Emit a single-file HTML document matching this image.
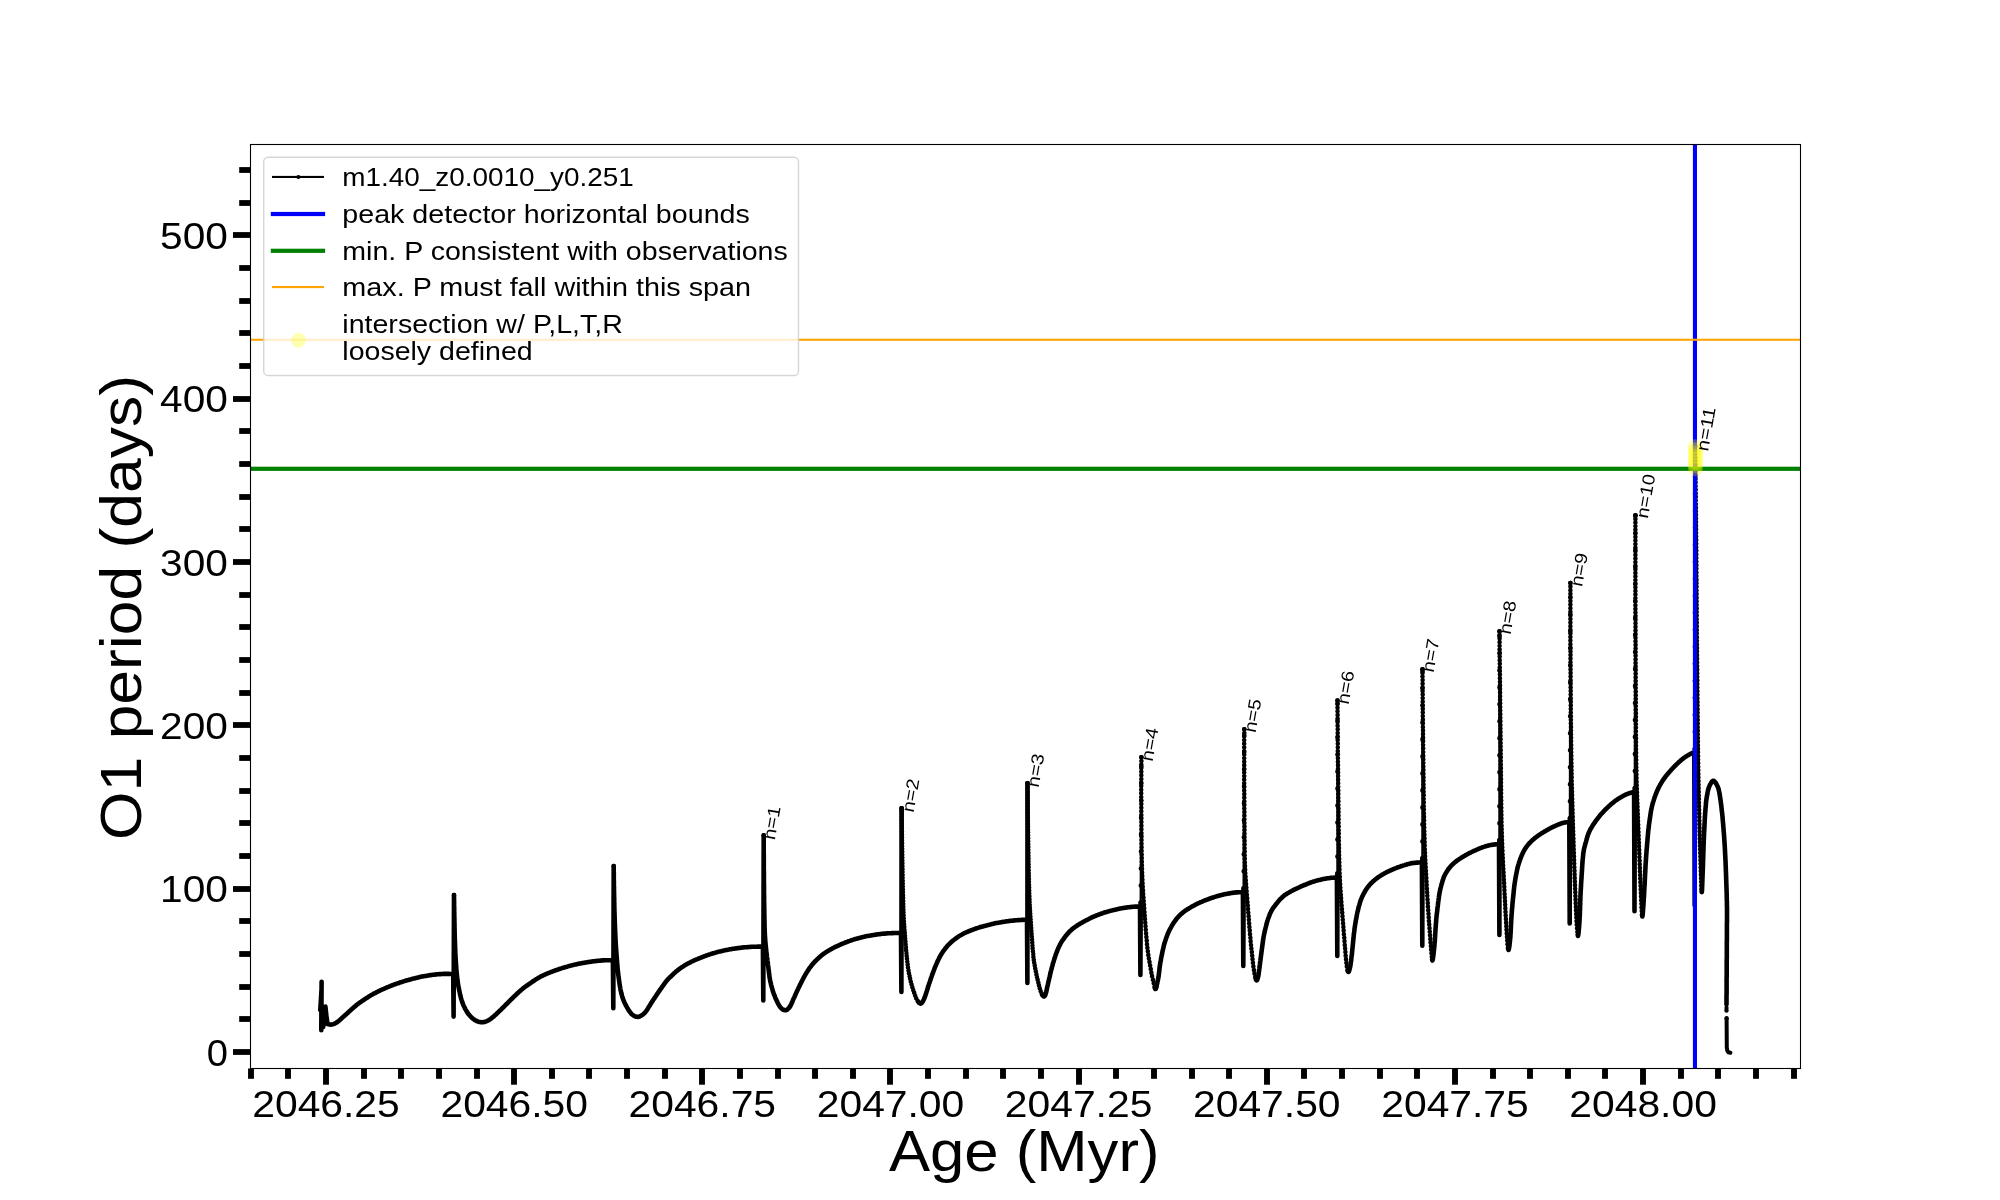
<!DOCTYPE html>
<html><head><meta charset="utf-8"><title>O1 period vs Age</title>
<style>html,body{margin:0;padding:0;background:#fff;}body{width:2000px;height:1200px;overflow:hidden;}svg{display:block;will-change:transform;}text{font-family:"Liberation Sans",sans-serif;fill:#000;}</style></head>
<body>
<svg width="2000" height="1200" viewBox="0 0 2000 1200">
<rect x="0" y="0" width="2000" height="1200" fill="#fff"/>
<defs><clipPath id="ax"><rect x="250.5" y="144.5" width="1550.0" height="924.0"/></clipPath></defs>
<g clip-path="url(#ax)">
<path d="M454.0,895.0 L454.0,895.0 L454.0,896.0 M613.7,866.0 L613.7,866.0 L613.7,867.0 M763.7,835.3 L763.7,835.3 L763.7,836.3 M901.6,808.3 L901.6,808.3 L901.6,808.3 L901.6,809.3 L901.6,810.3 L901.6,811.3 L901.6,812.3 L901.7,813.3 L901.7,814.3 L901.7,815.3 L901.7,816.3 L901.7,817.3 L901.7,818.3 L901.7,819.3 L901.7,820.3 L901.8,821.3 L901.8,822.3 L901.8,823.3 L901.8,824.3 L901.8,825.3 L901.8,826.3 L901.8,827.3 L901.8,828.3 L901.9,829.3 L901.9,830.3 L901.9,831.3 L901.9,832.3 L901.9,833.3 L901.9,834.3 L901.9,835.3 L902.0,836.3 L902.0,837.3 L902.0,838.3 L902.0,839.3 L902.0,840.3 L902.0,841.3 L902.1,842.3 L902.1,843.3 L902.1,844.3 L902.1,845.3 L902.1,846.3 L902.1,847.3 L902.1,848.3 L902.2,849.3 L902.2,850.3 L902.2,851.3 L902.2,852.3 L902.2,853.3 L902.2,854.3 L902.3,855.3 L902.3,856.3 L902.3,857.3 L902.3,858.3 L902.3,859.3 L902.3,860.3 L902.4,861.3 L902.4,862.3 L902.4,863.3 L902.4,864.3 L902.4,865.3 L902.4,866.3 L902.5,867.3 L902.5,868.3 L902.5,869.3 L902.5,870.3 L902.5,871.3 L902.5,872.3 L902.6,873.3 L902.6,874.2 L902.6,875.2 L902.6,876.2 L902.6,877.2 L902.6,878.2 L902.7,879.2 L902.7,880.2 L902.7,881.2 L902.7,882.2 L902.7,883.2 L902.8,884.2 L902.8,885.2 L902.8,886.2 L902.8,887.2 L902.8,888.2 L902.9,889.2 L902.9,890.2 L902.9,891.2 L902.9,892.2 L903.0,893.2 L903.0,894.2 L903.0,895.2 L903.0,896.2 L903.1,897.2 L903.1,898.2 L903.1,899.2 L903.1,900.2 L903.2,901.2 L903.2,902.2 L903.2,903.2 L903.2,904.2 L903.3,905.2 L903.3,906.2 L903.3,907.2 L903.4,908.2 L903.4,909.2 L903.4,910.2 L903.5,911.2 L903.5,912.2 L903.5,913.2 L903.6,914.2 L903.6,915.2 L903.6,916.2 L903.7,917.2 L903.7,918.2 L903.8,919.2 L903.9,920.2 L903.9,921.2 L904.0,922.2 L904.0,923.2 L904.1,924.2 L904.2,925.2 L904.2,926.2 L904.3,927.2 L904.4,928.2 L904.4,929.2 L904.5,930.2 L904.6,931.2 L904.7,932.2 L904.8,933.2 L904.8,934.2 L904.9,935.2 L905.0,936.1 L905.1,937.1 L905.1,938.1 L905.2,939.1 L905.3,940.1 L905.4,941.1 L905.5,942.1 L905.6,943.1 L905.6,944.1 L905.7,945.1 L905.8,946.1 L905.9,947.1 L906.0,948.1 L906.0,949.1 L906.1,950.1 L906.2,951.1 L906.3,952.1 L906.4,953.1 L906.5,954.1 L906.6,955.1 L906.7,956.1 L906.8,957.1 L906.9,958.1 L907.0,959.0 L907.1,960.0 L907.2,961.0 L907.3,962.0 L907.5,963.0 L907.6,964.0 L907.7,965.0 L907.8,966.0 L907.9,967.0 L908.1,968.0 L908.2,969.0 L908.4,970.0 L908.5,970.9 L908.7,971.9 L908.9,972.9 L909.1,973.9 L909.3,974.9 L909.5,975.8 L909.7,976.8 L909.9,977.8 L910.1,978.8 L910.3,979.8 L910.6,980.7 L910.8,981.7 L911.0,982.7 L911.3,983.6 L911.6,984.6 L911.8,985.6 L912.1,986.5 L912.4,987.5 L912.7,988.4 L913.0,989.4 L913.3,990.3 L913.7,991.3 L914.0,992.2 L914.3,993.2 L914.7,994.1 L915.0,995.0 L915.3,996.0 L915.7,996.9 L916.0,997.8 L916.4,998.7 L916.9,999.6 L917.4,1000.5 L917.9,1001.4 L918.6,1002.3 M1027.5,783.3 L1027.5,783.3 L1027.5,783.3 L1027.5,784.3 L1027.5,785.3 L1027.5,786.3 L1027.5,787.3 L1027.5,788.3 L1027.5,789.3 L1027.6,790.3 L1027.6,791.3 L1027.6,792.3 L1027.6,793.3 L1027.6,794.3 L1027.6,795.3 L1027.6,796.3 L1027.6,797.3 L1027.6,798.3 L1027.6,799.3 L1027.6,800.3 L1027.7,801.3 L1027.7,802.3 L1027.7,803.3 L1027.7,804.3 L1027.7,805.3 L1027.7,806.3 L1027.7,807.3 L1027.7,808.3 L1027.7,809.3 L1027.8,810.3 L1027.8,811.3 L1027.8,812.3 L1027.8,813.3 L1027.8,814.3 L1027.8,815.3 L1027.8,816.3 L1027.8,817.3 L1027.9,818.3 L1027.9,819.3 L1027.9,820.3 L1027.9,821.3 L1027.9,822.3 L1027.9,823.3 L1027.9,824.3 L1028.0,825.3 L1028.0,826.3 L1028.0,827.3 L1028.0,828.3 L1028.0,829.3 L1028.0,830.3 L1028.0,831.3 L1028.1,832.3 L1028.1,833.3 L1028.1,834.3 L1028.1,835.3 L1028.1,836.3 L1028.1,837.3 L1028.2,838.3 L1028.2,839.3 L1028.2,840.3 L1028.2,841.3 L1028.2,842.3 L1028.2,843.3 L1028.2,844.3 L1028.3,845.3 L1028.3,846.3 L1028.3,847.3 L1028.3,848.3 L1028.3,849.3 L1028.3,850.3 L1028.4,851.3 L1028.4,852.3 L1028.4,853.3 L1028.4,854.3 L1028.4,855.3 L1028.4,856.3 L1028.5,857.3 L1028.5,858.3 L1028.5,859.3 L1028.5,860.3 L1028.5,861.3 L1028.5,862.3 L1028.6,863.3 L1028.6,864.3 L1028.6,865.3 L1028.6,866.3 L1028.6,867.3 L1028.6,868.3 L1028.7,869.3 L1028.7,870.3 L1028.7,871.3 L1028.7,872.3 L1028.7,873.3 L1028.8,874.3 L1028.8,875.3 L1028.8,876.3 L1028.8,877.2 L1028.8,878.2 L1028.9,879.2 L1028.9,880.2 L1028.9,881.2 L1028.9,882.2 L1029.0,883.2 L1029.0,884.2 L1029.0,885.2 L1029.0,886.2 L1029.1,887.2 L1029.1,888.2 L1029.1,889.2 L1029.2,890.2 L1029.2,891.2 L1029.2,892.2 L1029.2,893.2 L1029.3,894.2 L1029.3,895.2 L1029.4,896.2 L1029.4,897.2 L1029.4,898.2 L1029.5,899.2 L1029.5,900.2 L1029.5,901.2 L1029.6,902.2 L1029.6,903.2 L1029.7,904.2 L1029.7,905.2 L1029.8,906.2 L1029.8,907.2 L1029.9,908.2 L1029.9,909.2 L1030.0,910.2 L1030.1,911.2 L1030.1,912.2 L1030.2,913.2 L1030.2,914.2 L1030.3,915.2 L1030.4,916.2 L1030.4,917.2 L1030.5,918.2 L1030.6,919.2 L1030.7,920.2 L1030.7,921.2 L1030.8,922.2 L1030.9,923.2 L1030.9,924.2 L1031.0,925.2 L1031.1,926.2 L1031.1,927.2 L1031.2,928.2 L1031.3,929.2 L1031.3,930.2 L1031.4,931.2 L1031.5,932.2 L1031.5,933.2 L1031.6,934.2 L1031.7,935.1 L1031.7,936.1 L1031.8,937.1 L1031.9,938.1 L1032.0,939.1 L1032.0,940.1 L1032.1,941.1 L1032.2,942.1 L1032.3,943.1 L1032.3,944.1 L1032.4,945.1 L1032.5,946.1 L1032.6,947.1 L1032.6,948.1 L1032.7,949.1 L1032.8,950.1 L1032.9,951.1 L1033.0,952.1 L1033.1,953.1 L1033.2,954.1 L1033.3,955.1 L1033.3,956.1 L1033.4,957.1 L1033.5,958.1 L1033.7,959.1 L1033.8,960.0 L1033.9,961.0 L1034.1,962.0 L1034.2,963.0 L1034.4,964.0 L1034.6,965.0 L1034.8,966.0 L1034.9,966.9 L1035.1,967.9 L1035.3,968.9 L1035.5,969.9 L1035.7,970.9 L1035.9,971.9 L1036.1,972.8 L1036.3,973.8 L1036.5,974.8 L1036.7,975.8 L1036.9,976.8 L1037.1,977.7 L1037.3,978.7 L1037.6,979.7 L1037.8,980.6 L1038.0,981.6 L1038.3,982.6 L1038.5,983.6 L1038.8,984.5 L1039.0,985.5 L1039.3,986.5 L1039.5,987.4 L1039.8,988.4 L1040.1,989.3 L1040.4,990.3 L1040.7,991.2 L1041.0,992.2 L1041.4,993.1 L1041.9,994.0 L1042.3,995.0 M1140.7,902.5 L1141.4,757.3 L1141.4,757.3 L1141.4,758.3 L1141.4,759.3 L1141.4,760.3 L1141.4,761.3 L1141.4,762.3 L1141.3,763.3 L1141.3,764.3 L1141.3,765.3 L1141.3,766.3 L1141.3,767.3 L1141.3,768.3 L1141.3,769.3 L1141.3,770.3 L1141.3,771.3 L1141.3,772.3 L1141.3,773.3 L1141.3,774.3 L1141.3,775.3 L1141.3,776.3 L1141.3,777.3 L1141.3,778.3 L1141.3,779.3 L1141.3,780.3 L1141.3,781.3 L1141.2,782.3 L1141.2,783.3 L1141.2,784.3 L1141.2,785.3 L1141.2,786.3 L1141.2,787.3 L1141.2,788.3 L1141.2,789.3 L1141.2,790.3 L1141.2,791.3 L1141.2,792.3 L1141.2,793.3 L1141.2,794.3 L1141.2,795.3 L1141.2,796.3 L1141.2,797.3 L1141.2,798.3 L1141.2,799.3 L1141.3,800.3 L1141.3,801.3 L1141.3,802.3 L1141.3,803.3 L1141.3,804.3 L1141.3,805.3 L1141.3,806.3 L1141.3,807.3 L1141.3,808.3 L1141.3,809.3 L1141.3,810.3 L1141.3,811.3 L1141.3,812.3 L1141.3,813.3 L1141.3,814.3 L1141.3,815.3 L1141.3,816.3 L1141.3,817.3 L1141.3,818.3 L1141.3,819.3 L1141.3,820.3 L1141.3,821.3 L1141.4,822.3 L1141.4,823.3 L1141.4,824.3 L1141.4,825.3 L1141.4,826.3 L1141.4,827.3 L1141.4,828.3 L1141.4,829.3 L1141.4,830.3 L1141.4,831.3 L1141.4,832.3 L1141.4,833.3 L1141.4,834.3 L1141.5,835.3 L1141.5,836.3 L1141.5,837.3 L1141.5,838.3 L1141.5,839.3 L1141.5,840.3 L1141.5,841.3 L1141.5,842.3 L1141.5,843.3 L1141.5,844.3 L1141.6,845.3 L1141.6,846.3 L1141.6,847.3 L1141.6,848.3 L1141.6,849.3 L1141.6,850.3 L1141.6,851.3 L1141.6,852.3 L1141.7,853.3 L1141.7,854.3 L1141.7,855.3 L1141.7,856.3 L1141.7,857.3 L1141.8,858.3 L1141.8,859.3 L1141.8,860.3 L1141.8,861.3 L1141.8,862.3 L1141.9,863.3 L1141.9,864.3 L1141.9,865.3 L1141.9,866.3 L1142.0,867.3 L1142.0,868.3 L1142.0,869.3 L1142.1,870.3 L1142.1,871.3 L1142.1,872.3 L1142.2,873.3 L1142.2,874.3 L1142.2,875.3 L1142.3,876.3 L1142.3,877.3 L1142.4,878.3 L1142.4,879.3 L1142.4,880.3 L1142.5,881.3 L1142.5,882.3 L1142.6,883.3 L1142.6,884.3 L1142.7,885.3 L1142.7,886.3 L1142.8,887.3 L1142.8,888.3 L1142.9,889.3 L1143.0,890.3 L1143.0,891.3 L1143.1,892.3 L1143.1,893.3 L1143.2,894.2 L1143.3,895.2 L1143.3,896.2 L1143.4,897.2 L1143.5,898.2 L1143.5,899.2 L1143.6,900.2 L1143.7,901.2 L1143.7,902.2 L1143.8,903.2 L1143.9,904.2 L1144.0,905.2 L1144.0,906.2 L1144.1,907.2 L1144.2,908.2 L1144.2,909.2 L1144.3,910.2 L1144.4,911.2 L1144.5,912.2 L1144.5,913.2 L1144.6,914.2 L1144.7,915.2 L1144.7,916.2 L1144.8,917.2 L1144.9,918.2 L1145.0,919.2 L1145.0,920.2 L1145.1,921.2 L1145.2,922.2 L1145.3,923.2 L1145.3,924.2 L1145.4,925.2 L1145.5,926.2 L1145.6,927.2 L1145.6,928.2 L1145.7,929.2 L1145.8,930.1 L1145.9,931.1 L1146.0,932.1 L1146.1,933.1 L1146.1,934.1 L1146.2,935.1 L1146.3,936.1 L1146.4,937.1 L1146.5,938.1 L1146.6,939.1 L1146.7,940.1 L1146.8,941.1 L1146.9,942.1 L1146.9,943.1 L1147.0,944.1 L1147.1,945.1 L1147.2,946.1 L1147.3,947.1 L1147.4,948.1 L1147.6,949.1 L1147.7,950.1 L1147.8,951.1 L1147.9,952.0 L1148.1,953.0 L1148.2,954.0 L1148.3,955.0 L1148.5,956.0 L1148.6,957.0 L1148.8,958.0 L1149.0,959.0 L1149.1,959.9 L1149.3,960.9 L1149.5,961.9 L1149.6,962.9 L1149.8,963.9 L1150.0,964.9 L1150.2,965.9 L1150.3,966.8 L1150.5,967.8 L1150.7,968.8 L1150.9,969.8 L1151.1,970.8 L1151.2,971.8 L1151.4,972.7 L1151.6,973.7 L1151.8,974.7 L1152.0,975.7 L1152.2,976.7 L1152.4,977.6 L1152.7,978.6 L1152.9,979.6 L1153.1,980.6 L1153.4,981.6 L1153.6,982.7 L1153.9,983.8 L1154.1,984.9 L1154.4,986.0 L1154.6,987.0 L1154.9,987.9 M1243.6,888.2 L1244.3,729.3 L1244.3,729.3 L1244.3,730.3 L1244.3,731.3 L1244.3,732.3 L1244.3,733.3 L1244.3,734.3 L1244.3,735.3 L1244.2,736.3 L1244.2,737.3 L1244.2,738.3 L1244.2,739.3 L1244.2,740.3 L1244.2,741.3 L1244.2,742.3 L1244.2,743.3 L1244.2,744.3 L1244.2,745.3 L1244.2,746.3 L1244.2,747.3 L1244.2,748.3 L1244.2,749.3 L1244.2,750.3 L1244.2,751.3 L1244.2,752.3 L1244.2,753.3 L1244.2,754.3 L1244.2,755.3 L1244.2,756.3 L1244.2,757.3 L1244.2,758.3 L1244.2,759.3 L1244.2,760.3 L1244.2,761.3 L1244.2,762.3 L1244.2,763.3 L1244.2,764.3 L1244.2,765.3 L1244.2,766.3 L1244.2,767.3 L1244.2,768.3 L1244.2,769.3 L1244.2,770.3 L1244.2,771.3 L1244.2,772.3 L1244.2,773.3 L1244.2,774.3 L1244.2,775.3 L1244.2,776.3 L1244.2,777.3 L1244.2,778.3 L1244.2,779.3 L1244.2,780.3 L1244.2,781.3 L1244.2,782.3 L1244.2,783.3 L1244.2,784.3 L1244.2,785.3 L1244.2,786.3 L1244.2,787.3 L1244.2,788.3 L1244.2,789.3 L1244.2,790.3 L1244.2,791.3 L1244.2,792.3 L1244.2,793.3 L1244.3,794.3 L1244.3,795.3 L1244.3,796.3 L1244.3,797.3 L1244.3,798.3 L1244.3,799.3 L1244.3,800.3 L1244.3,801.3 L1244.3,802.3 L1244.3,803.3 L1244.3,804.3 L1244.3,805.3 L1244.3,806.3 L1244.3,807.3 L1244.3,808.3 L1244.3,809.2 L1244.4,810.2 L1244.4,811.2 L1244.4,812.2 L1244.4,813.2 L1244.4,814.2 L1244.4,815.2 L1244.4,816.2 L1244.4,817.2 L1244.4,818.2 L1244.4,819.2 L1244.4,820.2 L1244.4,821.2 L1244.4,822.2 L1244.4,823.2 L1244.5,824.2 L1244.5,825.2 L1244.5,826.2 L1244.5,827.2 L1244.5,828.2 L1244.5,829.2 L1244.5,830.2 L1244.5,831.2 L1244.5,832.2 L1244.5,833.2 L1244.5,834.2 L1244.5,835.2 L1244.5,836.2 L1244.5,837.2 L1244.6,838.2 L1244.6,839.2 L1244.6,840.2 L1244.6,841.2 L1244.6,842.2 L1244.6,843.2 L1244.6,844.2 L1244.6,845.2 L1244.6,846.2 L1244.6,847.2 L1244.6,848.2 L1244.6,849.2 L1244.6,850.2 L1244.7,851.2 L1244.7,852.2 L1244.7,853.2 L1244.7,854.2 L1244.7,855.2 L1244.7,856.2 L1244.8,857.2 L1244.8,858.2 L1244.8,859.2 L1244.8,860.2 L1244.9,861.2 L1244.9,862.2 L1244.9,863.2 L1244.9,864.2 L1245.0,865.2 L1245.0,866.2 L1245.1,867.2 L1245.1,868.2 L1245.1,869.2 L1245.2,870.2 L1245.2,871.2 L1245.3,872.2 L1245.3,873.2 L1245.4,874.2 L1245.5,875.2 L1245.5,876.2 L1245.6,877.2 L1245.6,878.2 L1245.7,879.2 L1245.8,880.2 L1245.9,881.2 L1245.9,882.2 L1246.0,883.2 L1246.1,884.2 L1246.1,885.2 L1246.2,886.2 L1246.3,887.2 L1246.4,888.2 L1246.5,889.2 L1246.5,890.2 L1246.6,891.1 L1246.7,892.1 L1246.8,893.1 L1246.8,894.1 L1246.9,895.1 L1247.0,896.1 L1247.1,897.1 L1247.2,898.1 L1247.2,899.1 L1247.3,900.1 L1247.4,901.1 L1247.5,902.1 L1247.5,903.1 L1247.6,904.1 L1247.7,905.1 L1247.8,906.1 L1247.9,907.1 L1247.9,908.1 L1248.0,909.1 L1248.1,910.1 L1248.2,911.1 L1248.3,912.1 L1248.3,913.1 L1248.4,914.1 L1248.5,915.1 L1248.6,916.1 L1248.7,917.1 L1248.7,918.0 L1248.8,919.0 L1248.9,920.0 L1249.0,921.0 L1249.0,922.0 L1249.1,923.0 L1249.2,924.0 L1249.3,925.0 L1249.4,926.0 L1249.4,927.0 L1249.5,928.0 L1249.6,929.0 L1249.7,930.0 L1249.8,931.0 L1249.9,932.0 L1249.9,933.0 L1250.0,934.0 L1250.1,935.0 L1250.2,936.0 L1250.3,937.0 L1250.4,938.0 L1250.5,939.0 L1250.5,940.0 L1250.6,941.0 L1250.7,941.9 L1250.8,942.9 L1250.9,943.9 L1251.0,944.9 L1251.1,945.9 L1251.2,946.9 L1251.3,947.9 L1251.4,948.9 L1251.6,949.9 L1251.7,950.9 L1251.8,951.9 L1251.9,952.9 L1252.0,953.9 L1252.1,954.9 L1252.2,955.9 L1252.3,956.9 L1252.4,957.9 L1252.5,958.8 L1252.6,959.8 L1252.7,960.8 L1252.8,961.8 L1252.9,962.8 L1253.1,963.8 L1253.2,964.8 L1253.3,965.8 L1253.4,966.8 L1253.6,967.8 L1253.7,968.7 L1253.9,969.7 L1254.0,970.7 L1254.2,971.7 L1254.4,972.7 L1254.5,973.7 L1254.7,974.7 L1255.0,975.8 L1255.2,976.9 L1255.5,978.0 L1255.8,979.1 M1337.4,873.6 L1337.5,700.5 L1337.5,700.5 L1337.5,701.5 L1337.5,702.5 L1337.5,703.5 L1337.5,704.5 L1337.5,705.5 L1337.5,706.5 L1337.5,707.5 L1337.5,708.5 L1337.5,709.5 L1337.5,710.5 L1337.5,711.5 L1337.6,712.5 L1337.6,713.5 L1337.6,714.5 L1337.6,715.5 L1337.6,716.5 L1337.6,717.5 L1337.6,718.5 L1337.6,719.5 L1337.6,720.5 L1337.6,721.5 L1337.6,722.5 L1337.6,723.5 L1337.6,724.5 L1337.6,725.5 L1337.6,726.5 L1337.6,727.5 L1337.7,728.5 L1337.7,729.5 L1337.7,730.5 L1337.7,731.5 L1337.7,732.5 L1337.7,733.5 L1337.7,734.5 L1337.7,735.5 L1337.7,736.5 L1337.7,737.5 L1337.7,738.5 L1337.7,739.5 L1337.7,740.5 L1337.8,741.5 L1337.8,742.5 L1337.8,743.5 L1337.8,744.5 L1337.8,745.5 L1337.8,746.5 L1337.8,747.5 L1337.8,748.5 L1337.8,749.5 L1337.8,750.5 L1337.8,751.5 L1337.9,752.5 L1337.9,753.5 L1337.9,754.5 L1337.9,755.5 L1337.9,756.5 L1337.9,757.5 L1337.9,758.5 L1337.9,759.5 L1337.9,760.5 L1337.9,761.5 L1338.0,762.5 L1338.0,763.5 L1338.0,764.5 L1338.0,765.5 L1338.0,766.5 L1338.0,767.5 L1338.0,768.5 L1338.0,769.5 L1338.0,770.5 L1338.0,771.5 L1338.1,772.5 L1338.1,773.5 L1338.1,774.5 L1338.1,775.5 L1338.1,776.5 L1338.1,777.5 L1338.1,778.5 L1338.1,779.5 L1338.1,780.5 L1338.2,781.5 L1338.2,782.5 L1338.2,783.5 L1338.2,784.5 L1338.2,785.5 L1338.2,786.5 L1338.2,787.5 L1338.2,788.5 L1338.2,789.5 L1338.3,790.5 L1338.3,791.5 L1338.3,792.5 L1338.3,793.5 L1338.3,794.5 L1338.3,795.5 L1338.3,796.5 L1338.3,797.5 L1338.3,798.5 L1338.4,799.5 L1338.4,800.5 L1338.4,801.5 L1338.4,802.5 L1338.4,803.5 L1338.4,804.5 L1338.4,805.5 L1338.4,806.5 L1338.5,807.5 L1338.5,808.5 L1338.5,809.5 L1338.5,810.5 L1338.5,811.5 L1338.5,812.5 L1338.5,813.5 L1338.5,814.5 L1338.5,815.5 L1338.6,816.5 L1338.6,817.5 L1338.6,818.5 L1338.6,819.5 L1338.6,820.5 L1338.6,821.5 L1338.6,822.5 L1338.6,823.5 L1338.7,824.5 L1338.7,825.5 L1338.7,826.5 L1338.7,827.5 L1338.7,828.5 L1338.7,829.5 L1338.7,830.5 L1338.7,831.5 L1338.7,832.5 L1338.8,833.5 L1338.8,834.5 L1338.8,835.5 L1338.8,836.5 L1338.8,837.5 L1338.8,838.5 L1338.8,839.5 L1338.8,840.5 L1338.9,841.5 L1338.9,842.5 L1338.9,843.5 L1338.9,844.5 L1338.9,845.5 L1338.9,846.5 L1339.0,847.5 L1339.0,848.5 L1339.0,849.5 L1339.0,850.5 L1339.0,851.5 L1339.0,852.5 L1339.1,853.5 L1339.1,854.5 L1339.1,855.5 L1339.1,856.5 L1339.2,857.5 L1339.2,858.5 L1339.2,859.5 L1339.2,860.5 L1339.3,861.5 L1339.3,862.5 L1339.3,863.5 L1339.3,864.5 L1339.4,865.5 L1339.4,866.5 L1339.4,867.5 L1339.5,868.5 L1339.5,869.5 L1339.5,870.5 L1339.6,871.5 L1339.6,872.5 L1339.6,873.5 L1339.7,874.5 L1339.7,875.5 L1339.8,876.5 L1339.8,877.5 L1339.8,878.5 L1339.9,879.5 L1339.9,880.5 L1340.0,881.5 L1340.0,882.5 L1340.1,883.4 L1340.2,884.4 L1340.2,885.4 L1340.3,886.4 L1340.3,887.4 L1340.4,888.4 L1340.5,889.4 L1340.5,890.4 L1340.6,891.4 L1340.7,892.4 L1340.7,893.4 L1340.8,894.4 L1340.9,895.4 L1340.9,896.4 L1341.0,897.4 L1341.1,898.4 L1341.2,899.4 L1341.2,900.4 L1341.3,901.4 L1341.4,902.4 L1341.5,903.4 L1341.6,904.4 L1341.6,905.4 L1341.7,906.4 L1341.8,907.4 L1341.9,908.4 L1341.9,909.4 L1342.0,910.4 L1342.1,911.4 L1342.2,912.4 L1342.3,913.4 L1342.3,914.4 L1342.4,915.4 L1342.5,916.4 L1342.6,917.4 L1342.7,918.3 L1342.7,919.3 L1342.8,920.3 L1342.9,921.3 L1343.0,922.3 L1343.1,923.3 L1343.1,924.3 L1343.2,925.3 L1343.3,926.3 L1343.4,927.3 L1343.5,928.3 L1343.5,929.3 L1343.6,930.3 L1343.7,931.3 L1343.8,932.3 L1343.9,933.3 L1343.9,934.3 L1344.0,935.3 L1344.1,936.3 L1344.2,937.3 L1344.3,938.3 L1344.3,939.3 L1344.4,940.3 L1344.5,941.3 L1344.6,942.3 L1344.7,943.3 L1344.7,944.3 L1344.8,945.3 L1344.9,946.3 L1345.0,947.2 L1345.1,948.2 L1345.1,949.2 L1345.2,950.2 L1345.3,951.2 L1345.4,952.2 L1345.5,953.2 L1345.6,954.2 L1345.6,955.2 L1345.7,956.2 L1345.8,957.2 L1345.9,958.2 L1346.0,959.2 L1346.1,960.2 L1346.2,961.2 L1346.3,962.2 L1346.4,963.2 L1346.5,964.2 L1346.6,965.2 L1346.8,966.3 L1347.0,967.5 L1347.2,968.7 L1347.5,969.8 L1347.8,970.8 M1422.4,858.4 L1422.5,669.3 L1422.5,669.3 L1422.5,670.3 L1422.5,671.3 L1422.5,672.3 L1422.5,673.3 L1422.5,674.3 L1422.5,675.3 L1422.5,676.3 L1422.5,677.3 L1422.5,678.3 L1422.6,679.3 L1422.6,680.3 L1422.6,681.3 L1422.6,682.3 L1422.6,683.3 L1422.6,684.3 L1422.6,685.3 L1422.6,686.3 L1422.6,687.3 L1422.6,688.3 L1422.6,689.3 L1422.6,690.3 L1422.6,691.3 L1422.6,692.3 L1422.6,693.3 L1422.7,694.3 L1422.7,695.3 L1422.7,696.3 L1422.7,697.3 L1422.7,698.3 L1422.7,699.3 L1422.7,700.3 L1422.7,701.3 L1422.7,702.3 L1422.7,703.3 L1422.7,704.3 L1422.7,705.3 L1422.7,706.3 L1422.8,707.3 L1422.8,708.3 L1422.8,709.3 L1422.8,710.3 L1422.8,711.3 L1422.8,712.3 L1422.8,713.3 L1422.8,714.3 L1422.8,715.3 L1422.8,716.3 L1422.8,717.3 L1422.9,718.3 L1422.9,719.3 L1422.9,720.3 L1422.9,721.3 L1422.9,722.3 L1422.9,723.3 L1422.9,724.3 L1422.9,725.3 L1422.9,726.3 L1422.9,727.3 L1422.9,728.3 L1423.0,729.3 L1423.0,730.3 L1423.0,731.3 L1423.0,732.3 L1423.0,733.3 L1423.0,734.3 L1423.0,735.3 L1423.0,736.3 L1423.0,737.3 L1423.1,738.3 L1423.1,739.3 L1423.1,740.3 L1423.1,741.3 L1423.1,742.3 L1423.1,743.3 L1423.1,744.3 L1423.1,745.3 L1423.1,746.3 L1423.1,747.3 L1423.2,748.3 L1423.2,749.3 L1423.2,750.3 L1423.2,751.3 L1423.2,752.3 L1423.2,753.3 L1423.2,754.3 L1423.2,755.3 L1423.2,756.3 L1423.3,757.3 L1423.3,758.3 L1423.3,759.3 L1423.3,760.3 L1423.3,761.3 L1423.3,762.2 L1423.3,763.2 L1423.3,764.2 L1423.3,765.2 L1423.3,766.2 L1423.4,767.2 L1423.4,768.2 L1423.4,769.2 L1423.4,770.2 L1423.4,771.2 L1423.4,772.2 L1423.4,773.2 L1423.4,774.2 L1423.4,775.2 L1423.5,776.2 L1423.5,777.2 L1423.5,778.2 L1423.5,779.2 L1423.5,780.2 L1423.5,781.2 L1423.5,782.2 L1423.5,783.2 L1423.5,784.2 L1423.6,785.2 L1423.6,786.2 L1423.6,787.2 L1423.6,788.2 L1423.6,789.2 L1423.6,790.2 L1423.6,791.2 L1423.6,792.2 L1423.6,793.2 L1423.7,794.2 L1423.7,795.2 L1423.7,796.2 L1423.7,797.2 L1423.7,798.2 L1423.7,799.2 L1423.7,800.2 L1423.7,801.2 L1423.8,802.2 L1423.8,803.2 L1423.8,804.2 L1423.8,805.2 L1423.8,806.2 L1423.8,807.2 L1423.8,808.2 L1423.9,809.2 L1423.9,810.2 L1423.9,811.2 L1423.9,812.2 L1423.9,813.2 L1423.9,814.2 L1424.0,815.2 L1424.0,816.2 L1424.0,817.2 L1424.0,818.2 L1424.0,819.2 L1424.1,820.2 L1424.1,821.2 L1424.1,822.2 L1424.1,823.2 L1424.1,824.2 L1424.2,825.2 L1424.2,826.2 L1424.2,827.2 L1424.2,828.2 L1424.2,829.2 L1424.3,830.2 L1424.3,831.2 L1424.3,832.2 L1424.3,833.2 L1424.4,834.2 L1424.4,835.2 L1424.4,836.2 L1424.4,837.2 L1424.5,838.2 L1424.5,839.2 L1424.5,840.2 L1424.6,841.2 L1424.6,842.2 L1424.6,843.2 L1424.7,844.2 L1424.7,845.2 L1424.7,846.2 L1424.8,847.2 L1424.8,848.2 L1424.8,849.2 L1424.9,850.2 L1424.9,851.2 L1425.0,852.2 L1425.0,853.2 L1425.1,854.2 L1425.1,855.2 L1425.1,856.2 L1425.2,857.2 L1425.2,858.2 L1425.3,859.2 L1425.3,860.2 L1425.4,861.2 L1425.4,862.2 L1425.5,863.2 L1425.5,864.2 L1425.6,865.2 L1425.7,866.2 L1425.7,867.2 L1425.8,868.2 L1425.8,869.2 L1425.9,870.2 L1425.9,871.2 L1426.0,872.2 L1426.0,873.1 L1426.1,874.1 L1426.1,875.1 L1426.2,876.1 L1426.3,877.1 L1426.3,878.1 L1426.4,879.1 L1426.4,880.1 L1426.5,881.1 L1426.5,882.1 L1426.6,883.1 L1426.6,884.1 L1426.7,885.1 L1426.8,886.1 L1426.8,887.1 L1426.9,888.1 L1426.9,889.1 L1427.0,890.1 L1427.0,891.1 L1427.1,892.1 L1427.2,893.1 L1427.2,894.1 L1427.3,895.1 L1427.3,896.1 L1427.4,897.1 L1427.5,898.1 L1427.5,899.1 L1427.6,900.1 L1427.6,901.1 L1427.7,902.1 L1427.8,903.1 L1427.8,904.1 L1427.9,905.1 L1427.9,906.1 L1428.0,907.1 L1428.1,908.1 L1428.1,909.1 L1428.2,910.1 L1428.3,911.1 L1428.3,912.1 L1428.4,913.1 L1428.5,914.1 L1428.5,915.1 L1428.6,916.1 L1428.7,917.0 L1428.7,918.0 L1428.8,919.0 L1428.9,920.0 L1428.9,921.0 L1429.0,922.0 L1429.1,923.0 L1429.2,924.0 L1429.2,925.0 L1429.3,926.0 L1429.4,927.0 L1429.5,928.0 L1429.5,929.0 L1429.6,930.0 L1429.7,931.0 L1429.8,932.0 L1429.8,933.0 L1429.9,934.0 L1430.0,935.0 L1430.1,936.0 L1430.1,937.0 L1430.2,938.0 L1430.3,939.0 L1430.4,940.0 L1430.5,941.0 L1430.5,942.0 L1430.6,943.0 L1430.7,944.0 L1430.8,945.1 L1430.9,946.1 L1430.9,947.2 L1431.0,948.3 L1431.1,949.3 L1431.2,950.4 L1431.3,951.5 L1431.4,952.5 L1431.5,953.5 L1431.6,954.5 L1431.7,955.5 L1431.8,956.5 L1431.9,957.4 L1432.0,958.3 L1432.1,959.1 M1499.4,840.2 L1499.5,631.4 L1499.5,631.4 L1499.5,632.4 L1499.5,633.4 L1499.5,634.4 L1499.5,635.4 L1499.5,636.4 L1499.5,637.4 L1499.6,638.4 L1499.6,639.4 L1499.6,640.4 L1499.6,641.4 L1499.6,642.4 L1499.6,643.4 L1499.6,644.4 L1499.6,645.4 L1499.6,646.4 L1499.6,647.4 L1499.6,648.4 L1499.6,649.4 L1499.7,650.4 L1499.7,651.4 L1499.7,652.4 L1499.7,653.4 L1499.7,654.4 L1499.7,655.4 L1499.7,656.4 L1499.7,657.4 L1499.7,658.4 L1499.7,659.4 L1499.7,660.4 L1499.7,661.4 L1499.8,662.4 L1499.8,663.4 L1499.8,664.4 L1499.8,665.4 L1499.8,666.4 L1499.8,667.4 L1499.8,668.4 L1499.8,669.4 L1499.8,670.4 L1499.8,671.4 L1499.9,672.4 L1499.9,673.4 L1499.9,674.4 L1499.9,675.4 L1499.9,676.4 L1499.9,677.4 L1499.9,678.4 L1499.9,679.4 L1499.9,680.3 L1499.9,681.3 L1500.0,682.3 L1500.0,683.3 L1500.0,684.3 L1500.0,685.3 L1500.0,686.3 L1500.0,687.3 L1500.0,688.3 L1500.0,689.3 L1500.0,690.3 L1500.0,691.3 L1500.1,692.3 L1500.1,693.3 L1500.1,694.3 L1500.1,695.3 L1500.1,696.3 L1500.1,697.3 L1500.1,698.3 L1500.1,699.3 L1500.1,700.3 L1500.2,701.3 L1500.2,702.3 L1500.2,703.3 L1500.2,704.3 L1500.2,705.3 L1500.2,706.3 L1500.2,707.3 L1500.2,708.3 L1500.2,709.3 L1500.2,710.3 L1500.3,711.3 L1500.3,712.3 L1500.3,713.3 L1500.3,714.3 L1500.3,715.3 L1500.3,716.3 L1500.3,717.3 L1500.3,718.3 L1500.3,719.3 L1500.4,720.3 L1500.4,721.3 L1500.4,722.3 L1500.4,723.3 L1500.4,724.3 L1500.4,725.3 L1500.4,726.3 L1500.4,727.3 L1500.4,728.3 L1500.5,729.3 L1500.5,730.3 L1500.5,731.3 L1500.5,732.3 L1500.5,733.3 L1500.5,734.3 L1500.5,735.3 L1500.5,736.3 L1500.5,737.3 L1500.6,738.3 L1500.6,739.3 L1500.6,740.3 L1500.6,741.3 L1500.6,742.3 L1500.6,743.3 L1500.6,744.3 L1500.6,745.3 L1500.6,746.3 L1500.7,747.3 L1500.7,748.3 L1500.7,749.3 L1500.7,750.3 L1500.7,751.3 L1500.7,752.3 L1500.7,753.3 L1500.7,754.3 L1500.7,755.3 L1500.8,756.3 L1500.8,757.3 L1500.8,758.3 L1500.8,759.3 L1500.8,760.3 L1500.8,761.3 L1500.8,762.3 L1500.8,763.3 L1500.8,764.3 L1500.9,765.3 L1500.9,766.3 L1500.9,767.3 L1500.9,768.3 L1500.9,769.3 L1500.9,770.3 L1500.9,771.3 L1500.9,772.3 L1500.9,773.3 L1500.9,774.2 L1500.9,775.2 L1501.0,776.2 L1501.0,777.2 L1501.0,778.2 L1501.0,779.2 L1501.0,780.2 L1501.0,781.2 L1501.0,782.2 L1501.0,783.2 L1501.0,784.2 L1501.0,785.2 L1501.0,786.2 L1501.0,787.2 L1501.0,788.2 L1501.1,789.2 L1501.1,790.2 L1501.1,791.2 L1501.1,792.2 L1501.1,793.2 L1501.1,794.2 L1501.1,795.2 L1501.1,796.2 L1501.1,797.2 L1501.1,798.2 L1501.2,799.2 L1501.2,800.2 L1501.2,801.2 L1501.2,802.2 L1501.2,803.2 L1501.2,804.2 L1501.2,805.2 L1501.2,806.2 L1501.3,807.2 L1501.3,808.2 L1501.3,809.2 L1501.3,810.2 L1501.3,811.2 L1501.3,812.2 L1501.3,813.2 L1501.4,814.2 L1501.4,815.2 L1501.4,816.2 L1501.4,817.2 L1501.4,818.2 L1501.5,819.2 L1501.5,820.2 L1501.5,821.2 L1501.5,822.2 L1501.5,823.2 L1501.6,824.2 L1501.6,825.2 L1501.6,826.2 L1501.6,827.2 L1501.7,828.2 L1501.7,829.2 L1501.7,830.2 L1501.7,831.2 L1501.8,832.2 L1501.8,833.2 L1501.8,834.2 L1501.9,835.2 L1501.9,836.2 L1501.9,837.2 L1501.9,838.2 L1502.0,839.2 L1502.0,840.2 L1502.1,841.2 L1502.1,842.2 L1502.1,843.2 L1502.2,844.2 L1502.2,845.2 L1502.2,846.2 L1502.3,847.2 L1502.3,848.2 L1502.4,849.2 L1502.4,850.2 L1502.5,851.2 L1502.5,852.2 L1502.6,853.2 L1502.6,854.1 L1502.6,855.1 L1502.7,856.1 L1502.7,857.1 L1502.8,858.1 L1502.8,859.1 L1502.9,860.1 L1502.9,861.1 L1503.0,862.1 L1503.0,863.1 L1503.1,864.1 L1503.1,865.1 L1503.2,866.1 L1503.2,867.1 L1503.3,868.1 L1503.3,869.1 L1503.4,870.1 L1503.5,871.1 L1503.5,872.1 L1503.6,873.1 L1503.6,874.1 L1503.7,875.1 L1503.7,876.1 L1503.8,877.1 L1503.8,878.1 L1503.9,879.1 L1503.9,880.1 L1504.0,881.1 L1504.0,882.1 L1504.1,883.1 L1504.1,884.1 L1504.2,885.1 L1504.2,886.1 L1504.3,887.1 L1504.3,888.1 L1504.4,889.1 L1504.4,890.1 L1504.5,891.1 L1504.5,892.1 L1504.6,893.1 L1504.6,894.1 L1504.7,895.1 L1504.7,896.1 L1504.8,897.1 L1504.8,898.0 L1504.9,899.0 L1504.9,900.0 L1505.0,901.0 L1505.0,902.0 L1505.1,903.0 L1505.1,904.0 L1505.2,905.0 L1505.2,906.0 L1505.3,907.0 L1505.3,908.0 L1505.4,909.0 L1505.4,910.0 L1505.5,911.0 L1505.5,912.0 L1505.6,913.0 L1505.6,914.0 L1505.7,915.0 L1505.7,916.0 L1505.8,917.0 L1505.8,918.0 L1505.9,919.0 L1506.0,920.0 L1506.0,921.0 L1506.1,922.0 L1506.1,923.0 L1506.2,924.0 L1506.2,925.0 L1506.3,926.0 L1506.4,927.0 L1506.4,928.0 L1506.5,929.0 L1506.5,930.0 L1506.6,931.0 L1506.7,932.0 L1506.7,933.0 L1506.8,934.0 L1506.8,935.0 L1506.9,936.0 L1507.0,936.9 L1507.0,937.9 L1507.1,938.9 L1507.2,939.9 L1507.3,941.0 L1507.3,942.0 L1507.4,943.1 L1507.5,944.2 L1507.7,945.4 L1507.8,946.5 L1507.9,947.6 L1508.1,948.5 M1569.9,818.2 L1570.4,583.0 L1570.4,583.0 L1570.4,584.0 L1570.4,585.0 L1570.4,586.0 L1570.4,587.0 L1570.4,588.0 L1570.4,589.0 L1570.4,590.0 L1570.4,591.0 L1570.4,592.0 L1570.4,593.0 L1570.4,594.0 L1570.4,595.0 L1570.4,596.0 L1570.4,597.0 L1570.4,598.0 L1570.4,599.0 L1570.4,600.0 L1570.4,601.0 L1570.4,602.0 L1570.4,603.0 L1570.4,604.0 L1570.4,605.0 L1570.4,606.0 L1570.4,607.0 L1570.4,608.0 L1570.4,609.0 L1570.4,610.0 L1570.4,611.0 L1570.4,612.0 L1570.4,613.0 L1570.4,614.0 L1570.4,615.0 L1570.4,616.0 L1570.4,617.0 L1570.4,618.0 L1570.4,619.0 L1570.4,620.0 L1570.4,621.0 L1570.4,622.0 L1570.4,623.0 L1570.4,624.0 L1570.4,625.0 L1570.4,626.0 L1570.4,627.0 L1570.4,628.0 L1570.4,629.0 L1570.4,630.0 L1570.4,631.0 L1570.4,632.0 L1570.4,633.0 L1570.4,634.0 L1570.4,635.0 L1570.4,636.0 L1570.4,637.0 L1570.4,638.0 L1570.4,639.0 L1570.4,640.0 L1570.4,641.0 L1570.4,642.0 L1570.4,643.0 L1570.4,644.0 L1570.4,645.0 L1570.4,646.0 L1570.5,647.0 L1570.5,648.0 L1570.5,649.0 L1570.5,650.0 L1570.5,651.0 L1570.5,652.0 L1570.5,653.0 L1570.5,654.0 L1570.5,655.0 L1570.5,656.0 L1570.5,657.0 L1570.5,658.0 L1570.5,659.0 L1570.5,660.0 L1570.5,661.0 L1570.5,662.0 L1570.5,663.0 L1570.5,664.0 L1570.5,665.0 L1570.5,666.0 L1570.5,667.0 L1570.5,668.0 L1570.5,669.0 L1570.6,670.0 L1570.6,671.0 L1570.6,672.0 L1570.6,673.0 L1570.6,674.0 L1570.6,675.0 L1570.6,676.0 L1570.6,677.0 L1570.6,678.0 L1570.6,679.0 L1570.6,680.0 L1570.6,681.0 L1570.6,682.0 L1570.6,683.0 L1570.6,684.0 L1570.6,685.0 L1570.6,686.0 L1570.6,687.0 L1570.7,688.0 L1570.7,689.0 L1570.7,690.0 L1570.7,691.0 L1570.7,692.0 L1570.7,693.0 L1570.7,694.0 L1570.7,695.0 L1570.7,696.0 L1570.7,697.0 L1570.7,698.0 L1570.7,699.0 L1570.7,700.0 L1570.7,701.0 L1570.8,702.0 L1570.8,703.0 L1570.8,704.0 L1570.8,705.0 L1570.8,706.0 L1570.8,707.0 L1570.8,708.0 L1570.8,709.0 L1570.8,710.0 L1570.8,711.0 L1570.8,712.0 L1570.8,713.0 L1570.8,714.0 L1570.9,715.0 L1570.9,716.0 L1570.9,717.0 L1570.9,717.9 L1570.9,718.9 L1570.9,719.9 L1570.9,720.9 L1570.9,721.9 L1570.9,722.9 L1570.9,723.9 L1570.9,724.9 L1571.0,725.9 L1571.0,726.9 L1571.0,727.9 L1571.0,728.9 L1571.0,729.9 L1571.0,730.9 L1571.0,731.9 L1571.0,732.9 L1571.0,733.9 L1571.0,734.9 L1571.1,735.9 L1571.1,736.9 L1571.1,737.9 L1571.1,738.9 L1571.1,739.9 L1571.1,740.9 L1571.1,741.9 L1571.1,742.9 L1571.1,743.9 L1571.2,744.9 L1571.2,745.9 L1571.2,746.9 L1571.2,747.9 L1571.2,748.9 L1571.2,749.9 L1571.2,750.9 L1571.2,751.9 L1571.3,752.9 L1571.3,753.9 L1571.3,754.9 L1571.3,755.9 L1571.3,756.9 L1571.3,757.9 L1571.3,758.9 L1571.4,759.9 L1571.4,760.9 L1571.4,761.9 L1571.4,762.9 L1571.4,763.9 L1571.4,764.9 L1571.5,765.9 L1571.5,766.9 L1571.5,767.9 L1571.5,768.9 L1571.5,769.9 L1571.5,770.9 L1571.6,771.9 L1571.6,772.9 L1571.6,773.9 L1571.6,774.9 L1571.6,775.9 L1571.7,776.9 L1571.7,777.9 L1571.7,778.9 L1571.7,779.9 L1571.7,780.9 L1571.8,781.9 L1571.8,782.9 L1571.8,783.9 L1571.8,784.9 L1571.9,785.9 L1571.9,786.9 L1571.9,787.9 L1571.9,788.9 L1572.0,789.9 L1572.0,790.9 L1572.0,791.9 L1572.0,792.9 L1572.1,793.9 L1572.1,794.9 L1572.1,795.9 L1572.1,796.9 L1572.2,797.9 L1572.2,798.9 L1572.2,799.9 L1572.2,800.9 L1572.3,801.9 L1572.3,802.9 L1572.3,803.9 L1572.3,804.9 L1572.4,805.9 L1572.4,806.9 L1572.4,807.9 L1572.5,808.9 L1572.5,809.9 L1572.5,810.9 L1572.5,811.9 L1572.6,812.9 L1572.6,813.9 L1572.6,814.9 L1572.7,815.9 L1572.7,816.9 L1572.7,817.9 L1572.8,818.9 L1572.8,819.9 L1572.8,820.9 L1572.8,821.9 L1572.9,822.9 L1572.9,823.9 L1572.9,824.9 L1573.0,825.9 L1573.0,826.9 L1573.0,827.9 L1573.1,828.9 L1573.1,829.9 L1573.1,830.9 L1573.2,831.9 L1573.2,832.9 L1573.2,833.9 L1573.3,834.9 L1573.3,835.9 L1573.3,836.9 L1573.4,837.9 L1573.4,838.9 L1573.4,839.9 L1573.5,840.9 L1573.5,841.9 L1573.5,842.9 L1573.6,843.9 L1573.6,844.9 L1573.6,845.9 L1573.6,846.9 L1573.7,847.9 L1573.7,848.9 L1573.7,849.9 L1573.8,850.9 L1573.8,851.9 L1573.9,852.9 L1573.9,853.9 L1573.9,854.9 L1574.0,855.9 L1574.0,856.9 L1574.0,857.9 L1574.1,858.9 L1574.1,859.9 L1574.1,860.9 L1574.2,861.9 L1574.2,862.9 L1574.2,863.9 L1574.3,864.9 L1574.3,865.9 L1574.3,866.9 L1574.4,867.8 L1574.4,868.8 L1574.4,869.8 L1574.5,870.8 L1574.5,871.8 L1574.5,872.8 L1574.6,873.8 L1574.6,874.8 L1574.7,875.8 L1574.7,876.8 L1574.7,877.8 L1574.8,878.8 L1574.8,879.8 L1574.8,880.8 L1574.9,881.8 L1574.9,882.8 L1575.0,883.8 L1575.0,884.8 L1575.0,885.8 L1575.1,886.8 L1575.1,887.8 L1575.1,888.8 L1575.2,889.8 L1575.2,890.8 L1575.3,891.8 L1575.3,892.8 L1575.3,893.8 L1575.4,894.8 L1575.4,895.8 L1575.5,896.8 L1575.5,897.8 L1575.5,898.8 L1575.6,899.8 L1575.6,900.8 L1575.6,901.8 L1575.7,902.8 L1575.7,903.8 L1575.8,904.8 L1575.8,905.8 L1575.9,906.8 L1575.9,907.8 L1575.9,908.8 L1576.0,909.8 L1576.0,910.8 L1576.1,911.8 L1576.1,912.8 L1576.2,913.8 L1576.2,914.8 L1576.3,915.8 L1576.3,916.8 L1576.4,917.8 L1576.4,918.8 L1576.5,919.8 L1576.5,920.8 L1576.6,921.8 L1576.7,922.9 L1576.7,924.0 L1576.8,925.1 L1576.9,926.3 L1577.0,927.5 L1577.1,928.7 L1577.2,929.9 L1577.3,931.1 L1577.4,932.1 L1577.5,933.1 L1577.6,934.0 L1577.7,934.8 M1634.8,788.0 L1635.4,515.3 L1635.4,515.3 L1635.4,516.3 L1635.4,517.3 L1635.4,518.3 L1635.4,519.3 L1635.4,520.3 L1635.4,521.3 L1635.4,522.3 L1635.4,523.3 L1635.4,524.3 L1635.4,525.3 L1635.4,526.3 L1635.4,527.3 L1635.4,528.3 L1635.4,529.3 L1635.4,530.3 L1635.4,531.3 L1635.4,532.3 L1635.4,533.3 L1635.4,534.3 L1635.4,535.3 L1635.4,536.3 L1635.4,537.3 L1635.4,538.3 L1635.4,539.3 L1635.4,540.3 L1635.4,541.3 L1635.4,542.3 L1635.4,543.3 L1635.4,544.3 L1635.4,545.3 L1635.4,546.3 L1635.4,547.3 L1635.4,548.3 L1635.4,549.3 L1635.4,550.3 L1635.4,551.3 L1635.4,552.3 L1635.4,553.3 L1635.4,554.3 L1635.4,555.3 L1635.4,556.3 L1635.4,557.3 L1635.4,558.3 L1635.4,559.3 L1635.4,560.3 L1635.4,561.3 L1635.4,562.3 L1635.4,563.3 L1635.4,564.3 L1635.4,565.3 L1635.4,566.3 L1635.4,567.3 L1635.4,568.3 L1635.4,569.3 L1635.4,570.3 L1635.4,571.3 L1635.4,572.3 L1635.4,573.3 L1635.4,574.3 L1635.4,575.3 L1635.4,576.3 L1635.4,577.3 L1635.4,578.3 L1635.4,579.3 L1635.4,580.3 L1635.4,581.3 L1635.4,582.3 L1635.4,583.3 L1635.4,584.3 L1635.4,585.3 L1635.4,586.3 L1635.4,587.3 L1635.4,588.3 L1635.4,589.3 L1635.4,590.3 L1635.4,591.3 L1635.4,592.3 L1635.4,593.3 L1635.4,594.3 L1635.4,595.3 L1635.4,596.3 L1635.4,597.3 L1635.4,598.3 L1635.4,599.3 L1635.4,600.3 L1635.4,601.3 L1635.4,602.3 L1635.4,603.3 L1635.4,604.3 L1635.4,605.3 L1635.4,606.3 L1635.4,607.3 L1635.4,608.3 L1635.4,609.3 L1635.4,610.3 L1635.4,611.3 L1635.4,612.3 L1635.5,613.3 L1635.5,614.3 L1635.5,615.3 L1635.5,616.3 L1635.5,617.3 L1635.5,618.3 L1635.5,619.3 L1635.5,620.3 L1635.5,621.3 L1635.5,622.3 L1635.5,623.3 L1635.5,624.3 L1635.5,625.3 L1635.5,626.3 L1635.5,627.3 L1635.5,628.3 L1635.5,629.3 L1635.5,630.3 L1635.5,631.3 L1635.5,632.3 L1635.5,633.3 L1635.5,634.3 L1635.5,635.3 L1635.5,636.3 L1635.5,637.3 L1635.5,638.3 L1635.5,639.3 L1635.5,640.3 L1635.5,641.3 L1635.6,642.3 L1635.6,643.3 L1635.6,644.3 L1635.6,645.3 L1635.6,646.3 L1635.6,647.3 L1635.6,648.3 L1635.6,649.3 L1635.6,650.3 L1635.6,651.3 L1635.6,652.3 L1635.6,653.3 L1635.6,654.3 L1635.6,655.3 L1635.6,656.3 L1635.6,657.3 L1635.6,658.3 L1635.6,659.3 L1635.6,660.3 L1635.6,661.3 L1635.6,662.3 L1635.6,663.3 L1635.6,664.3 L1635.6,665.3 L1635.6,666.3 L1635.7,667.3 L1635.7,668.3 L1635.7,669.3 L1635.7,670.3 L1635.7,671.3 L1635.7,672.3 L1635.7,673.3 L1635.7,674.3 L1635.7,675.3 L1635.7,676.3 L1635.7,677.3 L1635.7,678.3 L1635.7,679.3 L1635.7,680.3 L1635.7,681.3 L1635.7,682.3 L1635.7,683.3 L1635.7,684.3 L1635.7,685.3 L1635.7,686.3 L1635.7,687.3 L1635.7,688.3 L1635.8,689.3 L1635.8,690.3 L1635.8,691.3 L1635.8,692.3 L1635.8,693.3 L1635.8,694.3 L1635.8,695.3 L1635.8,696.3 L1635.8,697.3 L1635.8,698.3 L1635.8,699.3 L1635.8,700.3 L1635.8,701.3 L1635.8,702.3 L1635.8,703.3 L1635.8,704.3 L1635.8,705.3 L1635.8,706.3 L1635.8,707.3 L1635.8,708.3 L1635.8,709.3 L1635.8,710.3 L1635.8,711.3 L1635.8,712.3 L1635.9,713.3 L1635.9,714.3 L1635.9,715.3 L1635.9,716.3 L1635.9,717.3 L1635.9,718.3 L1635.9,719.3 L1635.9,720.3 L1635.9,721.3 L1635.9,722.3 L1635.9,723.3 L1635.9,724.3 L1635.9,725.3 L1635.9,726.3 L1635.9,727.2 L1635.9,728.2 L1635.9,729.2 L1635.9,730.2 L1635.9,731.2 L1635.9,732.2 L1635.9,733.2 L1635.9,734.2 L1635.9,735.2 L1635.9,736.2 L1636.0,737.2 L1636.0,738.2 L1636.0,739.2 L1636.0,740.2 L1636.0,741.2 L1636.0,742.2 L1636.0,743.2 L1636.0,744.2 L1636.0,745.2 L1636.0,746.2 L1636.0,747.2 L1636.0,748.2 L1636.0,749.2 L1636.1,750.2 L1636.1,751.2 L1636.1,752.2 L1636.1,753.2 L1636.1,754.2 L1636.1,755.2 L1636.1,756.2 L1636.1,757.2 L1636.2,758.2 L1636.2,759.2 L1636.2,760.2 L1636.2,761.2 L1636.2,762.2 L1636.2,763.2 L1636.2,764.2 L1636.3,765.2 L1636.3,766.2 L1636.3,767.2 L1636.3,768.2 L1636.3,769.2 L1636.4,770.2 L1636.4,771.2 L1636.4,772.2 L1636.4,773.2 L1636.4,774.2 L1636.5,775.2 L1636.5,776.2 L1636.5,777.2 L1636.5,778.2 L1636.6,779.2 L1636.6,780.2 L1636.6,781.2 L1636.6,782.2 L1636.7,783.2 L1636.7,784.2 L1636.7,785.2 L1636.8,786.2 L1636.8,787.2 L1636.8,788.2 L1636.9,789.2 L1636.9,790.2 L1636.9,791.2 L1637.0,792.2 L1637.0,793.2 L1637.0,794.2 L1637.1,795.2 L1637.1,796.2 L1637.1,797.2 L1637.2,798.2 L1637.2,799.2 L1637.2,800.2 L1637.3,801.2 L1637.3,802.2 L1637.4,803.2 L1637.4,804.2 L1637.4,805.2 L1637.5,806.2 L1637.5,807.2 L1637.5,808.2 L1637.6,809.2 L1637.6,810.2 L1637.7,811.2 L1637.7,812.2 L1637.7,813.2 L1637.8,814.2 L1637.8,815.2 L1637.9,816.2 L1637.9,817.2 L1637.9,818.2 L1638.0,819.2 L1638.0,820.2 L1638.0,821.2 L1638.1,822.2 L1638.1,823.2 L1638.2,824.2 L1638.2,825.2 L1638.2,826.2 L1638.3,827.2 L1638.3,828.2 L1638.4,829.2 L1638.4,830.2 L1638.4,831.2 L1638.5,832.2 L1638.5,833.2 L1638.6,834.2 L1638.6,835.2 L1638.6,836.2 L1638.7,837.2 L1638.7,838.2 L1638.7,839.2 L1638.8,840.2 L1638.8,841.2 L1638.9,842.2 L1638.9,843.2 L1638.9,844.2 L1639.0,845.2 L1639.0,846.2 L1639.1,847.2 L1639.1,848.2 L1639.1,849.2 L1639.2,850.2 L1639.2,851.2 L1639.3,852.2 L1639.3,853.2 L1639.3,854.2 L1639.4,855.2 L1639.4,856.2 L1639.4,857.2 L1639.5,858.2 L1639.5,859.2 L1639.6,860.2 L1639.6,861.2 L1639.6,862.2 L1639.7,863.2 L1639.7,864.2 L1639.7,865.2 L1639.8,866.2 L1639.8,867.2 L1639.9,868.2 L1639.9,869.2 L1639.9,870.2 L1640.0,871.1 L1640.0,872.1 L1640.0,873.1 L1640.1,874.1 L1640.1,875.1 L1640.2,876.1 L1640.2,877.1 L1640.2,878.1 L1640.3,879.1 L1640.3,880.1 L1640.3,881.1 L1640.4,882.1 L1640.4,883.1 L1640.5,884.1 L1640.5,885.1 L1640.6,886.1 L1640.6,887.1 L1640.6,888.1 L1640.7,889.1 L1640.7,890.1 L1640.8,891.1 L1640.8,892.1 L1640.9,893.1 L1640.9,894.1 L1641.0,895.1 L1641.0,896.1 L1641.1,897.1 L1641.1,898.1 L1641.2,899.1 L1641.2,900.1 L1641.3,901.2 L1641.3,902.3 L1641.4,903.4 L1641.4,904.6 L1641.5,905.8 L1641.5,907.0 L1641.6,908.1 L1641.7,909.3 L1641.7,910.4 L1641.8,911.5 L1641.9,912.5 L1642.0,913.5 L1642.0,914.3 L1642.1,915.1 M1694.8,748.8 L1695.1,446.5 L1695.1,446.5 L1695.1,447.5 L1695.1,448.5 L1695.1,449.5 L1695.2,450.5 L1695.2,451.5 L1695.2,452.5 L1695.2,453.5 L1695.2,454.5 L1695.2,455.5 L1695.2,456.5 L1695.3,457.5 L1695.3,458.5 L1695.3,459.5 L1695.3,460.5 L1695.3,461.5 L1695.3,462.5 L1695.3,463.5 L1695.4,464.5 L1695.4,465.5 L1695.4,466.5 L1695.4,467.5 L1695.4,468.5 L1695.4,469.5 L1695.4,470.5 L1695.4,471.5 L1695.5,472.5 L1695.5,473.5 L1695.5,474.5 L1695.5,475.5 L1695.5,476.5 L1695.5,477.5 L1695.5,478.5 L1695.6,479.5 L1695.6,480.5 L1695.6,481.5 L1695.6,482.5 L1695.6,483.5 L1695.6,484.5 L1695.6,485.5 L1695.6,486.5 L1695.7,487.5 L1695.7,488.5 L1695.7,489.5 L1695.7,490.5 L1695.7,491.5 L1695.7,492.5 L1695.7,493.5 L1695.7,494.5 L1695.7,495.5 L1695.8,496.5 L1695.8,497.5 L1695.8,498.5 L1695.8,499.5 L1695.8,500.5 L1695.8,501.5 L1695.8,502.5 L1695.8,503.5 L1695.8,504.5 L1695.9,505.5 L1695.9,506.5 L1695.9,507.5 L1695.9,508.5 L1695.9,509.5 L1695.9,510.5 L1695.9,511.5 L1695.9,512.5 L1695.9,513.5 L1695.9,514.5 L1696.0,515.5 L1696.0,516.5 L1696.0,517.5 L1696.0,518.5 L1696.0,519.5 L1696.0,520.5 L1696.0,521.5 L1696.0,522.5 L1696.0,523.5 L1696.0,524.5 L1696.0,525.5 L1696.1,526.5 L1696.1,527.5 L1696.1,528.5 L1696.1,529.5 L1696.1,530.5 L1696.1,531.5 L1696.1,532.5 L1696.1,533.5 L1696.1,534.5 L1696.1,535.5 L1696.1,536.5 L1696.2,537.5 L1696.2,538.5 L1696.2,539.5 L1696.2,540.5 L1696.2,541.5 L1696.2,542.5 L1696.2,543.5 L1696.2,544.5 L1696.2,545.5 L1696.2,546.5 L1696.2,547.5 L1696.2,548.5 L1696.2,549.5 L1696.3,550.5 L1696.3,551.5 L1696.3,552.5 L1696.3,553.5 L1696.3,554.5 L1696.3,555.5 L1696.3,556.5 L1696.3,557.5 L1696.3,558.5 L1696.3,559.5 L1696.3,560.5 L1696.3,561.5 L1696.3,562.5 L1696.3,563.5 L1696.4,564.5 L1696.4,565.5 L1696.4,566.5 L1696.4,567.5 L1696.4,568.5 L1696.4,569.5 L1696.4,570.5 L1696.4,571.5 L1696.4,572.5 L1696.4,573.5 L1696.4,574.5 L1696.4,575.5 L1696.4,576.5 L1696.4,577.5 L1696.5,578.5 L1696.5,579.5 L1696.5,580.5 L1696.5,581.5 L1696.5,582.5 L1696.5,583.5 L1696.5,584.5 L1696.5,585.5 L1696.5,586.5 L1696.5,587.5 L1696.5,588.5 L1696.5,589.5 L1696.5,590.5 L1696.5,591.5 L1696.5,592.5 L1696.6,593.5 L1696.6,594.5 L1696.6,595.5 L1696.6,596.5 L1696.6,597.5 L1696.6,598.5 L1696.6,599.5 L1696.6,600.5 L1696.6,601.5 L1696.6,602.5 L1696.6,603.5 L1696.6,604.5 L1696.6,605.5 L1696.6,606.5 L1696.7,607.5 L1696.7,608.5 L1696.7,609.5 L1696.7,610.5 L1696.7,611.5 L1696.7,612.5 L1696.7,613.5 L1696.7,614.5 L1696.7,615.5 L1696.7,616.5 L1696.7,617.5 L1696.7,618.5 L1696.7,619.5 L1696.7,620.5 L1696.8,621.5 L1696.8,622.5 L1696.8,623.5 L1696.8,624.5 L1696.8,625.5 L1696.8,626.5 L1696.8,627.5 L1696.8,628.5 L1696.8,629.5 L1696.8,630.5 L1696.8,631.5 L1696.8,632.5 L1696.8,633.5 L1696.9,634.5 L1696.9,635.5 L1696.9,636.5 L1696.9,637.5 L1696.9,638.5 L1696.9,639.5 L1696.9,640.5 L1696.9,641.5 L1696.9,642.5 L1696.9,643.5 L1696.9,644.5 L1696.9,645.5 L1697.0,646.5 L1697.0,647.5 L1697.0,648.5 L1697.0,649.5 L1697.0,650.5 L1697.0,651.5 L1697.0,652.5 L1697.0,653.5 L1697.0,654.5 L1697.0,655.5 L1697.0,656.5 L1697.1,657.5 L1697.1,658.5 L1697.1,659.5 L1697.1,660.5 L1697.1,661.5 L1697.1,662.5 L1697.1,663.5 L1697.1,664.5 L1697.1,665.5 L1697.1,666.5 L1697.1,667.5 L1697.2,668.5 L1697.2,669.5 L1697.2,670.5 L1697.2,671.5 L1697.2,672.5 L1697.2,673.5 L1697.2,674.5 L1697.2,675.5 L1697.2,676.5 L1697.2,677.5 L1697.2,678.5 L1697.3,679.5 L1697.3,680.5 L1697.3,681.5 L1697.3,682.5 L1697.3,683.5 L1697.3,684.5 L1697.3,685.5 L1697.3,686.5 L1697.3,687.5 L1697.3,688.5 L1697.3,689.5 L1697.4,690.5 L1697.4,691.5 L1697.4,692.5 L1697.4,693.5 L1697.4,694.5 L1697.4,695.5 L1697.4,696.5 L1697.4,697.5 L1697.4,698.5 L1697.4,699.5 L1697.5,700.5 L1697.5,701.5 L1697.5,702.5 L1697.5,703.5 L1697.5,704.5 L1697.5,705.5 L1697.5,706.5 L1697.5,707.5 L1697.5,708.5 L1697.6,709.5 L1697.6,710.5 L1697.6,711.5 L1697.6,712.5 L1697.6,713.5 L1697.6,714.5 L1697.6,715.5 L1697.6,716.5 L1697.6,717.5 L1697.6,718.5 L1697.7,719.5 L1697.7,720.5 L1697.7,721.5 L1697.7,722.5 L1697.7,723.5 L1697.7,724.5 L1697.7,725.5 L1697.7,726.5 L1697.7,727.5 L1697.8,728.5 L1697.8,729.5 L1697.8,730.5 L1697.8,731.5 L1697.8,732.5 L1697.8,733.5 L1697.8,734.5 L1697.8,735.5 L1697.8,736.5 L1697.9,737.5 L1697.9,738.5 L1697.9,739.5 L1697.9,740.5 L1697.9,741.5 L1697.9,742.5 L1697.9,743.5 L1697.9,744.5 L1697.9,745.5 L1698.0,746.5 L1698.0,747.5 L1698.0,748.5 L1698.0,749.5 L1698.0,750.5 L1698.0,751.5 L1698.0,752.5 L1698.0,753.5 L1698.1,754.5 L1698.1,755.5 L1698.1,756.5 L1698.1,757.5 L1698.1,758.5 L1698.1,759.5 L1698.1,760.5 L1698.2,761.5 L1698.2,762.5 L1698.2,763.5 L1698.2,764.5 L1698.2,765.5 L1698.2,766.4 L1698.2,767.4 L1698.3,768.4 L1698.3,769.4 L1698.3,770.4 L1698.3,771.4 L1698.3,772.4 L1698.3,773.4 L1698.4,774.4 L1698.4,775.4 L1698.4,776.4 L1698.4,777.4 L1698.4,778.4 L1698.4,779.4 L1698.5,780.4 L1698.5,781.4 L1698.5,782.4 L1698.5,783.4 L1698.5,784.4 L1698.6,785.4 L1698.6,786.4 L1698.6,787.4 L1698.6,788.4 L1698.6,789.4 L1698.7,790.4 L1698.7,791.4 L1698.7,792.4 L1698.7,793.4 L1698.7,794.4 L1698.8,795.4 L1698.8,796.4 L1698.8,797.4 L1698.8,798.4 L1698.9,799.4 L1698.9,800.4 L1698.9,801.4 L1698.9,802.4 L1698.9,803.4 L1699.0,804.4 L1699.0,805.4 L1699.0,806.4 L1699.0,807.4 L1699.1,808.4 L1699.1,809.4 L1699.1,810.4 L1699.1,811.4 L1699.1,812.4 L1699.2,813.4 L1699.2,814.4 L1699.2,815.4 L1699.2,816.4 L1699.3,817.4 L1699.3,818.4 L1699.3,819.4 L1699.3,820.4 L1699.4,821.4 L1699.4,822.4 L1699.4,823.4 L1699.4,824.4 L1699.5,825.4 L1699.5,826.4 L1699.5,827.4 L1699.5,828.4 L1699.6,829.4 L1699.6,830.4 L1699.6,831.4 L1699.6,832.4 L1699.7,833.4 L1699.7,834.4 L1699.7,835.4 L1699.8,836.4 L1699.8,837.4 L1699.8,838.4 L1699.8,839.4 L1699.9,840.4 L1699.9,841.4 L1699.9,842.4 L1700.0,843.4 L1700.0,844.4 L1700.0,845.4 L1700.0,846.4 L1700.1,847.4 L1700.1,848.4 L1700.1,849.4 L1700.2,850.4 L1700.2,851.4 L1700.2,852.4 L1700.3,853.4 L1700.3,854.4 L1700.3,855.4 L1700.4,856.4 L1700.4,857.4 L1700.4,858.4 L1700.5,859.4 L1700.5,860.4 L1700.5,861.4 L1700.6,862.4 L1700.6,863.4 L1700.6,864.4 L1700.7,865.4 L1700.7,866.4 L1700.7,867.5 L1700.8,868.5 L1700.8,869.6 L1700.8,870.7 L1700.9,871.9 L1700.9,873.1 L1700.9,874.3 L1701.0,875.5 L1701.0,876.7 L1701.1,877.9 L1701.1,879.1 L1701.1,880.3 L1701.2,881.5 L1701.2,882.6 L1701.3,883.7 L1701.3,884.8 L1701.3,885.8 L1701.4,886.8 L1701.4,887.7 L1701.5,888.6 L1701.5,889.4 L1701.5,890.1 L1701.6,890.7" fill="none" stroke="#000" stroke-width="2.3" stroke-linejoin="round" stroke-linecap="round"/>
<path d="M321.6,981.8 L321.3,1030.2 L321.5,990.0 L320.3,1010.0 L322.4,1012.0 L323.2,1027.0 L325.4,1006.5 L326.6,1018.0 L327.6,1024.0 L327.6,1024.0 L328.6,1024.3 L329.5,1024.5 L330.5,1024.6 L331.5,1024.5 L332.5,1024.4 L333.5,1024.1 L334.4,1023.8 L335.3,1023.3 L336.2,1022.8 L337.0,1022.3 L337.8,1021.7 L338.6,1021.1 L339.3,1020.4 L340.1,1019.7 L340.8,1019.1 L341.6,1018.4 L342.3,1017.7 L343.0,1017.1 L343.8,1016.4 L344.5,1015.7 L345.3,1015.1 L346.0,1014.4 L346.8,1013.7 L347.5,1013.1 L348.2,1012.4 L349.0,1011.7 L349.7,1011.0 L350.5,1010.4 L351.2,1009.7 L351.9,1009.0 L352.7,1008.4 L353.4,1007.7 L354.2,1007.0 L354.9,1006.4 L355.7,1005.8 L356.5,1005.1 L357.2,1004.5 L358.0,1003.9 L358.8,1003.3 L359.6,1002.7 L360.5,1002.1 L361.3,1001.6 L362.1,1001.0 L362.9,1000.4 L363.8,999.9 L364.6,999.3 L365.4,998.8 L366.3,998.2 L367.1,997.7 L368.0,997.2 L368.8,996.6 L369.7,996.1 L370.5,995.6 L371.4,995.1 L372.3,994.6 L373.1,994.1 L374.0,993.6 L374.9,993.2 L375.8,992.7 L376.6,992.2 L377.5,991.8 L378.4,991.3 L379.3,990.9 L380.2,990.4 L381.1,990.0 L382.0,989.6 L382.9,989.2 L383.9,988.8 L384.8,988.4 L385.7,988.0 L386.6,987.6 L387.5,987.2 L388.5,986.8 L389.4,986.4 L390.3,986.1 L391.2,985.7 L392.2,985.3 L393.1,985.0 L394.0,984.6 L395.0,984.3 L395.9,983.9 L396.8,983.6 L397.8,983.3 L398.7,983.0 L399.7,982.6 L400.6,982.3 L401.6,982.0 L402.5,981.7 L403.5,981.4 L404.4,981.1 L405.4,980.8 L406.3,980.5 L407.3,980.2 L408.3,980.0 L409.2,979.7 L410.2,979.4 L411.1,979.2 L412.1,978.9 L413.1,978.6 L414.0,978.4 L415.0,978.2 L416.0,977.9 L417.0,977.7 L417.9,977.5 L418.9,977.3 L419.9,977.0 L420.9,976.8 L421.8,976.6 L422.8,976.4 L423.8,976.3 L424.8,976.1 L425.8,975.9 L426.7,975.7 L427.7,975.6 L428.7,975.4 L429.7,975.3 L430.7,975.1 L431.7,975.0 L432.7,974.8 L433.7,974.7 L434.7,974.6 L435.7,974.5 L436.6,974.4 L437.6,974.3 L438.6,974.2 L439.6,974.1 L440.6,974.1 L441.6,974.0 L442.6,974.0 L443.6,973.9 L444.6,973.9 L445.6,973.9 L446.6,973.9 L447.6,973.9 L448.6,973.9 L449.6,974.0 L450.6,974.0 L451.6,974.0 L452.6,974.1 L453.2,974.1 L453.6,1016.6 L454.0,895.0 M454.0,895.0 L454.0,896.0 L454.0,897.0 L454.0,898.0 L454.0,899.0 L454.1,900.0 L454.1,901.0 L454.1,902.0 L454.1,903.0 L454.1,904.0 L454.1,905.0 L454.1,906.0 L454.2,907.0 L454.2,908.0 L454.2,909.0 L454.2,910.0 L454.2,911.0 L454.2,912.0 L454.3,913.0 L454.3,914.0 L454.3,915.0 L454.3,916.0 L454.3,917.0 L454.4,918.0 L454.4,919.0 L454.4,920.0 L454.4,921.0 L454.4,922.0 L454.5,923.0 L454.5,924.0 L454.5,925.0 L454.5,926.0 L454.5,927.0 L454.6,928.0 L454.6,929.0 L454.6,930.0 L454.6,931.0 L454.6,932.0 L454.7,933.0 L454.7,934.0 L454.7,935.0 L454.7,936.0 L454.8,937.0 L454.8,938.0 L454.8,939.0 L454.9,940.0 L454.9,941.0 L454.9,942.0 L455.0,943.0 L455.0,944.0 L455.0,945.0 L455.1,946.0 L455.1,947.0 L455.1,948.0 L455.2,949.0 L455.2,950.0 L455.2,951.0 L455.3,952.0 L455.3,953.0 L455.4,953.9 L455.4,954.9 L455.5,955.9 L455.5,956.9 L455.6,957.9 L455.7,958.9 L455.7,959.9 L455.8,960.9 L455.9,961.9 L455.9,962.9 L456.0,963.9 L456.1,964.9 L456.1,965.9 L456.2,966.9 L456.3,967.9 L456.3,968.9 L456.4,969.9 L456.5,970.9 L456.6,971.9 L456.7,972.9 L456.8,973.9 L456.9,974.9 L457.0,975.9 L457.1,976.9 L457.2,977.9 L457.3,978.9 L457.4,979.8 L457.6,980.8 L457.7,981.8 L457.8,982.8 L458.0,983.8 L458.1,984.8 L458.3,985.8 L458.5,986.8 L458.7,987.7 L458.9,988.7 L459.1,989.7 L459.3,990.7 L459.5,991.7 L459.7,992.6 L459.9,993.6 L460.1,994.6 L460.4,995.6 L460.6,996.5 L460.8,997.5 L461.1,998.5 L461.4,999.4 L461.7,1000.4 L462.0,1001.3 L462.3,1002.3 L462.7,1003.2 L463.0,1004.1 L463.4,1005.1 L463.8,1006.0 L464.3,1006.9 L464.7,1007.8 L465.1,1008.7 L465.6,1009.6 L466.1,1010.4 L466.6,1011.3 L467.1,1012.1 L467.7,1013.0 L468.3,1013.8 L468.9,1014.6 L469.5,1015.3 L470.2,1016.1 L470.9,1016.8 L471.6,1017.5 L472.4,1018.2 L473.1,1018.8 L473.9,1019.4 L474.7,1020.0 L475.6,1020.5 L476.5,1021.0 L477.4,1021.3 L478.4,1021.7 L479.3,1021.9 L480.3,1022.1 L481.3,1022.2 L482.3,1022.2 L483.3,1022.1 L484.3,1022.0 L485.2,1021.7 L486.2,1021.4 L487.1,1021.0 L488.0,1020.5 L488.9,1020.1 L489.7,1019.5 L490.6,1019.0 L491.4,1018.4 L492.1,1017.7 L492.9,1017.1 L493.7,1016.5 L494.4,1015.8 L495.2,1015.1 L495.9,1014.5 L496.6,1013.8 L497.4,1013.1 L498.1,1012.4 L498.8,1011.7 L499.5,1011.0 L500.3,1010.3 L501.0,1009.6 L501.7,1008.9 L502.4,1008.2 L503.1,1007.5 L503.8,1006.8 L504.5,1006.1 L505.2,1005.4 L505.9,1004.7 L506.6,1004.0 L507.3,1003.3 L508.0,1002.6 L508.7,1001.9 L509.4,1001.2 L510.2,1000.4 L510.9,999.7 L511.6,999.0 L512.3,998.3 L513.0,997.6 L513.7,996.9 L514.4,996.3 L515.2,995.6 L515.9,994.9 L516.6,994.2 L517.3,993.5 L518.1,992.8 L518.8,992.1 L519.5,991.4 L520.3,990.8 L521.0,990.1 L521.8,989.5 L522.6,988.8 L523.3,988.2 L524.1,987.6 L524.9,987.0 L525.7,986.4 L526.5,985.8 L527.4,985.3 L528.2,984.7 L529.0,984.1 L529.8,983.5 L530.6,983.0 L531.5,982.4 L532.3,981.8 L533.1,981.3 L533.9,980.7 L534.8,980.2 L535.6,979.6 L536.5,979.1 L537.3,978.6 L538.2,978.0 L539.0,977.5 L539.9,977.1 L540.8,976.6 L541.7,976.1 L542.6,975.7 L543.5,975.2 L544.4,974.8 L545.3,974.4 L546.2,974.0 L547.1,973.6 L548.0,973.2 L549.0,972.8 L549.9,972.4 L550.8,972.1 L551.8,971.7 L552.7,971.4 L553.6,971.0 L554.6,970.7 L555.5,970.3 L556.5,970.0 L557.4,969.7 L558.3,969.4 L559.3,969.0 L560.2,968.7 L561.2,968.4 L562.1,968.1 L563.1,967.8 L564.1,967.5 L565.0,967.2 L566.0,966.9 L566.9,966.7 L567.9,966.4 L568.8,966.1 L569.8,965.9 L570.8,965.6 L571.7,965.4 L572.7,965.1 L573.7,964.9 L574.7,964.6 L575.6,964.4 L576.6,964.2 L577.6,964.0 L578.6,963.8 L579.5,963.6 L580.5,963.4 L581.5,963.2 L582.5,963.0 L583.5,962.9 L584.5,962.7 L585.4,962.5 L586.4,962.4 L587.4,962.2 L588.4,962.0 L589.4,961.9 L590.4,961.7 L591.4,961.6 L592.4,961.5 L593.4,961.3 L594.3,961.2 L595.3,961.1 L596.3,961.0 L597.3,960.9 L598.3,960.8 L599.3,960.7 L600.3,960.6 L601.3,960.5 L602.3,960.4 L603.3,960.4 L604.3,960.3 L605.3,960.3 L606.3,960.3 L607.3,960.3 L608.3,960.3 L609.3,960.3 L610.3,960.3 L611.3,960.3 L612.3,960.3 L612.9,960.4 L613.3,1008.3 L613.7,866.0 M613.7,866.0 L613.7,867.0 L613.7,868.0 L613.7,869.0 L613.7,870.0 L613.7,871.0 L613.8,872.0 L613.8,873.0 L613.8,874.0 L613.8,875.0 L613.8,876.0 L613.8,877.0 L613.8,878.0 L613.8,879.0 L613.8,880.0 L613.9,881.0 L613.9,882.0 L613.9,883.0 L613.9,884.0 L613.9,885.0 L613.9,886.0 L614.0,887.0 L614.0,888.0 L614.0,889.0 L614.0,890.0 L614.0,891.0 L614.0,892.0 L614.1,893.0 L614.1,894.0 L614.1,895.0 L614.1,896.0 L614.1,897.0 L614.2,898.0 L614.2,899.0 L614.2,900.0 L614.2,901.0 L614.2,902.0 L614.3,903.0 L614.3,904.0 L614.3,905.0 L614.3,906.0 L614.3,907.0 L614.4,908.0 L614.4,909.0 L614.4,910.0 L614.4,911.0 L614.5,912.0 L614.5,913.0 L614.5,914.0 L614.6,915.0 L614.6,916.0 L614.6,917.0 L614.7,918.0 L614.7,919.0 L614.7,920.0 L614.8,920.9 L614.8,921.9 L614.8,922.9 L614.9,923.9 L614.9,924.9 L614.9,925.9 L615.0,926.9 L615.0,927.9 L615.1,928.9 L615.1,929.9 L615.1,930.9 L615.2,931.9 L615.2,932.9 L615.3,933.9 L615.3,934.9 L615.4,935.9 L615.4,936.9 L615.4,937.9 L615.5,938.9 L615.6,939.9 L615.6,940.9 L615.7,941.9 L615.7,942.9 L615.8,943.9 L615.8,944.9 L615.9,945.9 L616.0,946.9 L616.0,947.9 L616.1,948.9 L616.2,949.9 L616.2,950.9 L616.3,951.9 L616.4,952.9 L616.5,953.9 L616.5,954.9 L616.6,955.9 L616.7,956.9 L616.8,957.9 L616.8,958.9 L616.9,959.9 L617.0,960.9 L617.1,961.9 L617.1,962.9 L617.2,963.8 L617.3,964.8 L617.4,965.8 L617.5,966.8 L617.5,967.8 L617.6,968.8 L617.7,969.8 L617.8,970.8 L618.0,971.8 L618.1,972.8 L618.2,973.8 L618.3,974.8 L618.4,975.8 L618.6,976.8 L618.7,977.8 L618.8,978.7 L619.0,979.7 L619.1,980.7 L619.3,981.7 L619.4,982.7 L619.5,983.7 L619.7,984.7 L619.8,985.7 L620.0,986.7 L620.2,987.6 L620.3,988.6 L620.5,989.6 L620.7,990.6 L620.9,991.6 L621.2,992.5 L621.4,993.5 L621.7,994.5 L621.9,995.4 L622.2,996.4 L622.5,997.3 L622.8,998.3 L623.2,999.3 L623.5,1000.2 L623.9,1001.1 L624.3,1002.1 L624.7,1003.0 L625.1,1003.9 L625.6,1004.7 L626.0,1005.6 L626.5,1006.5 L627.0,1007.4 L627.5,1008.2 L628.0,1009.1 L628.5,1010.0 L629.1,1010.8 L629.6,1011.6 L630.2,1012.4 L630.8,1013.1 L631.5,1013.9 L632.3,1014.6 L633.2,1015.3 L634.1,1015.9 L635.0,1016.3 L635.9,1016.7 L636.8,1016.8 L637.8,1016.9 L638.7,1016.7 L639.6,1016.5 L640.5,1016.0 L641.4,1015.5 L642.3,1014.9 L643.2,1014.3 L644.0,1013.6 L644.7,1012.9 L645.3,1012.2 L645.9,1011.4 L646.5,1010.6 L647.1,1009.8 L647.6,1008.9 L648.1,1008.1 L648.6,1007.2 L649.2,1006.4 L649.7,1005.5 L650.2,1004.7 L650.7,1003.8 L651.3,1003.0 L651.8,1002.1 L652.3,1001.3 L652.9,1000.5 L653.4,999.6 L654.0,998.8 L654.6,998.0 L655.1,997.1 L655.7,996.3 L656.2,995.5 L656.8,994.6 L657.3,993.8 L657.9,993.0 L658.5,992.2 L659.0,991.3 L659.6,990.5 L660.2,989.7 L660.7,988.9 L661.3,988.1 L661.9,987.2 L662.5,986.4 L663.0,985.6 L663.6,984.8 L664.2,984.0 L664.8,983.2 L665.4,982.4 L666.0,981.6 L666.7,980.8 L667.3,980.1 L668.0,979.3 L668.6,978.6 L669.3,977.9 L670.0,977.2 L670.8,976.5 L671.5,975.8 L672.2,975.1 L672.9,974.4 L673.7,973.7 L674.4,973.0 L675.2,972.4 L675.9,971.7 L676.7,971.1 L677.5,970.4 L678.3,969.8 L679.1,969.2 L679.9,968.6 L680.7,968.0 L681.5,967.5 L682.3,966.9 L683.2,966.4 L684.0,965.8 L684.9,965.3 L685.7,964.8 L686.6,964.3 L687.5,963.8 L688.4,963.3 L689.2,962.9 L690.1,962.4 L691.0,961.9 L691.9,961.5 L692.8,961.1 L693.7,960.7 L694.6,960.2 L695.5,959.8 L696.5,959.4 L697.4,959.1 L698.3,958.7 L699.2,958.3 L700.2,957.9 L701.1,957.5 L702.0,957.2 L703.0,956.8 L703.9,956.5 L704.8,956.1 L705.8,955.8 L706.7,955.4 L707.6,955.1 L708.6,954.8 L709.5,954.4 L710.5,954.1 L711.4,953.8 L712.4,953.5 L713.3,953.2 L714.3,953.0 L715.3,952.7 L716.2,952.4 L717.2,952.1 L718.2,951.9 L719.1,951.6 L720.1,951.4 L721.1,951.2 L722.0,950.9 L723.0,950.7 L724.0,950.5 L725.0,950.3 L725.9,950.1 L726.9,949.9 L727.9,949.7 L728.9,949.5 L729.9,949.3 L730.9,949.2 L731.8,949.0 L732.8,948.8 L733.8,948.7 L734.8,948.5 L735.8,948.4 L736.8,948.2 L737.8,948.1 L738.8,948.0 L739.8,947.9 L740.8,947.7 L741.7,947.6 L742.7,947.5 L743.7,947.4 L744.7,947.3 L745.7,947.3 L746.7,947.2 L747.7,947.1 L748.7,947.0 L749.7,947.0 L750.7,946.9 L751.7,946.8 L752.7,946.8 L753.7,946.8 L754.7,946.7 L755.7,946.7 L756.7,946.7 L757.7,946.6 L758.7,946.6 L759.7,946.6 L760.7,946.6 L761.7,946.6 L762.2,946.6 L762.9,946.6 L763.3,1000.5 L763.7,835.3 M763.7,835.3 L763.7,836.3 L763.7,837.3 L763.7,838.3 L763.7,839.3 L763.7,840.3 L763.7,841.3 L763.7,842.3 L763.7,843.3 L763.7,844.3 L763.7,845.3 L763.7,846.3 L763.7,847.3 L763.7,848.3 L763.7,849.3 L763.7,850.3 L763.7,851.3 L763.7,852.3 L763.7,853.3 L763.8,854.3 L763.8,855.3 L763.8,856.3 L763.8,857.3 L763.8,858.3 L763.8,859.3 L763.8,860.3 L763.8,861.3 L763.8,862.3 L763.8,863.3 L763.8,864.3 L763.8,865.3 L763.8,866.3 L763.8,867.3 L763.8,868.3 L763.8,869.3 L763.8,870.3 L763.9,871.3 L763.9,872.3 L763.9,873.3 L763.9,874.3 L763.9,875.3 L763.9,876.3 L763.9,877.3 L763.9,878.3 L763.9,879.3 L763.9,880.3 L763.9,881.3 L763.9,882.3 L763.9,883.3 L764.0,884.3 L764.0,885.3 L764.0,886.3 L764.0,887.3 L764.0,888.3 L764.0,889.3 L764.0,890.3 L764.0,891.3 L764.0,892.3 L764.0,893.3 L764.0,894.3 L764.1,895.3 L764.1,896.3 L764.1,897.3 L764.1,898.3 L764.1,899.3 L764.1,900.3 L764.1,901.3 L764.1,902.3 L764.2,903.3 L764.2,904.3 L764.2,905.3 L764.2,906.3 L764.2,907.3 L764.2,908.3 L764.3,909.3 L764.3,910.3 L764.3,911.3 L764.3,912.3 L764.3,913.3 L764.3,914.3 L764.4,915.3 L764.4,916.3 L764.4,917.3 L764.4,918.3 L764.4,919.3 L764.5,920.3 L764.5,921.3 L764.5,922.3 L764.5,923.3 L764.5,924.3 L764.6,925.3 L764.6,926.3 L764.6,927.3 L764.6,928.3 L764.7,929.3 L764.7,930.3 L764.7,931.3 L764.8,932.3 L764.8,933.3 L764.9,934.3 L764.9,935.3 L765.0,936.3 L765.0,937.3 L765.1,938.2 L765.2,939.2 L765.2,940.2 L765.3,941.2 L765.4,942.2 L765.5,943.2 L765.6,944.2 L765.7,945.2 L765.8,946.2 L765.9,947.2 L766.0,948.2 L766.1,949.2 L766.2,950.2 L766.3,951.2 L766.4,952.2 L766.6,953.2 L766.7,954.2 L766.8,955.2 L766.9,956.1 L767.0,957.1 L767.2,958.1 L767.3,959.1 L767.4,960.1 L767.5,961.1 L767.7,962.1 L767.8,963.1 L767.9,964.1 L768.0,965.1 L768.2,966.1 L768.3,967.1 L768.4,968.1 L768.5,969.0 L768.7,970.0 L768.8,971.0 L768.9,972.0 L769.0,973.0 L769.2,974.0 L769.3,975.0 L769.4,976.0 L769.5,977.0 L769.7,978.0 L769.9,978.9 L770.0,979.9 L770.2,980.9 L770.4,981.9 L770.7,982.9 L770.9,983.8 L771.1,984.8 L771.4,985.8 L771.6,986.7 L771.9,987.7 L772.2,988.7 L772.5,989.6 L772.7,990.6 L773.0,991.6 L773.4,992.5 L773.7,993.5 L774.0,994.4 L774.4,995.3 L774.8,996.2 L775.1,997.2 L775.5,998.1 L775.9,999.0 L776.3,999.9 L776.8,1000.8 L777.2,1001.7 L777.6,1002.6 L778.0,1003.5 L778.5,1004.4 L779.0,1005.2 L779.5,1006.0 L780.1,1006.9 L780.8,1007.7 L781.5,1008.5 L782.4,1009.2 L783.2,1009.7 L784.1,1010.1 L785.0,1010.3 L785.9,1010.2 L786.8,1009.9 L787.6,1009.3 L788.4,1008.6 L789.1,1007.8 L789.7,1007.0 L790.3,1006.1 L790.7,1005.2 L791.2,1004.3 L791.6,1003.4 L792.0,1002.5 L792.4,1001.6 L792.7,1000.7 L793.1,999.8 L793.5,998.9 L793.9,998.0 L794.4,997.1 L794.8,996.1 L795.2,995.2 L795.6,994.3 L796.0,993.4 L796.4,992.5 L796.8,991.6 L797.2,990.7 L797.7,989.8 L798.1,988.9 L798.5,988.0 L799.0,987.1 L799.4,986.2 L799.8,985.3 L800.3,984.4 L800.7,983.5 L801.2,982.6 L801.6,981.7 L802.1,980.8 L802.5,979.9 L803.0,979.0 L803.4,978.1 L803.9,977.3 L804.4,976.4 L804.9,975.5 L805.4,974.6 L805.9,973.8 L806.4,972.9 L806.9,972.1 L807.5,971.2 L808.0,970.4 L808.6,969.6 L809.1,968.7 L809.7,967.9 L810.3,967.1 L810.9,966.3 L811.5,965.5 L812.1,964.7 L812.8,964.0 L813.4,963.2 L814.1,962.5 L814.8,961.7 L815.5,961.0 L816.2,960.3 L816.9,959.6 L817.6,958.9 L818.4,958.2 L819.1,957.5 L819.8,956.9 L820.6,956.2 L821.4,955.6 L822.1,955.0 L822.9,954.3 L823.7,953.7 L824.6,953.2 L825.4,952.6 L826.2,952.0 L827.1,951.5 L827.9,951.0 L828.8,950.5 L829.6,950.0 L830.5,949.5 L831.4,949.0 L832.3,948.5 L833.1,948.0 L834.0,947.6 L834.9,947.1 L835.8,946.7 L836.7,946.3 L837.7,945.9 L838.6,945.4 L839.5,945.0 L840.4,944.6 L841.3,944.2 L842.2,943.8 L843.1,943.4 L844.1,943.1 L845.0,942.7 L845.9,942.3 L846.8,942.0 L847.8,941.6 L848.7,941.2 L849.7,940.9 L850.6,940.6 L851.5,940.3 L852.5,939.9 L853.5,939.6 L854.4,939.3 L855.4,939.0 L856.3,938.8 L857.3,938.5 L858.3,938.2 L859.2,937.9 L860.2,937.7 L861.2,937.4 L862.1,937.2 L863.1,937.0 L864.1,936.8 L865.0,936.5 L866.0,936.3 L867.0,936.1 L868.0,935.9 L869.0,935.7 L870.0,935.6 L870.9,935.4 L871.9,935.2 L872.9,935.1 L873.9,934.9 L874.9,934.7 L875.9,934.6 L876.9,934.5 L877.9,934.3 L878.9,934.2 L879.8,934.1 L880.8,934.0 L881.8,933.8 L882.8,933.7 L883.8,933.6 L884.8,933.6 L885.8,933.5 L886.8,933.4 L887.8,933.3 L888.8,933.3 L889.8,933.2 L890.8,933.2 L891.8,933.1 L892.8,933.1 L893.8,933.0 L894.8,933.0 L895.8,933.0 L896.8,933.0 L897.8,933.0 L898.8,933.0 L899.8,933.0 L900.3,933.0 L901.0,933.0 L901.4,992.0 L901.6,808.3 M918.6,1002.3 L919.3,1003.0 L920.0,1003.5 L920.8,1003.6 L921.5,1003.2 L922.1,1002.5 L922.7,1001.6 L923.2,1000.7 L923.7,999.8 L924.1,998.9 L924.5,997.9 L924.8,997.0 L925.2,996.1 L925.5,995.1 L925.8,994.2 L926.1,993.3 L926.4,992.3 L926.7,991.4 L927.0,990.4 L927.3,989.5 L927.6,988.5 L927.9,987.5 L928.2,986.6 L928.5,985.6 L928.8,984.7 L929.1,983.7 L929.4,982.8 L929.8,981.8 L930.1,980.9 L930.4,979.9 L930.7,979.0 L931.0,978.1 L931.4,977.1 L931.7,976.2 L932.0,975.2 L932.4,974.3 L932.7,973.3 L933.1,972.4 L933.4,971.5 L933.8,970.5 L934.1,969.6 L934.5,968.7 L934.8,967.7 L935.2,966.8 L935.6,965.9 L936.0,965.0 L936.4,964.0 L936.8,963.1 L937.2,962.2 L937.6,961.3 L938.0,960.4 L938.5,959.5 L938.9,958.6 L939.4,957.7 L939.8,956.8 L940.3,956.0 L940.8,955.1 L941.3,954.2 L941.8,953.4 L942.4,952.5 L942.9,951.7 L943.5,950.9 L944.1,950.1 L944.7,949.3 L945.3,948.5 L945.9,947.7 L946.6,946.9 L947.2,946.1 L947.9,945.4 L948.6,944.7 L949.3,943.9 L950.0,943.3 L950.7,942.6 L951.4,941.9 L952.2,941.2 L953.0,940.6 L953.8,940.0 L954.5,939.4 L955.4,938.7 L956.2,938.2 L957.0,937.6 L957.8,937.0 L958.7,936.4 L959.5,935.9 L960.3,935.4 L961.2,934.9 L962.1,934.4 L962.9,933.9 L963.8,933.4 L964.7,933.0 L965.6,932.6 L966.6,932.2 L967.5,931.8 L968.4,931.4 L969.3,931.0 L970.3,930.6 L971.2,930.3 L972.1,929.9 L973.1,929.6 L974.0,929.2 L974.9,928.9 L975.9,928.5 L976.8,928.2 L977.8,927.9 L978.7,927.6 L979.7,927.3 L980.6,927.0 L981.6,926.7 L982.6,926.5 L983.5,926.2 L984.5,925.9 L985.5,925.7 L986.4,925.4 L987.4,925.2 L988.4,924.9 L989.3,924.7 L990.3,924.4 L991.3,924.2 L992.2,924.0 L993.2,923.8 L994.2,923.5 L995.2,923.3 L996.1,923.1 L997.1,922.9 L998.1,922.7 L999.1,922.6 L1000.1,922.4 L1001.1,922.2 L1002.0,922.0 L1003.0,921.9 L1004.0,921.7 L1005.0,921.6 L1006.0,921.4 L1007.0,921.3 L1008.0,921.2 L1009.0,921.0 L1010.0,920.9 L1010.9,920.8 L1011.9,920.7 L1012.9,920.6 L1013.9,920.5 L1014.9,920.4 L1015.9,920.3 L1016.9,920.2 L1017.9,920.1 L1018.9,920.1 L1019.9,920.0 L1020.9,920.0 L1021.9,919.9 L1022.9,919.9 L1023.9,919.8 L1024.9,919.8 L1025.9,919.8 L1026.4,919.8 L1027.0,919.8 L1027.4,983.0 L1027.5,783.3 M1042.3,995.0 L1042.9,995.8 L1043.4,996.4 L1044.1,996.5 L1044.7,996.0 L1045.2,995.2 L1045.6,994.2 L1045.9,993.2 L1046.2,992.2 L1046.4,991.2 L1046.6,990.3 L1046.8,989.3 L1047.0,988.3 L1047.2,987.3 L1047.4,986.4 L1047.7,985.4 L1047.9,984.4 L1048.1,983.4 L1048.3,982.5 L1048.5,981.5 L1048.8,980.5 L1049.0,979.5 L1049.2,978.6 L1049.4,977.6 L1049.7,976.6 L1049.9,975.7 L1050.1,974.7 L1050.3,973.7 L1050.6,972.7 L1050.8,971.8 L1051.0,970.8 L1051.3,969.8 L1051.5,968.8 L1051.8,967.9 L1052.0,966.9 L1052.3,966.0 L1052.6,965.0 L1052.8,964.0 L1053.1,963.1 L1053.4,962.1 L1053.7,961.2 L1054.0,960.2 L1054.3,959.2 L1054.6,958.3 L1054.9,957.3 L1055.2,956.4 L1055.5,955.4 L1055.8,954.5 L1056.2,953.6 L1056.5,952.6 L1056.9,951.7 L1057.2,950.8 L1057.6,949.8 L1058.0,948.9 L1058.4,948.0 L1058.8,947.1 L1059.2,946.2 L1059.7,945.3 L1060.1,944.4 L1060.6,943.5 L1061.1,942.6 L1061.6,941.8 L1062.2,940.9 L1062.7,940.1 L1063.3,939.3 L1063.9,938.5 L1064.5,937.7 L1065.1,936.8 L1065.7,936.0 L1066.3,935.3 L1067.0,934.5 L1067.6,933.7 L1068.3,933.0 L1068.9,932.2 L1069.6,931.5 L1070.4,930.8 L1071.1,930.2 L1071.8,929.5 L1072.6,928.8 L1073.4,928.2 L1074.2,927.6 L1075.0,927.0 L1075.8,926.4 L1076.7,925.9 L1077.5,925.3 L1078.3,924.8 L1079.2,924.3 L1080.0,923.8 L1080.9,923.3 L1081.8,922.8 L1082.6,922.3 L1083.5,921.8 L1084.4,921.3 L1085.3,920.8 L1086.2,920.3 L1087.0,919.9 L1087.9,919.4 L1088.8,919.0 L1089.7,918.5 L1090.6,918.1 L1091.5,917.6 L1092.4,917.2 L1093.3,916.8 L1094.2,916.4 L1095.1,916.0 L1096.1,915.6 L1097.0,915.2 L1097.9,914.9 L1098.9,914.5 L1099.8,914.2 L1100.8,913.8 L1101.7,913.5 L1102.6,913.2 L1103.6,912.8 L1104.5,912.5 L1105.5,912.2 L1106.4,912.0 L1107.4,911.7 L1108.4,911.4 L1109.3,911.1 L1110.3,910.9 L1111.3,910.6 L1112.2,910.4 L1113.2,910.1 L1114.2,909.9 L1115.2,909.7 L1116.1,909.4 L1117.1,909.2 L1118.1,909.0 L1119.1,908.8 L1120.1,908.6 L1121.0,908.4 L1122.0,908.3 L1123.0,908.1 L1124.0,907.9 L1125.0,907.8 L1126.0,907.6 L1126.9,907.5 L1127.9,907.3 L1128.9,907.2 L1129.9,907.1 L1130.9,907.0 L1131.9,906.9 L1132.9,906.8 L1133.9,906.7 L1134.9,906.6 L1135.9,906.6 L1136.9,906.6 L1137.9,906.5 L1138.9,906.5 L1139.4,906.5 L1140.0,906.5 L1140.4,974.9 L1140.7,902.5 M1154.9,987.9 L1155.1,988.6 L1155.4,989.0 L1155.7,989.0 L1155.9,988.6 L1156.2,987.8 L1156.5,986.8 L1156.7,985.5 L1157.0,984.2 L1157.3,982.9 L1157.5,981.7 L1157.7,980.7 L1158.0,979.6 L1158.2,978.7 L1158.3,977.7 L1158.5,976.7 L1158.7,975.7 L1158.8,974.7 L1158.9,973.7 L1159.0,972.7 L1159.2,971.7 L1159.3,970.7 L1159.4,969.7 L1159.5,968.7 L1159.6,967.8 L1159.7,966.8 L1159.9,965.8 L1160.0,964.8 L1160.2,963.8 L1160.3,962.8 L1160.5,961.8 L1160.7,960.9 L1160.9,959.9 L1161.0,958.9 L1161.2,957.9 L1161.4,956.9 L1161.6,956.0 L1161.8,955.0 L1162.0,954.0 L1162.2,953.0 L1162.4,952.0 L1162.6,951.1 L1162.8,950.1 L1163.1,949.1 L1163.3,948.1 L1163.5,947.1 L1163.7,946.2 L1164.0,945.2 L1164.2,944.2 L1164.5,943.3 L1164.8,942.3 L1165.1,941.4 L1165.4,940.4 L1165.7,939.5 L1166.0,938.5 L1166.4,937.6 L1166.7,936.6 L1167.1,935.7 L1167.4,934.8 L1167.8,933.8 L1168.2,932.9 L1168.6,932.0 L1169.0,931.1 L1169.5,930.2 L1169.9,929.3 L1170.4,928.4 L1170.9,927.5 L1171.3,926.7 L1171.8,925.8 L1172.4,924.9 L1172.9,924.1 L1173.4,923.2 L1174.0,922.4 L1174.5,921.6 L1175.1,920.8 L1175.7,920.0 L1176.3,919.2 L1176.9,918.4 L1177.6,917.6 L1178.3,916.9 L1179.0,916.1 L1179.7,915.4 L1180.4,914.7 L1181.1,914.0 L1181.9,913.4 L1182.7,912.7 L1183.4,912.1 L1184.2,911.5 L1185.0,910.9 L1185.8,910.3 L1186.7,909.8 L1187.5,909.2 L1188.4,908.7 L1189.2,908.2 L1190.1,907.7 L1191.0,907.1 L1191.8,906.6 L1192.7,906.2 L1193.6,905.7 L1194.4,905.2 L1195.3,904.7 L1196.2,904.3 L1197.1,903.8 L1198.0,903.4 L1198.9,903.0 L1199.8,902.6 L1200.7,902.2 L1201.7,901.8 L1202.6,901.4 L1203.5,901.0 L1204.4,900.6 L1205.4,900.2 L1206.3,899.9 L1207.2,899.5 L1208.2,899.2 L1209.1,898.8 L1210.0,898.5 L1211.0,898.1 L1211.9,897.8 L1212.9,897.5 L1213.8,897.2 L1214.8,896.9 L1215.7,896.6 L1216.7,896.3 L1217.7,896.0 L1218.6,895.8 L1219.6,895.5 L1220.6,895.2 L1221.5,895.0 L1222.5,894.8 L1223.5,894.5 L1224.5,894.3 L1225.4,894.1 L1226.4,893.9 L1227.4,893.7 L1228.4,893.5 L1229.4,893.4 L1230.4,893.2 L1231.3,893.0 L1232.3,892.9 L1233.3,892.8 L1234.3,892.6 L1235.3,892.5 L1236.3,892.4 L1237.3,892.4 L1238.3,892.3 L1239.3,892.2 L1240.3,892.2 L1241.3,892.2 L1242.3,892.2 L1242.9,892.2 L1243.3,966.0 L1243.6,888.2 M1255.8,979.1 L1256.1,979.9 L1256.4,980.4 L1256.7,980.4 L1257.1,980.0 L1257.4,979.1 L1257.8,978.0 L1258.1,976.8 L1258.4,975.7 L1258.5,974.6 L1258.7,973.5 L1258.8,972.5 L1259.0,971.5 L1259.1,970.6 L1259.2,969.6 L1259.4,968.6 L1259.5,967.6 L1259.6,966.6 L1259.7,965.6 L1259.9,964.6 L1260.0,963.6 L1260.1,962.6 L1260.2,961.6 L1260.4,960.6 L1260.5,959.7 L1260.6,958.7 L1260.7,957.7 L1260.9,956.7 L1261.0,955.7 L1261.1,954.7 L1261.3,953.7 L1261.4,952.7 L1261.5,951.7 L1261.7,950.7 L1261.8,949.7 L1261.9,948.8 L1262.1,947.8 L1262.2,946.8 L1262.3,945.8 L1262.5,944.8 L1262.6,943.8 L1262.7,942.8 L1262.9,941.8 L1263.0,940.8 L1263.1,939.8 L1263.3,938.9 L1263.4,937.9 L1263.6,936.9 L1263.8,935.9 L1264.0,934.9 L1264.2,933.9 L1264.4,933.0 L1264.6,932.0 L1264.8,931.0 L1265.1,930.0 L1265.3,929.1 L1265.5,928.1 L1265.8,927.1 L1266.0,926.2 L1266.3,925.2 L1266.5,924.2 L1266.8,923.2 L1267.0,922.3 L1267.3,921.3 L1267.6,920.4 L1267.9,919.4 L1268.2,918.5 L1268.6,917.5 L1268.9,916.6 L1269.3,915.7 L1269.6,914.7 L1270.0,913.8 L1270.4,912.9 L1270.9,912.0 L1271.3,911.1 L1271.8,910.2 L1272.3,909.3 L1272.8,908.5 L1273.4,907.7 L1274.0,906.9 L1274.6,906.1 L1275.2,905.3 L1275.8,904.5 L1276.4,903.7 L1277.1,902.9 L1277.7,902.1 L1278.3,901.3 L1279.0,900.6 L1279.7,899.8 L1280.3,899.1 L1281.0,898.4 L1281.8,897.7 L1282.5,897.0 L1283.3,896.4 L1284.0,895.7 L1284.8,895.1 L1285.7,894.6 L1286.5,894.0 L1287.4,893.4 L1288.2,892.9 L1289.1,892.4 L1289.9,891.9 L1290.8,891.4 L1291.7,891.0 L1292.6,890.5 L1293.5,890.0 L1294.3,889.6 L1295.2,889.2 L1296.1,888.7 L1297.1,888.3 L1298.0,887.9 L1298.9,887.5 L1299.8,887.1 L1300.7,886.6 L1301.6,886.2 L1302.5,885.8 L1303.4,885.4 L1304.4,885.0 L1305.3,884.7 L1306.2,884.3 L1307.1,883.9 L1308.0,883.5 L1309.0,883.2 L1309.9,882.8 L1310.9,882.5 L1311.8,882.1 L1312.8,881.8 L1313.7,881.5 L1314.7,881.2 L1315.6,880.9 L1316.6,880.6 L1317.6,880.4 L1318.5,880.1 L1319.5,879.9 L1320.5,879.7 L1321.4,879.4 L1322.4,879.2 L1323.4,879.0 L1324.4,878.8 L1325.4,878.7 L1326.4,878.5 L1327.3,878.3 L1328.3,878.2 L1329.3,878.1 L1330.3,877.9 L1331.3,877.8 L1332.3,877.8 L1333.3,877.7 L1334.3,877.6 L1335.3,877.6 L1336.3,877.6 L1336.9,877.6 L1337.3,955.9 L1337.4,873.6 M1347.8,970.8 L1348.0,971.5 L1348.3,971.9 L1348.6,971.9 L1348.9,971.5 L1349.2,970.6 L1349.5,969.6 L1349.8,968.3 L1350.1,967.1 L1350.3,966.0 L1350.5,965.0 L1350.6,963.9 L1350.8,963.0 L1350.9,962.0 L1351.1,961.0 L1351.2,960.0 L1351.3,959.0 L1351.4,958.0 L1351.5,957.0 L1351.6,956.0 L1351.8,955.0 L1351.9,954.0 L1352.0,953.0 L1352.1,952.0 L1352.2,951.0 L1352.3,950.1 L1352.4,949.1 L1352.5,948.1 L1352.6,947.1 L1352.7,946.1 L1352.8,945.1 L1352.9,944.1 L1353.0,943.1 L1353.1,942.1 L1353.2,941.1 L1353.3,940.1 L1353.4,939.1 L1353.5,938.1 L1353.6,937.1 L1353.7,936.1 L1353.8,935.1 L1353.9,934.1 L1354.0,933.1 L1354.2,932.2 L1354.3,931.2 L1354.4,930.2 L1354.5,929.2 L1354.6,928.2 L1354.8,927.2 L1354.9,926.2 L1355.1,925.2 L1355.2,924.2 L1355.4,923.2 L1355.6,922.3 L1355.7,921.3 L1355.9,920.3 L1356.1,919.3 L1356.3,918.3 L1356.5,917.3 L1356.6,916.4 L1356.8,915.4 L1357.0,914.4 L1357.2,913.4 L1357.4,912.4 L1357.6,911.5 L1357.9,910.5 L1358.1,909.5 L1358.3,908.5 L1358.6,907.6 L1358.8,906.6 L1359.1,905.6 L1359.4,904.7 L1359.7,903.7 L1359.9,902.7 L1360.2,901.8 L1360.5,900.8 L1360.9,899.9 L1361.2,899.0 L1361.6,898.1 L1362.0,897.1 L1362.4,896.2 L1362.9,895.3 L1363.3,894.4 L1363.8,893.5 L1364.3,892.7 L1364.7,891.8 L1365.3,890.9 L1365.8,890.0 L1366.3,889.2 L1366.9,888.3 L1367.5,887.5 L1368.1,886.7 L1368.7,886.0 L1369.3,885.2 L1370.0,884.4 L1370.7,883.7 L1371.4,883.0 L1372.1,882.3 L1372.8,881.6 L1373.6,880.9 L1374.4,880.3 L1375.2,879.6 L1375.9,879.0 L1376.7,878.4 L1377.5,877.8 L1378.3,877.2 L1379.2,876.6 L1380.0,876.1 L1380.8,875.5 L1381.7,875.0 L1382.5,874.5 L1383.4,874.0 L1384.3,873.5 L1385.1,873.0 L1386.0,872.6 L1386.9,872.1 L1387.8,871.7 L1388.7,871.2 L1389.6,870.8 L1390.5,870.4 L1391.5,870.0 L1392.4,869.6 L1393.3,869.2 L1394.2,868.8 L1395.1,868.4 L1396.1,868.1 L1397.0,867.7 L1397.9,867.3 L1398.9,867.0 L1399.8,866.7 L1400.8,866.3 L1401.7,866.0 L1402.7,865.7 L1403.6,865.4 L1404.6,865.1 L1405.5,864.8 L1406.5,864.5 L1407.4,864.2 L1408.4,864.0 L1409.4,863.8 L1410.4,863.5 L1411.3,863.3 L1412.3,863.1 L1413.3,863.0 L1414.3,862.9 L1415.3,862.7 L1416.3,862.6 L1417.3,862.6 L1418.3,862.5 L1419.3,862.5 L1420.3,862.4 L1421.3,862.4 L1421.9,862.4 L1422.3,945.8 L1422.4,858.4 M1432.1,959.1 L1432.2,959.8 L1432.3,960.3 L1432.4,960.5 L1432.6,960.2 L1432.7,959.6 L1432.9,958.6 L1433.1,957.4 L1433.3,956.0 L1433.5,954.5 L1433.6,953.0 L1433.8,951.5 L1433.9,950.2 L1434.1,949.0 L1434.2,947.9 L1434.3,946.9 L1434.4,945.9 L1434.5,944.9 L1434.5,943.9 L1434.6,942.9 L1434.7,941.9 L1434.8,940.9 L1434.9,939.9 L1434.9,938.9 L1435.0,937.9 L1435.1,936.9 L1435.1,935.9 L1435.2,934.9 L1435.2,933.9 L1435.3,932.9 L1435.4,931.9 L1435.4,930.9 L1435.5,929.9 L1435.5,928.9 L1435.6,927.9 L1435.7,926.9 L1435.8,925.9 L1435.8,925.0 L1435.9,924.0 L1436.0,923.0 L1436.1,922.0 L1436.2,921.0 L1436.2,920.0 L1436.3,919.0 L1436.4,918.0 L1436.5,917.0 L1436.6,916.0 L1436.7,915.0 L1436.8,914.0 L1436.9,913.0 L1437.1,912.0 L1437.2,911.0 L1437.3,910.0 L1437.4,909.0 L1437.5,908.1 L1437.6,907.1 L1437.8,906.1 L1437.9,905.1 L1438.0,904.1 L1438.1,903.1 L1438.2,902.1 L1438.4,901.1 L1438.5,900.1 L1438.6,899.1 L1438.8,898.1 L1438.9,897.1 L1439.0,896.1 L1439.2,895.2 L1439.3,894.2 L1439.5,893.2 L1439.7,892.2 L1439.9,891.2 L1440.1,890.3 L1440.3,889.3 L1440.5,888.3 L1440.8,887.3 L1441.0,886.4 L1441.3,885.4 L1441.5,884.4 L1441.8,883.5 L1442.1,882.5 L1442.4,881.5 L1442.7,880.6 L1443.0,879.6 L1443.3,878.7 L1443.6,877.7 L1444.0,876.8 L1444.4,875.9 L1444.8,875.0 L1445.3,874.1 L1445.8,873.2 L1446.3,872.4 L1446.8,871.5 L1447.4,870.7 L1447.9,869.8 L1448.5,869.0 L1449.1,868.2 L1449.8,867.4 L1450.4,866.6 L1451.1,865.9 L1451.8,865.1 L1452.5,864.4 L1453.2,863.8 L1453.9,863.1 L1454.7,862.5 L1455.5,861.8 L1456.3,861.2 L1457.1,860.6 L1457.9,860.0 L1458.8,859.5 L1459.6,858.9 L1460.4,858.4 L1461.3,857.8 L1462.1,857.3 L1463.0,856.8 L1463.8,856.2 L1464.7,855.7 L1465.5,855.2 L1466.4,854.8 L1467.3,854.3 L1468.2,853.8 L1469.1,853.3 L1469.9,852.9 L1470.8,852.4 L1471.7,852.0 L1472.6,851.5 L1473.5,851.1 L1474.4,850.7 L1475.4,850.3 L1476.3,849.9 L1477.2,849.5 L1478.1,849.1 L1479.0,848.7 L1479.9,848.3 L1480.9,847.9 L1481.8,847.6 L1482.7,847.2 L1483.7,846.9 L1484.7,846.6 L1485.6,846.3 L1486.6,846.0 L1487.5,845.8 L1488.5,845.5 L1489.5,845.3 L1490.5,845.1 L1491.4,844.9 L1492.4,844.8 L1493.4,844.6 L1494.4,844.5 L1495.4,844.4 L1496.4,844.3 L1497.4,844.2 L1498.4,844.2 L1499.0,844.2 L1499.4,934.9 L1499.4,840.2 M1508.1,948.5 L1508.2,949.3 L1508.4,949.7 L1508.5,949.9 L1508.7,949.6 L1508.9,948.9 L1509.1,947.9 L1509.3,946.6 L1509.5,945.3 L1509.6,944.0 L1509.8,942.7 L1509.9,941.6 L1510.0,940.5 L1510.1,939.5 L1510.2,938.5 L1510.3,937.5 L1510.4,936.5 L1510.4,935.5 L1510.5,934.5 L1510.6,933.5 L1510.6,932.5 L1510.7,931.5 L1510.7,930.5 L1510.8,929.5 L1510.8,928.5 L1510.9,927.5 L1510.9,926.5 L1511.0,925.5 L1511.0,924.5 L1511.1,923.5 L1511.1,922.5 L1511.2,921.5 L1511.2,920.5 L1511.3,919.5 L1511.3,918.6 L1511.4,917.6 L1511.5,916.6 L1511.5,915.6 L1511.6,914.6 L1511.7,913.6 L1511.8,912.6 L1511.8,911.6 L1511.9,910.6 L1512.0,909.6 L1512.1,908.6 L1512.2,907.6 L1512.3,906.6 L1512.4,905.6 L1512.4,904.6 L1512.5,903.6 L1512.6,902.6 L1512.7,901.6 L1512.8,900.6 L1512.9,899.6 L1513.0,898.6 L1513.1,897.7 L1513.2,896.7 L1513.3,895.7 L1513.4,894.7 L1513.5,893.7 L1513.6,892.7 L1513.7,891.7 L1513.8,890.7 L1513.9,889.7 L1514.0,888.7 L1514.1,887.7 L1514.2,886.7 L1514.3,885.7 L1514.5,884.7 L1514.6,883.7 L1514.8,882.8 L1514.9,881.8 L1515.1,880.8 L1515.2,879.8 L1515.4,878.8 L1515.6,877.8 L1515.7,876.8 L1515.9,875.9 L1516.1,874.9 L1516.3,873.9 L1516.5,872.9 L1516.7,871.9 L1516.9,871.0 L1517.1,870.0 L1517.3,869.0 L1517.5,868.0 L1517.8,867.1 L1518.0,866.1 L1518.3,865.1 L1518.6,864.2 L1518.9,863.2 L1519.2,862.3 L1519.5,861.3 L1519.8,860.4 L1520.2,859.4 L1520.5,858.5 L1520.9,857.6 L1521.2,856.6 L1521.6,855.7 L1522.0,854.8 L1522.4,853.9 L1522.8,852.9 L1523.3,852.1 L1523.7,851.2 L1524.2,850.3 L1524.7,849.5 L1525.3,848.6 L1525.8,847.8 L1526.4,846.9 L1527.0,846.1 L1527.6,845.3 L1528.3,844.5 L1528.9,843.7 L1529.6,843.0 L1530.3,842.3 L1531.0,841.5 L1531.7,840.9 L1532.4,840.2 L1533.2,839.5 L1533.9,838.9 L1534.7,838.2 L1535.5,837.6 L1536.3,837.0 L1537.1,836.4 L1537.9,835.8 L1538.7,835.3 L1539.6,834.7 L1540.4,834.1 L1541.2,833.6 L1542.1,833.1 L1542.9,832.5 L1543.8,832.0 L1544.6,831.5 L1545.5,831.0 L1546.3,830.5 L1547.2,830.0 L1548.1,829.5 L1548.9,829.0 L1549.8,828.5 L1550.7,828.1 L1551.6,827.6 L1552.5,827.2 L1553.4,826.7 L1554.3,826.3 L1555.2,825.9 L1556.1,825.5 L1557.0,825.1 L1558.0,824.7 L1558.9,824.3 L1559.8,824.0 L1560.8,823.6 L1561.7,823.3 L1562.7,823.0 L1563.6,822.8 L1564.6,822.6 L1565.6,822.4 L1566.6,822.3 L1567.5,822.2 L1568.6,822.2 L1569.3,822.2 L1569.7,923.4 L1569.9,818.2 M1577.7,934.8 L1577.8,935.3 L1577.9,935.7 L1578.0,935.9 L1578.1,935.7 L1578.2,935.2 L1578.3,934.4 L1578.5,933.4 L1578.6,932.3 L1578.7,931.0 L1578.8,929.6 L1579.0,928.2 L1579.1,926.9 L1579.2,925.6 L1579.3,924.5 L1579.3,923.4 L1579.4,922.4 L1579.5,921.4 L1579.5,920.4 L1579.6,919.4 L1579.6,918.4 L1579.7,917.4 L1579.7,916.4 L1579.8,915.4 L1579.8,914.4 L1579.9,913.4 L1579.9,912.4 L1579.9,911.4 L1580.0,910.4 L1580.0,909.4 L1580.0,908.4 L1580.1,907.4 L1580.1,906.4 L1580.1,905.4 L1580.2,904.4 L1580.2,903.4 L1580.2,902.4 L1580.2,901.4 L1580.3,900.4 L1580.3,899.4 L1580.4,898.4 L1580.4,897.4 L1580.4,896.4 L1580.5,895.4 L1580.5,894.4 L1580.6,893.4 L1580.6,892.4 L1580.7,891.4 L1580.7,890.4 L1580.8,889.4 L1580.9,888.4 L1580.9,887.4 L1581.0,886.4 L1581.0,885.4 L1581.1,884.4 L1581.1,883.4 L1581.2,882.4 L1581.3,881.4 L1581.3,880.4 L1581.4,879.4 L1581.5,878.4 L1581.5,877.4 L1581.6,876.4 L1581.6,875.4 L1581.7,874.4 L1581.8,873.4 L1581.8,872.5 L1581.9,871.5 L1582.0,870.5 L1582.0,869.5 L1582.1,868.5 L1582.1,867.5 L1582.2,866.5 L1582.3,865.5 L1582.3,864.5 L1582.4,863.5 L1582.5,862.5 L1582.5,861.5 L1582.6,860.5 L1582.7,859.5 L1582.8,858.5 L1582.9,857.5 L1583.0,856.5 L1583.1,855.5 L1583.2,854.5 L1583.3,853.5 L1583.4,852.5 L1583.6,851.5 L1583.8,850.5 L1583.9,849.6 L1584.1,848.6 L1584.4,847.6 L1584.6,846.6 L1584.9,845.7 L1585.1,844.7 L1585.4,843.7 L1585.7,842.8 L1586.0,841.8 L1586.2,840.9 L1586.5,839.9 L1586.8,838.9 L1587.0,838.0 L1587.3,837.0 L1587.6,836.1 L1587.9,835.1 L1588.2,834.2 L1588.6,833.2 L1589.0,832.3 L1589.4,831.4 L1589.8,830.5 L1590.3,829.6 L1590.7,828.7 L1591.3,827.9 L1591.8,827.0 L1592.3,826.1 L1592.8,825.3 L1593.4,824.4 L1593.9,823.6 L1594.5,822.8 L1595.1,822.0 L1595.6,821.2 L1596.2,820.4 L1596.8,819.6 L1597.4,818.8 L1598.0,818.0 L1598.7,817.2 L1599.3,816.4 L1599.9,815.6 L1600.6,814.8 L1601.2,814.1 L1601.9,813.3 L1602.6,812.6 L1603.2,811.9 L1603.9,811.1 L1604.6,810.4 L1605.3,809.7 L1606.0,809.0 L1606.7,808.3 L1607.4,807.6 L1608.2,806.9 L1608.9,806.2 L1609.6,805.6 L1610.4,804.9 L1611.1,804.2 L1611.9,803.6 L1612.7,802.9 L1613.5,802.3 L1614.2,801.7 L1615.0,801.0 L1615.8,800.4 L1616.7,799.9 L1617.5,799.3 L1618.3,798.8 L1619.2,798.2 L1620.0,797.7 L1620.9,797.2 L1621.7,796.7 L1622.6,796.2 L1623.5,795.7 L1624.4,795.3 L1625.3,794.8 L1626.2,794.4 L1627.1,794.0 L1628.0,793.7 L1629.0,793.3 L1629.9,793.0 L1630.9,792.7 L1631.8,792.4 L1632.8,792.1 L1633.3,792.0 L1634.1,792.0 L1634.5,911.3 L1634.8,788.0 M1642.1,915.1 L1642.2,915.7 L1642.3,916.2 L1642.3,916.5 L1642.4,916.4 L1642.5,916.0 L1642.6,915.3 L1642.7,914.4 L1642.8,913.2 L1642.9,911.9 L1643.0,910.5 L1643.1,909.1 L1643.2,907.7 L1643.3,906.4 L1643.4,905.3 L1643.5,904.2 L1643.5,903.2 L1643.6,902.2 L1643.6,901.2 L1643.7,900.2 L1643.8,899.2 L1643.8,898.2 L1643.9,897.2 L1644.0,896.2 L1644.0,895.2 L1644.1,894.2 L1644.1,893.2 L1644.2,892.2 L1644.2,891.2 L1644.3,890.2 L1644.3,889.2 L1644.4,888.2 L1644.4,887.2 L1644.5,886.2 L1644.6,885.2 L1644.6,884.2 L1644.7,883.2 L1644.7,882.2 L1644.8,881.2 L1644.8,880.2 L1644.9,879.2 L1644.9,878.2 L1645.0,877.2 L1645.0,876.2 L1645.1,875.2 L1645.1,874.2 L1645.2,873.2 L1645.2,872.2 L1645.3,871.2 L1645.3,870.2 L1645.4,869.2 L1645.4,868.2 L1645.5,867.2 L1645.5,866.2 L1645.6,865.2 L1645.6,864.3 L1645.7,863.3 L1645.8,862.3 L1645.8,861.3 L1645.9,860.3 L1646.0,859.3 L1646.0,858.3 L1646.1,857.3 L1646.2,856.3 L1646.2,855.3 L1646.3,854.3 L1646.4,853.3 L1646.5,852.3 L1646.5,851.3 L1646.6,850.3 L1646.7,849.3 L1646.8,848.3 L1646.9,847.3 L1647.0,846.3 L1647.0,845.3 L1647.1,844.3 L1647.2,843.3 L1647.3,842.3 L1647.4,841.3 L1647.5,840.3 L1647.5,839.3 L1647.6,838.3 L1647.7,837.3 L1647.8,836.3 L1647.9,835.3 L1648.0,834.3 L1648.0,833.4 L1648.1,832.4 L1648.2,831.4 L1648.3,830.4 L1648.4,829.4 L1648.6,828.4 L1648.7,827.4 L1648.8,826.4 L1648.9,825.4 L1649.0,824.4 L1649.2,823.4 L1649.3,822.4 L1649.4,821.4 L1649.6,820.5 L1649.7,819.5 L1649.9,818.5 L1650.0,817.5 L1650.2,816.5 L1650.3,815.5 L1650.5,814.5 L1650.6,813.5 L1650.8,812.5 L1650.9,811.5 L1651.1,810.6 L1651.3,809.6 L1651.5,808.6 L1651.7,807.6 L1651.9,806.6 L1652.1,805.7 L1652.4,804.7 L1652.6,803.7 L1652.9,802.8 L1653.2,801.8 L1653.5,800.9 L1653.8,799.9 L1654.1,799.0 L1654.4,798.0 L1654.7,797.1 L1655.1,796.1 L1655.4,795.2 L1655.8,794.2 L1656.2,793.3 L1656.5,792.4 L1656.9,791.4 L1657.3,790.5 L1657.7,789.6 L1658.2,788.7 L1658.6,787.8 L1659.0,786.9 L1659.5,786.0 L1660.0,785.1 L1660.5,784.2 L1661.0,783.4 L1661.5,782.5 L1662.0,781.7 L1662.5,780.8 L1663.1,780.0 L1663.7,779.2 L1664.3,778.3 L1664.9,777.5 L1665.5,776.7 L1666.1,775.9 L1666.7,775.1 L1667.3,774.4 L1668.0,773.6 L1668.6,772.8 L1669.3,772.1 L1669.9,771.3 L1670.6,770.6 L1671.2,769.8 L1671.9,769.1 L1672.6,768.4 L1673.3,767.7 L1674.0,766.9 L1674.7,766.2 L1675.4,765.5 L1676.1,764.8 L1676.8,764.1 L1677.5,763.4 L1678.3,762.7 L1679.0,762.0 L1679.7,761.4 L1680.5,760.7 L1681.2,760.1 L1682.0,759.4 L1682.8,758.8 L1683.6,758.2 L1684.4,757.6 L1685.2,757.0 L1686.0,756.4 L1686.9,755.9 L1687.7,755.4 L1688.6,754.9 L1689.4,754.4 L1690.3,753.9 L1691.2,753.5 L1692.1,753.0 L1692.6,752.8 L1694.3,752.8 L1694.7,905.5 L1694.8,748.8 M1701.6,890.7 L1701.6,891.3 L1701.7,891.7 L1701.7,892.0 L1701.8,892.1 L1701.8,891.9 L1701.9,891.6 L1701.9,891.1 L1702.0,890.4 L1702.0,889.5 L1702.1,888.5 L1702.1,887.3 L1702.2,886.1 L1702.2,884.8 L1702.3,883.4 L1702.3,882.0 L1702.4,880.6 L1702.4,879.2 L1702.5,877.8 L1702.5,876.4 L1702.6,875.1 L1702.6,873.9 L1702.7,872.7 L1702.7,871.7 L1702.8,870.6 L1702.8,869.6 L1702.8,868.6 L1702.9,867.6 L1702.9,866.6 L1702.9,865.6 L1703.0,864.6 L1703.0,863.6 L1703.0,862.6 L1703.1,861.6 L1703.1,860.6 L1703.1,859.6 L1703.2,858.6 L1703.2,857.7 L1703.2,856.7 L1703.2,855.7 L1703.3,854.7 L1703.3,853.7 L1703.3,852.7 L1703.4,851.7 L1703.4,850.7 L1703.4,849.7 L1703.5,848.7 L1703.5,847.7 L1703.5,846.7 L1703.6,845.7 L1703.6,844.7 L1703.7,843.7 L1703.7,842.7 L1703.7,841.7 L1703.8,840.7 L1703.8,839.7 L1703.9,838.7 L1703.9,837.7 L1703.9,836.7 L1704.0,835.7 L1704.0,834.7 L1704.1,833.7 L1704.1,832.7 L1704.2,831.7 L1704.2,830.7 L1704.3,829.7 L1704.3,828.7 L1704.4,827.7 L1704.4,826.7 L1704.5,825.7 L1704.5,824.7 L1704.6,823.7 L1704.6,822.7 L1704.7,821.7 L1704.7,820.7 L1704.8,819.7 L1704.8,818.7 L1704.9,817.7 L1704.9,816.7 L1705.0,815.7 L1705.1,814.7 L1705.1,813.7 L1705.2,812.7 L1705.3,811.7 L1705.4,810.7 L1705.4,809.7 L1705.5,808.7 L1705.6,807.7 L1705.7,806.7 L1705.8,805.7 L1705.9,804.7 L1705.9,803.7 L1706.0,802.7 L1706.1,801.7 L1706.2,800.8 L1706.4,799.8 L1706.5,798.8 L1706.7,797.8 L1706.8,796.8 L1707.0,795.8 L1707.2,794.8 L1707.4,793.8 L1707.5,792.9 L1707.7,791.9 L1707.9,790.9 L1708.1,790.0 L1708.4,789.0 L1708.7,788.0 L1709.0,787.1 L1709.4,786.2 L1709.8,785.2 L1710.3,784.2 L1710.9,783.2 L1711.4,782.3 L1712.0,781.5 L1712.7,780.9 L1713.3,780.7 L1713.9,780.9 L1714.6,781.5 L1715.3,782.3 L1715.9,783.3 L1716.5,784.3 L1717.0,785.3 L1717.5,786.2 L1717.9,787.1 L1718.2,788.1 L1718.5,789.0 L1718.8,790.0 L1719.0,790.9 L1719.2,791.9 L1719.4,792.9 L1719.5,793.8 L1719.7,794.8 L1719.9,795.8 L1720.0,796.8 L1720.2,797.8 L1720.3,798.8 L1720.5,799.8 L1720.6,800.8 L1720.8,801.7 L1720.9,802.7 L1721.0,803.7 L1721.2,804.7 L1721.3,805.7 L1721.4,806.7 L1721.5,807.7 L1721.6,808.7 L1721.7,809.7 L1721.8,810.7 L1721.9,811.7 L1722.1,812.7 L1722.2,813.7 L1722.3,814.7 L1722.4,815.7 L1722.5,816.6 L1722.6,817.6 L1722.6,818.6 L1722.7,819.6 L1722.8,820.6 L1722.9,821.6 L1723.0,822.6 L1723.1,823.6 L1723.2,824.6 L1723.2,825.6 L1723.3,826.6 L1723.4,827.6 L1723.5,828.6 L1723.6,829.6 L1723.6,830.6 L1723.7,831.6 L1723.8,832.6 L1723.9,833.6 L1724.0,834.6 L1724.0,835.6 L1724.1,836.6 L1724.2,837.6 L1724.2,838.6 L1724.3,839.6 L1724.4,840.6 L1724.4,841.6 L1724.5,842.6 L1724.6,843.6 L1724.6,844.6 L1724.7,845.6 L1724.8,846.6 L1724.8,847.6 L1724.9,848.6 L1724.9,849.6 L1725.0,850.6 L1725.0,851.6 L1725.1,852.5 L1725.1,853.5 L1725.2,854.5 L1725.2,855.5 L1725.3,856.5 L1725.3,857.5 L1725.4,858.5 L1725.4,859.5 L1725.5,860.5 L1725.5,861.5 L1725.6,862.5 L1725.6,863.5 L1725.6,864.5 L1725.7,865.5 L1725.7,866.5 L1725.8,867.5 L1725.8,868.5 L1725.8,869.5 L1725.9,870.5 L1725.9,871.5 L1726.0,872.5 L1726.0,873.5 L1726.0,874.5 L1726.1,875.5 L1726.1,876.5 L1726.1,877.5 L1726.2,878.5 L1726.2,879.5 L1726.2,880.5 L1726.3,881.5 L1726.3,882.5 L1726.3,883.5 L1726.4,884.5 L1726.4,885.5 L1726.4,886.5 L1726.5,887.5 L1726.5,888.5 L1726.5,889.5 L1726.6,890.5 L1726.6,891.5 L1726.6,892.5 L1726.7,893.5 L1726.7,894.5 L1726.7,895.5 L1726.7,896.5 L1726.8,897.5 L1726.8,898.5 L1726.8,899.5 L1726.8,900.5 L1726.9,901.5 L1726.9,902.5 L1726.9,903.5 L1726.9,904.5 L1726.9,905.5 L1727.0,906.5 L1727.0,907.5 L1727.0,908.5 L1727.0,909.5 L1727.0,910.5 L1727.0,911.5 L1727.0,912.5 L1727.0,913.5 L1727.0,914.5 L1727.0,915.5 L1727.0,916.5 L1727.0,917.5 L1727.0,918.5 L1727.0,919.5 L1727.0,920.5 L1727.0,921.5 L1727.0,922.5 L1726.9,923.5 L1726.9,924.5 L1726.9,925.5 L1726.9,926.5 L1726.9,927.5 L1726.9,928.5 L1726.9,929.5 L1726.9,930.5 L1726.9,931.5 L1726.9,932.5 L1726.9,933.5 L1726.9,934.5 L1726.9,935.5 L1726.9,936.5 L1726.9,937.5 L1726.9,938.5 L1726.9,939.5 L1726.9,940.5 L1726.8,941.5 L1726.8,942.5 L1726.8,943.5 L1726.8,944.5 L1726.8,945.5 L1726.8,946.5 L1726.8,947.5 L1726.8,948.5 L1726.8,949.5 L1726.8,950.5 L1726.8,951.5 L1726.8,952.5 L1726.8,953.5 L1726.8,954.5 L1726.8,955.5 L1726.8,956.5 L1726.8,957.5 L1726.8,958.5 L1726.7,959.5 L1726.7,960.5 L1726.7,961.5 L1726.7,962.5 L1726.7,963.5 L1726.7,964.5 L1726.7,965.5 L1726.7,966.5 L1726.7,967.5 L1726.7,968.5 L1726.7,969.5 L1726.7,970.5 L1726.7,971.5 L1726.7,972.5 L1726.7,973.5 L1726.7,974.5 L1726.7,975.5 L1726.7,976.5 L1726.6,977.5 L1726.6,978.5 L1726.6,979.5 L1726.6,980.5 L1726.6,981.5 L1726.6,982.5 L1726.6,983.5 L1726.6,984.5 L1726.6,985.5 L1726.6,986.5 L1726.6,987.5 L1726.6,988.5 L1726.6,989.5 L1726.6,990.5 L1726.6,991.5 L1726.6,992.5 L1726.6,993.5 L1726.6,994.5 L1726.5,995.5 L1726.5,996.5 L1726.5,997.5 L1726.5,998.5 L1726.5,999.5 L1726.5,1000.5 L1726.5,1001.5 L1726.5,1002.5 L1726.5,1003.5 L1726.5,1004.5" fill="none" stroke="#000" stroke-width="4.6" stroke-linejoin="round" stroke-linecap="round"/>
<path d="M901.6,808.3 L901.6,809.3 L901.6,810.3 L901.6,811.3 L901.6,812.3 L901.7,813.3 L901.7,814.3 L901.7,815.3 L901.7,816.3 L901.7,817.3 L901.7,818.3 L901.7,819.3 L901.7,820.3 L901.8,821.3 L901.8,822.3 L901.8,823.3 L901.8,824.3 L901.8,825.3 L901.8,826.3 L901.8,827.3 L901.8,828.3 L901.9,829.3 L901.9,830.3 L901.9,831.3 L901.9,832.3 L901.9,833.3 L901.9,834.3 L901.9,835.3 L902.0,836.3 L902.0,837.3 L902.0,838.3 L902.0,839.3 L902.0,840.3 L902.0,841.3 L902.1,842.3 L902.1,843.3 L902.1,844.3 L902.1,845.3 L902.1,846.3 L902.1,847.3 L902.1,848.3 L902.2,849.3 L902.2,850.3 L902.2,851.3 L902.2,852.3 L902.2,853.3 L902.2,854.3 L902.3,855.3 L902.3,856.3 L902.3,857.3 L902.3,858.3 L902.3,859.3 L902.3,860.3 L902.4,861.3 L902.4,862.3 L902.4,863.3 L902.4,864.3 L902.4,865.3 L902.4,866.3 L902.5,867.3 L902.5,868.3 L902.5,869.3 L902.5,870.3 L902.5,871.3 L902.5,872.3 L902.6,873.3 L902.6,874.2 L902.6,875.2 L902.6,876.2 L902.6,877.2 L902.6,878.2 L902.7,879.2 L902.7,880.2 L902.7,881.2 L902.7,882.2 L902.7,883.2 L902.8,884.2 L902.8,885.2 L902.8,886.2 L902.8,887.2 L902.8,888.2 L902.9,889.2 L902.9,890.2 L902.9,891.2 L902.9,892.2 L903.0,893.2 L903.0,894.2 L903.0,895.2 L903.0,896.2 L903.1,897.2 L903.1,898.2 L903.1,899.2 L903.1,900.2 L903.2,901.2 L903.2,902.2 L903.2,903.2 L903.2,904.2 L903.3,905.2 L903.3,906.2 L903.3,907.2 L903.4,908.2 L903.4,909.2 L903.4,910.2 L903.5,911.2 L903.5,912.2 L903.5,913.2 L903.6,914.2 L903.6,915.2 L903.6,916.2 L903.7,917.2 L903.7,918.2 L903.8,919.2 L903.9,920.2 L903.9,921.2 L904.0,922.2 L904.0,923.2 L904.1,924.2 L904.2,925.2 L904.2,926.2 L904.3,927.2 L904.4,928.2 L904.4,929.2 L904.5,930.2 L904.6,931.2 L904.7,932.2 L904.8,933.2 L904.8,934.2 L904.9,935.2 L905.0,936.1 L905.1,937.1 L905.1,938.1 L905.2,939.1 L905.3,940.1 L905.4,941.1 L905.5,942.1 L905.6,943.1 L905.6,944.1 L905.7,945.1 L905.8,946.1 L905.9,947.1 L906.0,948.1 L906.0,949.1 L906.1,950.1 L906.2,951.1 L906.3,952.1 L906.4,953.1 L906.5,954.1 L906.6,955.1 L906.7,956.1 L906.8,957.1 L906.9,958.1 L907.0,959.0 L907.1,960.0 L907.2,961.0 L907.3,962.0 L907.5,963.0 L907.6,964.0 L907.7,965.0 L907.8,966.0 L907.9,967.0 L908.1,968.0 L908.2,969.0 L908.4,970.0 L908.5,970.9 L908.7,971.9 L908.9,972.9 L909.1,973.9 L909.3,974.9 L909.5,975.8 L909.7,976.8 L909.9,977.8 L910.1,978.8 L910.3,979.8 L910.6,980.7 L910.8,981.7 L911.0,982.7 L911.3,983.6 L911.6,984.6 L911.8,985.6 L912.1,986.5 L912.4,987.5 L912.7,988.4 L913.0,989.4 L913.3,990.3 L913.7,991.3 L914.0,992.2 L914.3,993.2 L914.7,994.1 L915.0,995.0 L915.3,996.0 L915.7,996.9 L916.0,997.8 L916.4,998.7 L916.9,999.6 L917.4,1000.5 L917.9,1001.4 L918.6,1002.3 M1027.5,783.3 L1027.5,784.3 L1027.5,785.3 L1027.5,786.3 L1027.5,787.3 L1027.5,788.3 L1027.5,789.3 L1027.6,790.3 L1027.6,791.3 L1027.6,792.3 L1027.6,793.3 L1027.6,794.3 L1027.6,795.3 L1027.6,796.3 L1027.6,797.3 L1027.6,798.3 L1027.6,799.3 L1027.6,800.3 L1027.7,801.3 L1027.7,802.3 L1027.7,803.3 L1027.7,804.3 L1027.7,805.3 L1027.7,806.3 L1027.7,807.3 L1027.7,808.3 L1027.7,809.3 L1027.8,810.3 L1027.8,811.3 L1027.8,812.3 L1027.8,813.3 L1027.8,814.3 L1027.8,815.3 L1027.8,816.3 L1027.8,817.3 L1027.9,818.3 L1027.9,819.3 L1027.9,820.3 L1027.9,821.3 L1027.9,822.3 L1027.9,823.3 L1027.9,824.3 L1028.0,825.3 L1028.0,826.3 L1028.0,827.3 L1028.0,828.3 L1028.0,829.3 L1028.0,830.3 L1028.0,831.3 L1028.1,832.3 L1028.1,833.3 L1028.1,834.3 L1028.1,835.3 L1028.1,836.3 L1028.1,837.3 L1028.2,838.3 L1028.2,839.3 L1028.2,840.3 L1028.2,841.3 L1028.2,842.3 L1028.2,843.3 L1028.2,844.3 L1028.3,845.3 L1028.3,846.3 L1028.3,847.3 L1028.3,848.3 L1028.3,849.3 L1028.3,850.3 L1028.4,851.3 L1028.4,852.3 L1028.4,853.3 L1028.4,854.3 L1028.4,855.3 L1028.4,856.3 L1028.5,857.3 L1028.5,858.3 L1028.5,859.3 L1028.5,860.3 L1028.5,861.3 L1028.5,862.3 L1028.6,863.3 L1028.6,864.3 L1028.6,865.3 L1028.6,866.3 L1028.6,867.3 L1028.6,868.3 L1028.7,869.3 L1028.7,870.3 L1028.7,871.3 L1028.7,872.3 L1028.7,873.3 L1028.8,874.3 L1028.8,875.3 L1028.8,876.3 L1028.8,877.2 L1028.8,878.2 L1028.9,879.2 L1028.9,880.2 L1028.9,881.2 L1028.9,882.2 L1029.0,883.2 L1029.0,884.2 L1029.0,885.2 L1029.0,886.2 L1029.1,887.2 L1029.1,888.2 L1029.1,889.2 L1029.2,890.2 L1029.2,891.2 L1029.2,892.2 L1029.2,893.2 L1029.3,894.2 L1029.3,895.2 L1029.4,896.2 L1029.4,897.2 L1029.4,898.2 L1029.5,899.2 L1029.5,900.2 L1029.5,901.2 L1029.6,902.2 L1029.6,903.2 L1029.7,904.2 L1029.7,905.2 L1029.8,906.2 L1029.8,907.2 L1029.9,908.2 L1029.9,909.2 L1030.0,910.2 L1030.1,911.2 L1030.1,912.2 L1030.2,913.2 L1030.2,914.2 L1030.3,915.2 L1030.4,916.2 L1030.4,917.2 L1030.5,918.2 L1030.6,919.2 L1030.7,920.2 L1030.7,921.2 L1030.8,922.2 L1030.9,923.2 L1030.9,924.2 L1031.0,925.2 L1031.1,926.2 L1031.1,927.2 L1031.2,928.2 L1031.3,929.2 L1031.3,930.2 L1031.4,931.2 L1031.5,932.2 L1031.5,933.2 L1031.6,934.2 L1031.7,935.1 L1031.7,936.1 L1031.8,937.1 L1031.9,938.1 L1032.0,939.1 L1032.0,940.1 L1032.1,941.1 L1032.2,942.1 L1032.3,943.1 L1032.3,944.1 L1032.4,945.1 L1032.5,946.1 L1032.6,947.1 L1032.6,948.1 L1032.7,949.1 L1032.8,950.1 L1032.9,951.1 L1033.0,952.1 L1033.1,953.1 L1033.2,954.1 L1033.3,955.1 L1033.3,956.1 L1033.4,957.1 L1033.5,958.1 L1033.7,959.1 L1033.8,960.0 L1033.9,961.0 L1034.1,962.0 L1034.2,963.0 L1034.4,964.0 L1034.6,965.0 L1034.8,966.0 L1034.9,966.9 L1035.1,967.9 L1035.3,968.9 L1035.5,969.9 L1035.7,970.9 L1035.9,971.9 L1036.1,972.8 L1036.3,973.8 L1036.5,974.8 L1036.7,975.8 L1036.9,976.8 L1037.1,977.7 L1037.3,978.7 L1037.6,979.7 L1037.8,980.6 L1038.0,981.6 L1038.3,982.6 L1038.5,983.6 L1038.8,984.5 L1039.0,985.5 L1039.3,986.5 L1039.5,987.4 L1039.8,988.4 L1040.1,989.3 L1040.4,990.3 L1040.7,991.2 L1041.0,992.2 L1041.4,993.1 L1041.9,994.0 L1042.3,995.0" fill="none" stroke="#000" stroke-width="4.6" stroke-linecap="round" stroke-dasharray="0 2.9"/>
<path d="M1140.7,902.5 L1141.4,757.3 M1243.6,888.2 L1244.3,729.3 M1337.4,873.6 L1337.5,700.5 M1422.4,858.4 L1422.5,669.3 M1499.4,840.2 L1499.5,631.4 M1569.9,818.2 L1570.4,583.0 M1634.8,788.0 L1635.4,515.3 M1694.8,748.8 L1695.1,446.5" fill="none" stroke="#000" stroke-width="4.6" stroke-linecap="round" stroke-dasharray="0 17.0"/>
<path d="M1141.4,757.3 L1141.4,758.3 L1141.4,759.3 L1141.4,760.3 L1141.4,761.3 L1141.4,762.3 L1141.3,763.3 L1141.3,764.3 L1141.3,765.3 L1141.3,766.3 L1141.3,767.3 L1141.3,768.3 L1141.3,769.3 L1141.3,770.3 L1141.3,771.3 L1141.3,772.3 L1141.3,773.3 L1141.3,774.3 L1141.3,775.3 L1141.3,776.3 L1141.3,777.3 L1141.3,778.3 L1141.3,779.3 L1141.3,780.3 L1141.3,781.3 L1141.2,782.3 L1141.2,783.3 L1141.2,784.3 L1141.2,785.3 L1141.2,786.3 L1141.2,787.3 L1141.2,788.3 L1141.2,789.3 L1141.2,790.3 L1141.2,791.3 L1141.2,792.3 L1141.2,793.3 L1141.2,794.3 L1141.2,795.3 L1141.2,796.3 L1141.2,797.3 L1141.2,798.3 L1141.2,799.3 L1141.3,800.3 L1141.3,801.3 L1141.3,802.3 L1141.3,803.3 L1141.3,804.3 L1141.3,805.3 L1141.3,806.3 L1141.3,807.3 L1141.3,808.3 L1141.3,809.3 L1141.3,810.3 L1141.3,811.3 L1141.3,812.3 L1141.3,813.3 L1141.3,814.3 L1141.3,815.3 L1141.3,816.3 L1141.3,817.3 L1141.3,818.3 L1141.3,819.3 L1141.3,820.3 L1141.3,821.3 L1141.4,822.3 L1141.4,823.3 L1141.4,824.3 L1141.4,825.3 L1141.4,826.3 L1141.4,827.3 L1141.4,828.3 L1141.4,829.3 L1141.4,830.3 L1141.4,831.3 L1141.4,832.3 L1141.4,833.3 L1141.4,834.3 L1141.5,835.3 L1141.5,836.3 L1141.5,837.3 L1141.5,838.3 L1141.5,839.3 L1141.5,840.3 L1141.5,841.3 L1141.5,842.3 L1141.5,843.3 L1141.5,844.3 L1141.6,845.3 L1141.6,846.3 L1141.6,847.3 L1141.6,848.3 L1141.6,849.3 L1141.6,850.3 L1141.6,851.3 L1141.6,852.3 L1141.7,853.3 L1141.7,854.3 L1141.7,855.3 L1141.7,856.3 L1141.7,857.3 L1141.8,858.3 L1141.8,859.3 L1141.8,860.3 L1141.8,861.3 L1141.8,862.3 L1141.9,863.3 L1141.9,864.3 L1141.9,865.3 L1141.9,866.3 L1142.0,867.3 L1142.0,868.3 L1142.0,869.3 L1142.1,870.3 L1142.1,871.3 L1142.1,872.3 L1142.2,873.3 L1142.2,874.3 L1142.2,875.3 L1142.3,876.3 L1142.3,877.3 L1142.4,878.3 L1142.4,879.3 L1142.4,880.3 L1142.5,881.3 L1142.5,882.3 L1142.6,883.3 L1142.6,884.3 L1142.7,885.3 L1142.7,886.3 L1142.8,887.3 L1142.8,888.3 L1142.9,889.3 L1143.0,890.3 L1143.0,891.3 L1143.1,892.3 L1143.1,893.3 L1143.2,894.2 L1143.3,895.2 L1143.3,896.2 L1143.4,897.2 L1143.5,898.2 L1143.5,899.2 L1143.6,900.2 L1143.7,901.2 L1143.7,902.2 L1143.8,903.2 L1143.9,904.2 L1144.0,905.2 L1144.0,906.2 L1144.1,907.2 L1144.2,908.2 L1144.2,909.2 L1144.3,910.2 L1144.4,911.2 L1144.5,912.2 L1144.5,913.2 L1144.6,914.2 L1144.7,915.2 L1144.7,916.2 L1144.8,917.2 L1144.9,918.2 L1145.0,919.2 L1145.0,920.2 L1145.1,921.2 L1145.2,922.2 L1145.3,923.2 L1145.3,924.2 L1145.4,925.2 L1145.5,926.2 L1145.6,927.2 L1145.6,928.2 L1145.7,929.2 L1145.8,930.1 L1145.9,931.1 L1146.0,932.1 L1146.1,933.1 L1146.1,934.1 L1146.2,935.1 L1146.3,936.1 L1146.4,937.1 L1146.5,938.1 L1146.6,939.1 L1146.7,940.1 L1146.8,941.1 L1146.9,942.1 L1146.9,943.1 L1147.0,944.1 L1147.1,945.1 L1147.2,946.1 L1147.3,947.1 L1147.4,948.1 L1147.6,949.1 L1147.7,950.1 L1147.8,951.1 L1147.9,952.0 L1148.1,953.0 L1148.2,954.0 L1148.3,955.0 L1148.5,956.0 L1148.6,957.0 L1148.8,958.0 L1149.0,959.0 L1149.1,959.9 L1149.3,960.9 L1149.5,961.9 L1149.6,962.9 L1149.8,963.9 L1150.0,964.9 L1150.2,965.9 L1150.3,966.8 L1150.5,967.8 L1150.7,968.8 L1150.9,969.8 L1151.1,970.8 L1151.2,971.8 L1151.4,972.7 L1151.6,973.7 L1151.8,974.7 L1152.0,975.7 L1152.2,976.7 L1152.4,977.6 L1152.7,978.6 L1152.9,979.6 L1153.1,980.6 L1153.4,981.6 L1153.6,982.7 L1153.9,983.8 L1154.1,984.9 L1154.4,986.0 L1154.6,987.0 L1154.9,987.9 M1244.3,729.3 L1244.3,730.3 L1244.3,731.3 L1244.3,732.3 L1244.3,733.3 L1244.3,734.3 L1244.3,735.3 L1244.2,736.3 L1244.2,737.3 L1244.2,738.3 L1244.2,739.3 L1244.2,740.3 L1244.2,741.3 L1244.2,742.3 L1244.2,743.3 L1244.2,744.3 L1244.2,745.3 L1244.2,746.3 L1244.2,747.3 L1244.2,748.3 L1244.2,749.3 L1244.2,750.3 L1244.2,751.3 L1244.2,752.3 L1244.2,753.3 L1244.2,754.3 L1244.2,755.3 L1244.2,756.3 L1244.2,757.3 L1244.2,758.3 L1244.2,759.3 L1244.2,760.3 L1244.2,761.3 L1244.2,762.3 L1244.2,763.3 L1244.2,764.3 L1244.2,765.3 L1244.2,766.3 L1244.2,767.3 L1244.2,768.3 L1244.2,769.3 L1244.2,770.3 L1244.2,771.3 L1244.2,772.3 L1244.2,773.3 L1244.2,774.3 L1244.2,775.3 L1244.2,776.3 L1244.2,777.3 L1244.2,778.3 L1244.2,779.3 L1244.2,780.3 L1244.2,781.3 L1244.2,782.3 L1244.2,783.3 L1244.2,784.3 L1244.2,785.3 L1244.2,786.3 L1244.2,787.3 L1244.2,788.3 L1244.2,789.3 L1244.2,790.3 L1244.2,791.3 L1244.2,792.3 L1244.2,793.3 L1244.3,794.3 L1244.3,795.3 L1244.3,796.3 L1244.3,797.3 L1244.3,798.3 L1244.3,799.3 L1244.3,800.3 L1244.3,801.3 L1244.3,802.3 L1244.3,803.3 L1244.3,804.3 L1244.3,805.3 L1244.3,806.3 L1244.3,807.3 L1244.3,808.3 L1244.3,809.2 L1244.4,810.2 L1244.4,811.2 L1244.4,812.2 L1244.4,813.2 L1244.4,814.2 L1244.4,815.2 L1244.4,816.2 L1244.4,817.2 L1244.4,818.2 L1244.4,819.2 L1244.4,820.2 L1244.4,821.2 L1244.4,822.2 L1244.4,823.2 L1244.5,824.2 L1244.5,825.2 L1244.5,826.2 L1244.5,827.2 L1244.5,828.2 L1244.5,829.2 L1244.5,830.2 L1244.5,831.2 L1244.5,832.2 L1244.5,833.2 L1244.5,834.2 L1244.5,835.2 L1244.5,836.2 L1244.5,837.2 L1244.6,838.2 L1244.6,839.2 L1244.6,840.2 L1244.6,841.2 L1244.6,842.2 L1244.6,843.2 L1244.6,844.2 L1244.6,845.2 L1244.6,846.2 L1244.6,847.2 L1244.6,848.2 L1244.6,849.2 L1244.6,850.2 L1244.7,851.2 L1244.7,852.2 L1244.7,853.2 L1244.7,854.2 L1244.7,855.2 L1244.7,856.2 L1244.8,857.2 L1244.8,858.2 L1244.8,859.2 L1244.8,860.2 L1244.9,861.2 L1244.9,862.2 L1244.9,863.2 L1244.9,864.2 L1245.0,865.2 L1245.0,866.2 L1245.1,867.2 L1245.1,868.2 L1245.1,869.2 L1245.2,870.2 L1245.2,871.2 L1245.3,872.2 L1245.3,873.2 L1245.4,874.2 L1245.5,875.2 L1245.5,876.2 L1245.6,877.2 L1245.6,878.2 L1245.7,879.2 L1245.8,880.2 L1245.9,881.2 L1245.9,882.2 L1246.0,883.2 L1246.1,884.2 L1246.1,885.2 L1246.2,886.2 L1246.3,887.2 L1246.4,888.2 L1246.5,889.2 L1246.5,890.2 L1246.6,891.1 L1246.7,892.1 L1246.8,893.1 L1246.8,894.1 L1246.9,895.1 L1247.0,896.1 L1247.1,897.1 L1247.2,898.1 L1247.2,899.1 L1247.3,900.1 L1247.4,901.1 L1247.5,902.1 L1247.5,903.1 L1247.6,904.1 L1247.7,905.1 L1247.8,906.1 L1247.9,907.1 L1247.9,908.1 L1248.0,909.1 L1248.1,910.1 L1248.2,911.1 L1248.3,912.1 L1248.3,913.1 L1248.4,914.1 L1248.5,915.1 L1248.6,916.1 L1248.7,917.1 L1248.7,918.0 L1248.8,919.0 L1248.9,920.0 L1249.0,921.0 L1249.0,922.0 L1249.1,923.0 L1249.2,924.0 L1249.3,925.0 L1249.4,926.0 L1249.4,927.0 L1249.5,928.0 L1249.6,929.0 L1249.7,930.0 L1249.8,931.0 L1249.9,932.0 L1249.9,933.0 L1250.0,934.0 L1250.1,935.0 L1250.2,936.0 L1250.3,937.0 L1250.4,938.0 L1250.5,939.0 L1250.5,940.0 L1250.6,941.0 L1250.7,941.9 L1250.8,942.9 L1250.9,943.9 L1251.0,944.9 L1251.1,945.9 L1251.2,946.9 L1251.3,947.9 L1251.4,948.9 L1251.6,949.9 L1251.7,950.9 L1251.8,951.9 L1251.9,952.9 L1252.0,953.9 L1252.1,954.9 L1252.2,955.9 L1252.3,956.9 L1252.4,957.9 L1252.5,958.8 L1252.6,959.8 L1252.7,960.8 L1252.8,961.8 L1252.9,962.8 L1253.1,963.8 L1253.2,964.8 L1253.3,965.8 L1253.4,966.8 L1253.6,967.8 L1253.7,968.7 L1253.9,969.7 L1254.0,970.7 L1254.2,971.7 L1254.4,972.7 L1254.5,973.7 L1254.7,974.7 L1255.0,975.8 L1255.2,976.9 L1255.5,978.0 L1255.8,979.1 M1337.5,700.5 L1337.5,701.5 L1337.5,702.5 L1337.5,703.5 L1337.5,704.5 L1337.5,705.5 L1337.5,706.5 L1337.5,707.5 L1337.5,708.5 L1337.5,709.5 L1337.5,710.5 L1337.5,711.5 L1337.6,712.5 L1337.6,713.5 L1337.6,714.5 L1337.6,715.5 L1337.6,716.5 L1337.6,717.5 L1337.6,718.5 L1337.6,719.5 L1337.6,720.5 L1337.6,721.5 L1337.6,722.5 L1337.6,723.5 L1337.6,724.5 L1337.6,725.5 L1337.6,726.5 L1337.6,727.5 L1337.7,728.5 L1337.7,729.5 L1337.7,730.5 L1337.7,731.5 L1337.7,732.5 L1337.7,733.5 L1337.7,734.5 L1337.7,735.5 L1337.7,736.5 L1337.7,737.5 L1337.7,738.5 L1337.7,739.5 L1337.7,740.5 L1337.8,741.5 L1337.8,742.5 L1337.8,743.5 L1337.8,744.5 L1337.8,745.5 L1337.8,746.5 L1337.8,747.5 L1337.8,748.5 L1337.8,749.5 L1337.8,750.5 L1337.8,751.5 L1337.9,752.5 L1337.9,753.5 L1337.9,754.5 L1337.9,755.5 L1337.9,756.5 L1337.9,757.5 L1337.9,758.5 L1337.9,759.5 L1337.9,760.5 L1337.9,761.5 L1338.0,762.5 L1338.0,763.5 L1338.0,764.5 L1338.0,765.5 L1338.0,766.5 L1338.0,767.5 L1338.0,768.5 L1338.0,769.5 L1338.0,770.5 L1338.0,771.5 L1338.1,772.5 L1338.1,773.5 L1338.1,774.5 L1338.1,775.5 L1338.1,776.5 L1338.1,777.5 L1338.1,778.5 L1338.1,779.5 L1338.1,780.5 L1338.2,781.5 L1338.2,782.5 L1338.2,783.5 L1338.2,784.5 L1338.2,785.5 L1338.2,786.5 L1338.2,787.5 L1338.2,788.5 L1338.2,789.5 L1338.3,790.5 L1338.3,791.5 L1338.3,792.5 L1338.3,793.5 L1338.3,794.5 L1338.3,795.5 L1338.3,796.5 L1338.3,797.5 L1338.3,798.5 L1338.4,799.5 L1338.4,800.5 L1338.4,801.5 L1338.4,802.5 L1338.4,803.5 L1338.4,804.5 L1338.4,805.5 L1338.4,806.5 L1338.5,807.5 L1338.5,808.5 L1338.5,809.5 L1338.5,810.5 L1338.5,811.5 L1338.5,812.5 L1338.5,813.5 L1338.5,814.5 L1338.5,815.5 L1338.6,816.5 L1338.6,817.5 L1338.6,818.5 L1338.6,819.5 L1338.6,820.5 L1338.6,821.5 L1338.6,822.5 L1338.6,823.5 L1338.7,824.5 L1338.7,825.5 L1338.7,826.5 L1338.7,827.5 L1338.7,828.5 L1338.7,829.5 L1338.7,830.5 L1338.7,831.5 L1338.7,832.5 L1338.8,833.5 L1338.8,834.5 L1338.8,835.5 L1338.8,836.5 L1338.8,837.5 L1338.8,838.5 L1338.8,839.5 L1338.8,840.5 L1338.9,841.5 L1338.9,842.5 L1338.9,843.5 L1338.9,844.5 L1338.9,845.5 L1338.9,846.5 L1339.0,847.5 L1339.0,848.5 L1339.0,849.5 L1339.0,850.5 L1339.0,851.5 L1339.0,852.5 L1339.1,853.5 L1339.1,854.5 L1339.1,855.5 L1339.1,856.5 L1339.2,857.5 L1339.2,858.5 L1339.2,859.5 L1339.2,860.5 L1339.3,861.5 L1339.3,862.5 L1339.3,863.5 L1339.3,864.5 L1339.4,865.5 L1339.4,866.5 L1339.4,867.5 L1339.5,868.5 L1339.5,869.5 L1339.5,870.5 L1339.6,871.5 L1339.6,872.5 L1339.6,873.5 L1339.7,874.5 L1339.7,875.5 L1339.8,876.5 L1339.8,877.5 L1339.8,878.5 L1339.9,879.5 L1339.9,880.5 L1340.0,881.5 L1340.0,882.5 L1340.1,883.4 L1340.2,884.4 L1340.2,885.4 L1340.3,886.4 L1340.3,887.4 L1340.4,888.4 L1340.5,889.4 L1340.5,890.4 L1340.6,891.4 L1340.7,892.4 L1340.7,893.4 L1340.8,894.4 L1340.9,895.4 L1340.9,896.4 L1341.0,897.4 L1341.1,898.4 L1341.2,899.4 L1341.2,900.4 L1341.3,901.4 L1341.4,902.4 L1341.5,903.4 L1341.6,904.4 L1341.6,905.4 L1341.7,906.4 L1341.8,907.4 L1341.9,908.4 L1341.9,909.4 L1342.0,910.4 L1342.1,911.4 L1342.2,912.4 L1342.3,913.4 L1342.3,914.4 L1342.4,915.4 L1342.5,916.4 L1342.6,917.4 L1342.7,918.3 L1342.7,919.3 L1342.8,920.3 L1342.9,921.3 L1343.0,922.3 L1343.1,923.3 L1343.1,924.3 L1343.2,925.3 L1343.3,926.3 L1343.4,927.3 L1343.5,928.3 L1343.5,929.3 L1343.6,930.3 L1343.7,931.3 L1343.8,932.3 L1343.9,933.3 L1343.9,934.3 L1344.0,935.3 L1344.1,936.3 L1344.2,937.3 L1344.3,938.3 L1344.3,939.3 L1344.4,940.3 L1344.5,941.3 L1344.6,942.3 L1344.7,943.3 L1344.7,944.3 L1344.8,945.3 L1344.9,946.3 L1345.0,947.2 L1345.1,948.2 L1345.1,949.2 L1345.2,950.2 L1345.3,951.2 L1345.4,952.2 L1345.5,953.2 L1345.6,954.2 L1345.6,955.2 L1345.7,956.2 L1345.8,957.2 L1345.9,958.2 L1346.0,959.2 L1346.1,960.2 L1346.2,961.2 L1346.3,962.2 L1346.4,963.2 L1346.5,964.2 L1346.6,965.2 L1346.8,966.3 L1347.0,967.5 L1347.2,968.7 L1347.5,969.8 L1347.8,970.8 M1422.5,669.3 L1422.5,670.3 L1422.5,671.3 L1422.5,672.3 L1422.5,673.3 L1422.5,674.3 L1422.5,675.3 L1422.5,676.3 L1422.5,677.3 L1422.5,678.3 L1422.6,679.3 L1422.6,680.3 L1422.6,681.3 L1422.6,682.3 L1422.6,683.3 L1422.6,684.3 L1422.6,685.3 L1422.6,686.3 L1422.6,687.3 L1422.6,688.3 L1422.6,689.3 L1422.6,690.3 L1422.6,691.3 L1422.6,692.3 L1422.6,693.3 L1422.7,694.3 L1422.7,695.3 L1422.7,696.3 L1422.7,697.3 L1422.7,698.3 L1422.7,699.3 L1422.7,700.3 L1422.7,701.3 L1422.7,702.3 L1422.7,703.3 L1422.7,704.3 L1422.7,705.3 L1422.7,706.3 L1422.8,707.3 L1422.8,708.3 L1422.8,709.3 L1422.8,710.3 L1422.8,711.3 L1422.8,712.3 L1422.8,713.3 L1422.8,714.3 L1422.8,715.3 L1422.8,716.3 L1422.8,717.3 L1422.9,718.3 L1422.9,719.3 L1422.9,720.3 L1422.9,721.3 L1422.9,722.3 L1422.9,723.3 L1422.9,724.3 L1422.9,725.3 L1422.9,726.3 L1422.9,727.3 L1422.9,728.3 L1423.0,729.3 L1423.0,730.3 L1423.0,731.3 L1423.0,732.3 L1423.0,733.3 L1423.0,734.3 L1423.0,735.3 L1423.0,736.3 L1423.0,737.3 L1423.1,738.3 L1423.1,739.3 L1423.1,740.3 L1423.1,741.3 L1423.1,742.3 L1423.1,743.3 L1423.1,744.3 L1423.1,745.3 L1423.1,746.3 L1423.1,747.3 L1423.2,748.3 L1423.2,749.3 L1423.2,750.3 L1423.2,751.3 L1423.2,752.3 L1423.2,753.3 L1423.2,754.3 L1423.2,755.3 L1423.2,756.3 L1423.3,757.3 L1423.3,758.3 L1423.3,759.3 L1423.3,760.3 L1423.3,761.3 L1423.3,762.2 L1423.3,763.2 L1423.3,764.2 L1423.3,765.2 L1423.3,766.2 L1423.4,767.2 L1423.4,768.2 L1423.4,769.2 L1423.4,770.2 L1423.4,771.2 L1423.4,772.2 L1423.4,773.2 L1423.4,774.2 L1423.4,775.2 L1423.5,776.2 L1423.5,777.2 L1423.5,778.2 L1423.5,779.2 L1423.5,780.2 L1423.5,781.2 L1423.5,782.2 L1423.5,783.2 L1423.5,784.2 L1423.6,785.2 L1423.6,786.2 L1423.6,787.2 L1423.6,788.2 L1423.6,789.2 L1423.6,790.2 L1423.6,791.2 L1423.6,792.2 L1423.6,793.2 L1423.7,794.2 L1423.7,795.2 L1423.7,796.2 L1423.7,797.2 L1423.7,798.2 L1423.7,799.2 L1423.7,800.2 L1423.7,801.2 L1423.8,802.2 L1423.8,803.2 L1423.8,804.2 L1423.8,805.2 L1423.8,806.2 L1423.8,807.2 L1423.8,808.2 L1423.9,809.2 L1423.9,810.2 L1423.9,811.2 L1423.9,812.2 L1423.9,813.2 L1423.9,814.2 L1424.0,815.2 L1424.0,816.2 L1424.0,817.2 L1424.0,818.2 L1424.0,819.2 L1424.1,820.2 L1424.1,821.2 L1424.1,822.2 L1424.1,823.2 L1424.1,824.2 L1424.2,825.2 L1424.2,826.2 L1424.2,827.2 L1424.2,828.2 L1424.2,829.2 L1424.3,830.2 L1424.3,831.2 L1424.3,832.2 L1424.3,833.2 L1424.4,834.2 L1424.4,835.2 L1424.4,836.2 L1424.4,837.2 L1424.5,838.2 L1424.5,839.2 L1424.5,840.2 L1424.6,841.2 L1424.6,842.2 L1424.6,843.2 L1424.7,844.2 L1424.7,845.2 L1424.7,846.2 L1424.8,847.2 L1424.8,848.2 L1424.8,849.2 L1424.9,850.2 L1424.9,851.2 L1425.0,852.2 L1425.0,853.2 L1425.1,854.2 L1425.1,855.2 L1425.1,856.2 L1425.2,857.2 L1425.2,858.2 L1425.3,859.2 L1425.3,860.2 L1425.4,861.2 L1425.4,862.2 L1425.5,863.2 L1425.5,864.2 L1425.6,865.2 L1425.7,866.2 L1425.7,867.2 L1425.8,868.2 L1425.8,869.2 L1425.9,870.2 L1425.9,871.2 L1426.0,872.2 L1426.0,873.1 L1426.1,874.1 L1426.1,875.1 L1426.2,876.1 L1426.3,877.1 L1426.3,878.1 L1426.4,879.1 L1426.4,880.1 L1426.5,881.1 L1426.5,882.1 L1426.6,883.1 L1426.6,884.1 L1426.7,885.1 L1426.8,886.1 L1426.8,887.1 L1426.9,888.1 L1426.9,889.1 L1427.0,890.1 L1427.0,891.1 L1427.1,892.1 L1427.2,893.1 L1427.2,894.1 L1427.3,895.1 L1427.3,896.1 L1427.4,897.1 L1427.5,898.1 L1427.5,899.1 L1427.6,900.1 L1427.6,901.1 L1427.7,902.1 L1427.8,903.1 L1427.8,904.1 L1427.9,905.1 L1427.9,906.1 L1428.0,907.1 L1428.1,908.1 L1428.1,909.1 L1428.2,910.1 L1428.3,911.1 L1428.3,912.1 L1428.4,913.1 L1428.5,914.1 L1428.5,915.1 L1428.6,916.1 L1428.7,917.0 L1428.7,918.0 L1428.8,919.0 L1428.9,920.0 L1428.9,921.0 L1429.0,922.0 L1429.1,923.0 L1429.2,924.0 L1429.2,925.0 L1429.3,926.0 L1429.4,927.0 L1429.5,928.0 L1429.5,929.0 L1429.6,930.0 L1429.7,931.0 L1429.8,932.0 L1429.8,933.0 L1429.9,934.0 L1430.0,935.0 L1430.1,936.0 L1430.1,937.0 L1430.2,938.0 L1430.3,939.0 L1430.4,940.0 L1430.5,941.0 L1430.5,942.0 L1430.6,943.0 L1430.7,944.0 L1430.8,945.1 L1430.9,946.1 L1430.9,947.2 L1431.0,948.3 L1431.1,949.3 L1431.2,950.4 L1431.3,951.5 L1431.4,952.5 L1431.5,953.5 L1431.6,954.5 L1431.7,955.5 L1431.8,956.5 L1431.9,957.4 L1432.0,958.3 L1432.1,959.1 M1499.5,631.4 L1499.5,632.4 L1499.5,633.4 L1499.5,634.4 L1499.5,635.4 L1499.5,636.4 L1499.5,637.4 L1499.6,638.4 L1499.6,639.4 L1499.6,640.4 L1499.6,641.4 L1499.6,642.4 L1499.6,643.4 L1499.6,644.4 L1499.6,645.4 L1499.6,646.4 L1499.6,647.4 L1499.6,648.4 L1499.6,649.4 L1499.7,650.4 L1499.7,651.4 L1499.7,652.4 L1499.7,653.4 L1499.7,654.4 L1499.7,655.4 L1499.7,656.4 L1499.7,657.4 L1499.7,658.4 L1499.7,659.4 L1499.7,660.4 L1499.7,661.4 L1499.8,662.4 L1499.8,663.4 L1499.8,664.4 L1499.8,665.4 L1499.8,666.4 L1499.8,667.4 L1499.8,668.4 L1499.8,669.4 L1499.8,670.4 L1499.8,671.4 L1499.9,672.4 L1499.9,673.4 L1499.9,674.4 L1499.9,675.4 L1499.9,676.4 L1499.9,677.4 L1499.9,678.4 L1499.9,679.4 L1499.9,680.3 L1499.9,681.3 L1500.0,682.3 L1500.0,683.3 L1500.0,684.3 L1500.0,685.3 L1500.0,686.3 L1500.0,687.3 L1500.0,688.3 L1500.0,689.3 L1500.0,690.3 L1500.0,691.3 L1500.1,692.3 L1500.1,693.3 L1500.1,694.3 L1500.1,695.3 L1500.1,696.3 L1500.1,697.3 L1500.1,698.3 L1500.1,699.3 L1500.1,700.3 L1500.2,701.3 L1500.2,702.3 L1500.2,703.3 L1500.2,704.3 L1500.2,705.3 L1500.2,706.3 L1500.2,707.3 L1500.2,708.3 L1500.2,709.3 L1500.2,710.3 L1500.3,711.3 L1500.3,712.3 L1500.3,713.3 L1500.3,714.3 L1500.3,715.3 L1500.3,716.3 L1500.3,717.3 L1500.3,718.3 L1500.3,719.3 L1500.4,720.3 L1500.4,721.3 L1500.4,722.3 L1500.4,723.3 L1500.4,724.3 L1500.4,725.3 L1500.4,726.3 L1500.4,727.3 L1500.4,728.3 L1500.5,729.3 L1500.5,730.3 L1500.5,731.3 L1500.5,732.3 L1500.5,733.3 L1500.5,734.3 L1500.5,735.3 L1500.5,736.3 L1500.5,737.3 L1500.6,738.3 L1500.6,739.3 L1500.6,740.3 L1500.6,741.3 L1500.6,742.3 L1500.6,743.3 L1500.6,744.3 L1500.6,745.3 L1500.6,746.3 L1500.7,747.3 L1500.7,748.3 L1500.7,749.3 L1500.7,750.3 L1500.7,751.3 L1500.7,752.3 L1500.7,753.3 L1500.7,754.3 L1500.7,755.3 L1500.8,756.3 L1500.8,757.3 L1500.8,758.3 L1500.8,759.3 L1500.8,760.3 L1500.8,761.3 L1500.8,762.3 L1500.8,763.3 L1500.8,764.3 L1500.9,765.3 L1500.9,766.3 L1500.9,767.3 L1500.9,768.3 L1500.9,769.3 L1500.9,770.3 L1500.9,771.3 L1500.9,772.3 L1500.9,773.3 L1500.9,774.2 L1500.9,775.2 L1501.0,776.2 L1501.0,777.2 L1501.0,778.2 L1501.0,779.2 L1501.0,780.2 L1501.0,781.2 L1501.0,782.2 L1501.0,783.2 L1501.0,784.2 L1501.0,785.2 L1501.0,786.2 L1501.0,787.2 L1501.0,788.2 L1501.1,789.2 L1501.1,790.2 L1501.1,791.2 L1501.1,792.2 L1501.1,793.2 L1501.1,794.2 L1501.1,795.2 L1501.1,796.2 L1501.1,797.2 L1501.1,798.2 L1501.2,799.2 L1501.2,800.2 L1501.2,801.2 L1501.2,802.2 L1501.2,803.2 L1501.2,804.2 L1501.2,805.2 L1501.2,806.2 L1501.3,807.2 L1501.3,808.2 L1501.3,809.2 L1501.3,810.2 L1501.3,811.2 L1501.3,812.2 L1501.3,813.2 L1501.4,814.2 L1501.4,815.2 L1501.4,816.2 L1501.4,817.2 L1501.4,818.2 L1501.5,819.2 L1501.5,820.2 L1501.5,821.2 L1501.5,822.2 L1501.5,823.2 L1501.6,824.2 L1501.6,825.2 L1501.6,826.2 L1501.6,827.2 L1501.7,828.2 L1501.7,829.2 L1501.7,830.2 L1501.7,831.2 L1501.8,832.2 L1501.8,833.2 L1501.8,834.2 L1501.9,835.2 L1501.9,836.2 L1501.9,837.2 L1501.9,838.2 L1502.0,839.2 L1502.0,840.2 L1502.1,841.2 L1502.1,842.2 L1502.1,843.2 L1502.2,844.2 L1502.2,845.2 L1502.2,846.2 L1502.3,847.2 L1502.3,848.2 L1502.4,849.2 L1502.4,850.2 L1502.5,851.2 L1502.5,852.2 L1502.6,853.2 L1502.6,854.1 L1502.6,855.1 L1502.7,856.1 L1502.7,857.1 L1502.8,858.1 L1502.8,859.1 L1502.9,860.1 L1502.9,861.1 L1503.0,862.1 L1503.0,863.1 L1503.1,864.1 L1503.1,865.1 L1503.2,866.1 L1503.2,867.1 L1503.3,868.1 L1503.3,869.1 L1503.4,870.1 L1503.5,871.1 L1503.5,872.1 L1503.6,873.1 L1503.6,874.1 L1503.7,875.1 L1503.7,876.1 L1503.8,877.1 L1503.8,878.1 L1503.9,879.1 L1503.9,880.1 L1504.0,881.1 L1504.0,882.1 L1504.1,883.1 L1504.1,884.1 L1504.2,885.1 L1504.2,886.1 L1504.3,887.1 L1504.3,888.1 L1504.4,889.1 L1504.4,890.1 L1504.5,891.1 L1504.5,892.1 L1504.6,893.1 L1504.6,894.1 L1504.7,895.1 L1504.7,896.1 L1504.8,897.1 L1504.8,898.0 L1504.9,899.0 L1504.9,900.0 L1505.0,901.0 L1505.0,902.0 L1505.1,903.0 L1505.1,904.0 L1505.2,905.0 L1505.2,906.0 L1505.3,907.0 L1505.3,908.0 L1505.4,909.0 L1505.4,910.0 L1505.5,911.0 L1505.5,912.0 L1505.6,913.0 L1505.6,914.0 L1505.7,915.0 L1505.7,916.0 L1505.8,917.0 L1505.8,918.0 L1505.9,919.0 L1506.0,920.0 L1506.0,921.0 L1506.1,922.0 L1506.1,923.0 L1506.2,924.0 L1506.2,925.0 L1506.3,926.0 L1506.4,927.0 L1506.4,928.0 L1506.5,929.0 L1506.5,930.0 L1506.6,931.0 L1506.7,932.0 L1506.7,933.0 L1506.8,934.0 L1506.8,935.0 L1506.9,936.0 L1507.0,936.9 L1507.0,937.9 L1507.1,938.9 L1507.2,939.9 L1507.3,941.0 L1507.3,942.0 L1507.4,943.1 L1507.5,944.2 L1507.7,945.4 L1507.8,946.5 L1507.9,947.6 L1508.1,948.5 M1570.4,583.0 L1570.4,584.0 L1570.4,585.0 L1570.4,586.0 L1570.4,587.0 L1570.4,588.0 L1570.4,589.0 L1570.4,590.0 L1570.4,591.0 L1570.4,592.0 L1570.4,593.0 L1570.4,594.0 L1570.4,595.0 L1570.4,596.0 L1570.4,597.0 L1570.4,598.0 L1570.4,599.0 L1570.4,600.0 L1570.4,601.0 L1570.4,602.0 L1570.4,603.0 L1570.4,604.0 L1570.4,605.0 L1570.4,606.0 L1570.4,607.0 L1570.4,608.0 L1570.4,609.0 L1570.4,610.0 L1570.4,611.0 L1570.4,612.0 L1570.4,613.0 L1570.4,614.0 L1570.4,615.0 L1570.4,616.0 L1570.4,617.0 L1570.4,618.0 L1570.4,619.0 L1570.4,620.0 L1570.4,621.0 L1570.4,622.0 L1570.4,623.0 L1570.4,624.0 L1570.4,625.0 L1570.4,626.0 L1570.4,627.0 L1570.4,628.0 L1570.4,629.0 L1570.4,630.0 L1570.4,631.0 L1570.4,632.0 L1570.4,633.0 L1570.4,634.0 L1570.4,635.0 L1570.4,636.0 L1570.4,637.0 L1570.4,638.0 L1570.4,639.0 L1570.4,640.0 L1570.4,641.0 L1570.4,642.0 L1570.4,643.0 L1570.4,644.0 L1570.4,645.0 L1570.4,646.0 L1570.5,647.0 L1570.5,648.0 L1570.5,649.0 L1570.5,650.0 L1570.5,651.0 L1570.5,652.0 L1570.5,653.0 L1570.5,654.0 L1570.5,655.0 L1570.5,656.0 L1570.5,657.0 L1570.5,658.0 L1570.5,659.0 L1570.5,660.0 L1570.5,661.0 L1570.5,662.0 L1570.5,663.0 L1570.5,664.0 L1570.5,665.0 L1570.5,666.0 L1570.5,667.0 L1570.5,668.0 L1570.5,669.0 L1570.6,670.0 L1570.6,671.0 L1570.6,672.0 L1570.6,673.0 L1570.6,674.0 L1570.6,675.0 L1570.6,676.0 L1570.6,677.0 L1570.6,678.0 L1570.6,679.0 L1570.6,680.0 L1570.6,681.0 L1570.6,682.0 L1570.6,683.0 L1570.6,684.0 L1570.6,685.0 L1570.6,686.0 L1570.6,687.0 L1570.7,688.0 L1570.7,689.0 L1570.7,690.0 L1570.7,691.0 L1570.7,692.0 L1570.7,693.0 L1570.7,694.0 L1570.7,695.0 L1570.7,696.0 L1570.7,697.0 L1570.7,698.0 L1570.7,699.0 L1570.7,700.0 L1570.7,701.0 L1570.8,702.0 L1570.8,703.0 L1570.8,704.0 L1570.8,705.0 L1570.8,706.0 L1570.8,707.0 L1570.8,708.0 L1570.8,709.0 L1570.8,710.0 L1570.8,711.0 L1570.8,712.0 L1570.8,713.0 L1570.8,714.0 L1570.9,715.0 L1570.9,716.0 L1570.9,717.0 L1570.9,717.9 L1570.9,718.9 L1570.9,719.9 L1570.9,720.9 L1570.9,721.9 L1570.9,722.9 L1570.9,723.9 L1570.9,724.9 L1571.0,725.9 L1571.0,726.9 L1571.0,727.9 L1571.0,728.9 L1571.0,729.9 L1571.0,730.9 L1571.0,731.9 L1571.0,732.9 L1571.0,733.9 L1571.0,734.9 L1571.1,735.9 L1571.1,736.9 L1571.1,737.9 L1571.1,738.9 L1571.1,739.9 L1571.1,740.9 L1571.1,741.9 L1571.1,742.9 L1571.1,743.9 L1571.2,744.9 L1571.2,745.9 L1571.2,746.9 L1571.2,747.9 L1571.2,748.9 L1571.2,749.9 L1571.2,750.9 L1571.2,751.9 L1571.3,752.9 L1571.3,753.9 L1571.3,754.9 L1571.3,755.9 L1571.3,756.9 L1571.3,757.9 L1571.3,758.9 L1571.4,759.9 L1571.4,760.9 L1571.4,761.9 L1571.4,762.9 L1571.4,763.9 L1571.4,764.9 L1571.5,765.9 L1571.5,766.9 L1571.5,767.9 L1571.5,768.9 L1571.5,769.9 L1571.5,770.9 L1571.6,771.9 L1571.6,772.9 L1571.6,773.9 L1571.6,774.9 L1571.6,775.9 L1571.7,776.9 L1571.7,777.9 L1571.7,778.9 L1571.7,779.9 L1571.7,780.9 L1571.8,781.9 L1571.8,782.9 L1571.8,783.9 L1571.8,784.9 L1571.9,785.9 L1571.9,786.9 L1571.9,787.9 L1571.9,788.9 L1572.0,789.9 L1572.0,790.9 L1572.0,791.9 L1572.0,792.9 L1572.1,793.9 L1572.1,794.9 L1572.1,795.9 L1572.1,796.9 L1572.2,797.9 L1572.2,798.9 L1572.2,799.9 L1572.2,800.9 L1572.3,801.9 L1572.3,802.9 L1572.3,803.9 L1572.3,804.9 L1572.4,805.9 L1572.4,806.9 L1572.4,807.9 L1572.5,808.9 L1572.5,809.9 L1572.5,810.9 L1572.5,811.9 L1572.6,812.9 L1572.6,813.9 L1572.6,814.9 L1572.7,815.9 L1572.7,816.9 L1572.7,817.9 L1572.8,818.9 L1572.8,819.9 L1572.8,820.9 L1572.8,821.9 L1572.9,822.9 L1572.9,823.9 L1572.9,824.9 L1573.0,825.9 L1573.0,826.9 L1573.0,827.9 L1573.1,828.9 L1573.1,829.9 L1573.1,830.9 L1573.2,831.9 L1573.2,832.9 L1573.2,833.9 L1573.3,834.9 L1573.3,835.9 L1573.3,836.9 L1573.4,837.9 L1573.4,838.9 L1573.4,839.9 L1573.5,840.9 L1573.5,841.9 L1573.5,842.9 L1573.6,843.9 L1573.6,844.9 L1573.6,845.9 L1573.6,846.9 L1573.7,847.9 L1573.7,848.9 L1573.7,849.9 L1573.8,850.9 L1573.8,851.9 L1573.9,852.9 L1573.9,853.9 L1573.9,854.9 L1574.0,855.9 L1574.0,856.9 L1574.0,857.9 L1574.1,858.9 L1574.1,859.9 L1574.1,860.9 L1574.2,861.9 L1574.2,862.9 L1574.2,863.9 L1574.3,864.9 L1574.3,865.9 L1574.3,866.9 L1574.4,867.8 L1574.4,868.8 L1574.4,869.8 L1574.5,870.8 L1574.5,871.8 L1574.5,872.8 L1574.6,873.8 L1574.6,874.8 L1574.7,875.8 L1574.7,876.8 L1574.7,877.8 L1574.8,878.8 L1574.8,879.8 L1574.8,880.8 L1574.9,881.8 L1574.9,882.8 L1575.0,883.8 L1575.0,884.8 L1575.0,885.8 L1575.1,886.8 L1575.1,887.8 L1575.1,888.8 L1575.2,889.8 L1575.2,890.8 L1575.3,891.8 L1575.3,892.8 L1575.3,893.8 L1575.4,894.8 L1575.4,895.8 L1575.5,896.8 L1575.5,897.8 L1575.5,898.8 L1575.6,899.8 L1575.6,900.8 L1575.6,901.8 L1575.7,902.8 L1575.7,903.8 L1575.8,904.8 L1575.8,905.8 L1575.9,906.8 L1575.9,907.8 L1575.9,908.8 L1576.0,909.8 L1576.0,910.8 L1576.1,911.8 L1576.1,912.8 L1576.2,913.8 L1576.2,914.8 L1576.3,915.8 L1576.3,916.8 L1576.4,917.8 L1576.4,918.8 L1576.5,919.8 L1576.5,920.8 L1576.6,921.8 L1576.7,922.9 L1576.7,924.0 L1576.8,925.1 L1576.9,926.3 L1577.0,927.5 L1577.1,928.7 L1577.2,929.9 L1577.3,931.1 L1577.4,932.1 L1577.5,933.1 L1577.6,934.0 L1577.7,934.8 M1635.4,515.3 L1635.4,516.3 L1635.4,517.3 L1635.4,518.3 L1635.4,519.3 L1635.4,520.3 L1635.4,521.3 L1635.4,522.3 L1635.4,523.3 L1635.4,524.3 L1635.4,525.3 L1635.4,526.3 L1635.4,527.3 L1635.4,528.3 L1635.4,529.3 L1635.4,530.3 L1635.4,531.3 L1635.4,532.3 L1635.4,533.3 L1635.4,534.3 L1635.4,535.3 L1635.4,536.3 L1635.4,537.3 L1635.4,538.3 L1635.4,539.3 L1635.4,540.3 L1635.4,541.3 L1635.4,542.3 L1635.4,543.3 L1635.4,544.3 L1635.4,545.3 L1635.4,546.3 L1635.4,547.3 L1635.4,548.3 L1635.4,549.3 L1635.4,550.3 L1635.4,551.3 L1635.4,552.3 L1635.4,553.3 L1635.4,554.3 L1635.4,555.3 L1635.4,556.3 L1635.4,557.3 L1635.4,558.3 L1635.4,559.3 L1635.4,560.3 L1635.4,561.3 L1635.4,562.3 L1635.4,563.3 L1635.4,564.3 L1635.4,565.3 L1635.4,566.3 L1635.4,567.3 L1635.4,568.3 L1635.4,569.3 L1635.4,570.3 L1635.4,571.3 L1635.4,572.3 L1635.4,573.3 L1635.4,574.3 L1635.4,575.3 L1635.4,576.3 L1635.4,577.3 L1635.4,578.3 L1635.4,579.3 L1635.4,580.3 L1635.4,581.3 L1635.4,582.3 L1635.4,583.3 L1635.4,584.3 L1635.4,585.3 L1635.4,586.3 L1635.4,587.3 L1635.4,588.3 L1635.4,589.3 L1635.4,590.3 L1635.4,591.3 L1635.4,592.3 L1635.4,593.3 L1635.4,594.3 L1635.4,595.3 L1635.4,596.3 L1635.4,597.3 L1635.4,598.3 L1635.4,599.3 L1635.4,600.3 L1635.4,601.3 L1635.4,602.3 L1635.4,603.3 L1635.4,604.3 L1635.4,605.3 L1635.4,606.3 L1635.4,607.3 L1635.4,608.3 L1635.4,609.3 L1635.4,610.3 L1635.4,611.3 L1635.4,612.3 L1635.5,613.3 L1635.5,614.3 L1635.5,615.3 L1635.5,616.3 L1635.5,617.3 L1635.5,618.3 L1635.5,619.3 L1635.5,620.3 L1635.5,621.3 L1635.5,622.3 L1635.5,623.3 L1635.5,624.3 L1635.5,625.3 L1635.5,626.3 L1635.5,627.3 L1635.5,628.3 L1635.5,629.3 L1635.5,630.3 L1635.5,631.3 L1635.5,632.3 L1635.5,633.3 L1635.5,634.3 L1635.5,635.3 L1635.5,636.3 L1635.5,637.3 L1635.5,638.3 L1635.5,639.3 L1635.5,640.3 L1635.5,641.3 L1635.6,642.3 L1635.6,643.3 L1635.6,644.3 L1635.6,645.3 L1635.6,646.3 L1635.6,647.3 L1635.6,648.3 L1635.6,649.3 L1635.6,650.3 L1635.6,651.3 L1635.6,652.3 L1635.6,653.3 L1635.6,654.3 L1635.6,655.3 L1635.6,656.3 L1635.6,657.3 L1635.6,658.3 L1635.6,659.3 L1635.6,660.3 L1635.6,661.3 L1635.6,662.3 L1635.6,663.3 L1635.6,664.3 L1635.6,665.3 L1635.6,666.3 L1635.7,667.3 L1635.7,668.3 L1635.7,669.3 L1635.7,670.3 L1635.7,671.3 L1635.7,672.3 L1635.7,673.3 L1635.7,674.3 L1635.7,675.3 L1635.7,676.3 L1635.7,677.3 L1635.7,678.3 L1635.7,679.3 L1635.7,680.3 L1635.7,681.3 L1635.7,682.3 L1635.7,683.3 L1635.7,684.3 L1635.7,685.3 L1635.7,686.3 L1635.7,687.3 L1635.7,688.3 L1635.8,689.3 L1635.8,690.3 L1635.8,691.3 L1635.8,692.3 L1635.8,693.3 L1635.8,694.3 L1635.8,695.3 L1635.8,696.3 L1635.8,697.3 L1635.8,698.3 L1635.8,699.3 L1635.8,700.3 L1635.8,701.3 L1635.8,702.3 L1635.8,703.3 L1635.8,704.3 L1635.8,705.3 L1635.8,706.3 L1635.8,707.3 L1635.8,708.3 L1635.8,709.3 L1635.8,710.3 L1635.8,711.3 L1635.8,712.3 L1635.9,713.3 L1635.9,714.3 L1635.9,715.3 L1635.9,716.3 L1635.9,717.3 L1635.9,718.3 L1635.9,719.3 L1635.9,720.3 L1635.9,721.3 L1635.9,722.3 L1635.9,723.3 L1635.9,724.3 L1635.9,725.3 L1635.9,726.3 L1635.9,727.2 L1635.9,728.2 L1635.9,729.2 L1635.9,730.2 L1635.9,731.2 L1635.9,732.2 L1635.9,733.2 L1635.9,734.2 L1635.9,735.2 L1635.9,736.2 L1636.0,737.2 L1636.0,738.2 L1636.0,739.2 L1636.0,740.2 L1636.0,741.2 L1636.0,742.2 L1636.0,743.2 L1636.0,744.2 L1636.0,745.2 L1636.0,746.2 L1636.0,747.2 L1636.0,748.2 L1636.0,749.2 L1636.1,750.2 L1636.1,751.2 L1636.1,752.2 L1636.1,753.2 L1636.1,754.2 L1636.1,755.2 L1636.1,756.2 L1636.1,757.2 L1636.2,758.2 L1636.2,759.2 L1636.2,760.2 L1636.2,761.2 L1636.2,762.2 L1636.2,763.2 L1636.2,764.2 L1636.3,765.2 L1636.3,766.2 L1636.3,767.2 L1636.3,768.2 L1636.3,769.2 L1636.4,770.2 L1636.4,771.2 L1636.4,772.2 L1636.4,773.2 L1636.4,774.2 L1636.5,775.2 L1636.5,776.2 L1636.5,777.2 L1636.5,778.2 L1636.6,779.2 L1636.6,780.2 L1636.6,781.2 L1636.6,782.2 L1636.7,783.2 L1636.7,784.2 L1636.7,785.2 L1636.8,786.2 L1636.8,787.2 L1636.8,788.2 L1636.9,789.2 L1636.9,790.2 L1636.9,791.2 L1637.0,792.2 L1637.0,793.2 L1637.0,794.2 L1637.1,795.2 L1637.1,796.2 L1637.1,797.2 L1637.2,798.2 L1637.2,799.2 L1637.2,800.2 L1637.3,801.2 L1637.3,802.2 L1637.4,803.2 L1637.4,804.2 L1637.4,805.2 L1637.5,806.2 L1637.5,807.2 L1637.5,808.2 L1637.6,809.2 L1637.6,810.2 L1637.7,811.2 L1637.7,812.2 L1637.7,813.2 L1637.8,814.2 L1637.8,815.2 L1637.9,816.2 L1637.9,817.2 L1637.9,818.2 L1638.0,819.2 L1638.0,820.2 L1638.0,821.2 L1638.1,822.2 L1638.1,823.2 L1638.2,824.2 L1638.2,825.2 L1638.2,826.2 L1638.3,827.2 L1638.3,828.2 L1638.4,829.2 L1638.4,830.2 L1638.4,831.2 L1638.5,832.2 L1638.5,833.2 L1638.6,834.2 L1638.6,835.2 L1638.6,836.2 L1638.7,837.2 L1638.7,838.2 L1638.7,839.2 L1638.8,840.2 L1638.8,841.2 L1638.9,842.2 L1638.9,843.2 L1638.9,844.2 L1639.0,845.2 L1639.0,846.2 L1639.1,847.2 L1639.1,848.2 L1639.1,849.2 L1639.2,850.2 L1639.2,851.2 L1639.3,852.2 L1639.3,853.2 L1639.3,854.2 L1639.4,855.2 L1639.4,856.2 L1639.4,857.2 L1639.5,858.2 L1639.5,859.2 L1639.6,860.2 L1639.6,861.2 L1639.6,862.2 L1639.7,863.2 L1639.7,864.2 L1639.7,865.2 L1639.8,866.2 L1639.8,867.2 L1639.9,868.2 L1639.9,869.2 L1639.9,870.2 L1640.0,871.1 L1640.0,872.1 L1640.0,873.1 L1640.1,874.1 L1640.1,875.1 L1640.2,876.1 L1640.2,877.1 L1640.2,878.1 L1640.3,879.1 L1640.3,880.1 L1640.3,881.1 L1640.4,882.1 L1640.4,883.1 L1640.5,884.1 L1640.5,885.1 L1640.6,886.1 L1640.6,887.1 L1640.6,888.1 L1640.7,889.1 L1640.7,890.1 L1640.8,891.1 L1640.8,892.1 L1640.9,893.1 L1640.9,894.1 L1641.0,895.1 L1641.0,896.1 L1641.1,897.1 L1641.1,898.1 L1641.2,899.1 L1641.2,900.1 L1641.3,901.2 L1641.3,902.3 L1641.4,903.4 L1641.4,904.6 L1641.5,905.8 L1641.5,907.0 L1641.6,908.1 L1641.7,909.3 L1641.7,910.4 L1641.8,911.5 L1641.9,912.5 L1642.0,913.5 L1642.0,914.3 L1642.1,915.1 M1695.1,446.5 L1695.1,447.5 L1695.1,448.5 L1695.1,449.5 L1695.2,450.5 L1695.2,451.5 L1695.2,452.5 L1695.2,453.5 L1695.2,454.5 L1695.2,455.5 L1695.2,456.5 L1695.3,457.5 L1695.3,458.5 L1695.3,459.5 L1695.3,460.5 L1695.3,461.5 L1695.3,462.5 L1695.3,463.5 L1695.4,464.5 L1695.4,465.5 L1695.4,466.5 L1695.4,467.5 L1695.4,468.5 L1695.4,469.5 L1695.4,470.5 L1695.4,471.5 L1695.5,472.5 L1695.5,473.5 L1695.5,474.5 L1695.5,475.5 L1695.5,476.5 L1695.5,477.5 L1695.5,478.5 L1695.6,479.5 L1695.6,480.5 L1695.6,481.5 L1695.6,482.5 L1695.6,483.5 L1695.6,484.5 L1695.6,485.5 L1695.6,486.5 L1695.7,487.5 L1695.7,488.5 L1695.7,489.5 L1695.7,490.5 L1695.7,491.5 L1695.7,492.5 L1695.7,493.5 L1695.7,494.5 L1695.7,495.5 L1695.8,496.5 L1695.8,497.5 L1695.8,498.5 L1695.8,499.5 L1695.8,500.5 L1695.8,501.5 L1695.8,502.5 L1695.8,503.5 L1695.8,504.5 L1695.9,505.5 L1695.9,506.5 L1695.9,507.5 L1695.9,508.5 L1695.9,509.5 L1695.9,510.5 L1695.9,511.5 L1695.9,512.5 L1695.9,513.5 L1695.9,514.5 L1696.0,515.5 L1696.0,516.5 L1696.0,517.5 L1696.0,518.5 L1696.0,519.5 L1696.0,520.5 L1696.0,521.5 L1696.0,522.5 L1696.0,523.5 L1696.0,524.5 L1696.0,525.5 L1696.1,526.5 L1696.1,527.5 L1696.1,528.5 L1696.1,529.5 L1696.1,530.5 L1696.1,531.5 L1696.1,532.5 L1696.1,533.5 L1696.1,534.5 L1696.1,535.5 L1696.1,536.5 L1696.2,537.5 L1696.2,538.5 L1696.2,539.5 L1696.2,540.5 L1696.2,541.5 L1696.2,542.5 L1696.2,543.5 L1696.2,544.5 L1696.2,545.5 L1696.2,546.5 L1696.2,547.5 L1696.2,548.5 L1696.2,549.5 L1696.3,550.5 L1696.3,551.5 L1696.3,552.5 L1696.3,553.5 L1696.3,554.5 L1696.3,555.5 L1696.3,556.5 L1696.3,557.5 L1696.3,558.5 L1696.3,559.5 L1696.3,560.5 L1696.3,561.5 L1696.3,562.5 L1696.3,563.5 L1696.4,564.5 L1696.4,565.5 L1696.4,566.5 L1696.4,567.5 L1696.4,568.5 L1696.4,569.5 L1696.4,570.5 L1696.4,571.5 L1696.4,572.5 L1696.4,573.5 L1696.4,574.5 L1696.4,575.5 L1696.4,576.5 L1696.4,577.5 L1696.5,578.5 L1696.5,579.5 L1696.5,580.5 L1696.5,581.5 L1696.5,582.5 L1696.5,583.5 L1696.5,584.5 L1696.5,585.5 L1696.5,586.5 L1696.5,587.5 L1696.5,588.5 L1696.5,589.5 L1696.5,590.5 L1696.5,591.5 L1696.5,592.5 L1696.6,593.5 L1696.6,594.5 L1696.6,595.5 L1696.6,596.5 L1696.6,597.5 L1696.6,598.5 L1696.6,599.5 L1696.6,600.5 L1696.6,601.5 L1696.6,602.5 L1696.6,603.5 L1696.6,604.5 L1696.6,605.5 L1696.6,606.5 L1696.7,607.5 L1696.7,608.5 L1696.7,609.5 L1696.7,610.5 L1696.7,611.5 L1696.7,612.5 L1696.7,613.5 L1696.7,614.5 L1696.7,615.5 L1696.7,616.5 L1696.7,617.5 L1696.7,618.5 L1696.7,619.5 L1696.7,620.5 L1696.8,621.5 L1696.8,622.5 L1696.8,623.5 L1696.8,624.5 L1696.8,625.5 L1696.8,626.5 L1696.8,627.5 L1696.8,628.5 L1696.8,629.5 L1696.8,630.5 L1696.8,631.5 L1696.8,632.5 L1696.8,633.5 L1696.9,634.5 L1696.9,635.5 L1696.9,636.5 L1696.9,637.5 L1696.9,638.5 L1696.9,639.5 L1696.9,640.5 L1696.9,641.5 L1696.9,642.5 L1696.9,643.5 L1696.9,644.5 L1696.9,645.5 L1697.0,646.5 L1697.0,647.5 L1697.0,648.5 L1697.0,649.5 L1697.0,650.5 L1697.0,651.5 L1697.0,652.5 L1697.0,653.5 L1697.0,654.5 L1697.0,655.5 L1697.0,656.5 L1697.1,657.5 L1697.1,658.5 L1697.1,659.5 L1697.1,660.5 L1697.1,661.5 L1697.1,662.5 L1697.1,663.5 L1697.1,664.5 L1697.1,665.5 L1697.1,666.5 L1697.1,667.5 L1697.2,668.5 L1697.2,669.5 L1697.2,670.5 L1697.2,671.5 L1697.2,672.5 L1697.2,673.5 L1697.2,674.5 L1697.2,675.5 L1697.2,676.5 L1697.2,677.5 L1697.2,678.5 L1697.3,679.5 L1697.3,680.5 L1697.3,681.5 L1697.3,682.5 L1697.3,683.5 L1697.3,684.5 L1697.3,685.5 L1697.3,686.5 L1697.3,687.5 L1697.3,688.5 L1697.3,689.5 L1697.4,690.5 L1697.4,691.5 L1697.4,692.5 L1697.4,693.5 L1697.4,694.5 L1697.4,695.5 L1697.4,696.5 L1697.4,697.5 L1697.4,698.5 L1697.4,699.5 L1697.5,700.5 L1697.5,701.5 L1697.5,702.5 L1697.5,703.5 L1697.5,704.5 L1697.5,705.5 L1697.5,706.5 L1697.5,707.5 L1697.5,708.5 L1697.6,709.5 L1697.6,710.5 L1697.6,711.5 L1697.6,712.5 L1697.6,713.5 L1697.6,714.5 L1697.6,715.5 L1697.6,716.5 L1697.6,717.5 L1697.6,718.5 L1697.7,719.5 L1697.7,720.5 L1697.7,721.5 L1697.7,722.5 L1697.7,723.5 L1697.7,724.5 L1697.7,725.5 L1697.7,726.5 L1697.7,727.5 L1697.8,728.5 L1697.8,729.5 L1697.8,730.5 L1697.8,731.5 L1697.8,732.5 L1697.8,733.5 L1697.8,734.5 L1697.8,735.5 L1697.8,736.5 L1697.9,737.5 L1697.9,738.5 L1697.9,739.5 L1697.9,740.5 L1697.9,741.5 L1697.9,742.5 L1697.9,743.5 L1697.9,744.5 L1697.9,745.5 L1698.0,746.5 L1698.0,747.5 L1698.0,748.5 L1698.0,749.5 L1698.0,750.5 L1698.0,751.5 L1698.0,752.5 L1698.0,753.5 L1698.1,754.5 L1698.1,755.5 L1698.1,756.5 L1698.1,757.5 L1698.1,758.5 L1698.1,759.5 L1698.1,760.5 L1698.2,761.5 L1698.2,762.5 L1698.2,763.5 L1698.2,764.5 L1698.2,765.5 L1698.2,766.4 L1698.2,767.4 L1698.3,768.4 L1698.3,769.4 L1698.3,770.4 L1698.3,771.4 L1698.3,772.4 L1698.3,773.4 L1698.4,774.4 L1698.4,775.4 L1698.4,776.4 L1698.4,777.4 L1698.4,778.4 L1698.4,779.4 L1698.5,780.4 L1698.5,781.4 L1698.5,782.4 L1698.5,783.4 L1698.5,784.4 L1698.6,785.4 L1698.6,786.4 L1698.6,787.4 L1698.6,788.4 L1698.6,789.4 L1698.7,790.4 L1698.7,791.4 L1698.7,792.4 L1698.7,793.4 L1698.7,794.4 L1698.8,795.4 L1698.8,796.4 L1698.8,797.4 L1698.8,798.4 L1698.9,799.4 L1698.9,800.4 L1698.9,801.4 L1698.9,802.4 L1698.9,803.4 L1699.0,804.4 L1699.0,805.4 L1699.0,806.4 L1699.0,807.4 L1699.1,808.4 L1699.1,809.4 L1699.1,810.4 L1699.1,811.4 L1699.1,812.4 L1699.2,813.4 L1699.2,814.4 L1699.2,815.4 L1699.2,816.4 L1699.3,817.4 L1699.3,818.4 L1699.3,819.4 L1699.3,820.4 L1699.4,821.4 L1699.4,822.4 L1699.4,823.4 L1699.4,824.4 L1699.5,825.4 L1699.5,826.4 L1699.5,827.4 L1699.5,828.4 L1699.6,829.4 L1699.6,830.4 L1699.6,831.4 L1699.6,832.4 L1699.7,833.4 L1699.7,834.4 L1699.7,835.4 L1699.8,836.4 L1699.8,837.4 L1699.8,838.4 L1699.8,839.4 L1699.9,840.4 L1699.9,841.4 L1699.9,842.4 L1700.0,843.4 L1700.0,844.4 L1700.0,845.4 L1700.0,846.4 L1700.1,847.4 L1700.1,848.4 L1700.1,849.4 L1700.2,850.4 L1700.2,851.4 L1700.2,852.4 L1700.3,853.4 L1700.3,854.4 L1700.3,855.4 L1700.4,856.4 L1700.4,857.4 L1700.4,858.4 L1700.5,859.4 L1700.5,860.4 L1700.5,861.4 L1700.6,862.4 L1700.6,863.4 L1700.6,864.4 L1700.7,865.4 L1700.7,866.4 L1700.7,867.5 L1700.8,868.5 L1700.8,869.6 L1700.8,870.7 L1700.9,871.9 L1700.9,873.1 L1700.9,874.3 L1701.0,875.5 L1701.0,876.7 L1701.1,877.9 L1701.1,879.1 L1701.1,880.3 L1701.2,881.5 L1701.2,882.6 L1701.3,883.7 L1701.3,884.8 L1701.3,885.8 L1701.4,886.8 L1701.4,887.7 L1701.5,888.6 L1701.5,889.4 L1701.5,890.1 L1701.6,890.7" fill="none" stroke="#000" stroke-width="4.6" stroke-linecap="round" stroke-dasharray="0 3.6"/>
<circle cx="454.0" cy="895.0" r="2.3" fill="#000"/>
<circle cx="613.7" cy="866.0" r="2.3" fill="#000"/>
<circle cx="763.7" cy="835.3" r="2.3" fill="#000"/>
<circle cx="901.6" cy="808.3" r="2.3" fill="#000"/>
<circle cx="1027.5" cy="783.3" r="2.3" fill="#000"/>
<circle cx="1141.4" cy="757.3" r="2.3" fill="#000"/>
<circle cx="1244.3" cy="729.3" r="2.3" fill="#000"/>
<circle cx="1337.5" cy="700.5" r="2.3" fill="#000"/>
<circle cx="1422.5" cy="669.3" r="2.3" fill="#000"/>
<circle cx="1499.5" cy="631.4" r="2.3" fill="#000"/>
<circle cx="1570.4" cy="583.0" r="2.3" fill="#000"/>
<circle cx="1635.4" cy="515.3" r="2.3" fill="#000"/>
<circle cx="1695.1" cy="446.5" r="2.3" fill="#000"/>
<path d="M1726.6,1018.4 L1726.8,1047.5 L1727.3,1050.8 L1728.4,1052.2 L1730.4,1052.7" fill="none" stroke="#000" stroke-width="4.0" stroke-linejoin="round" stroke-linecap="round"/>
<circle cx="1726.5" cy="1008.0" r="2.2" fill="#000"/>
<circle cx="1726.5" cy="1010.6" r="2.2" fill="#000"/>
<circle cx="1726.6" cy="1018.2" r="2.2" fill="#000"/>
<rect x="1692.9" y="144.5" width="4.1" height="924.0" fill="#0000ff"/>
<rect x="250.5" y="466.7" width="1550.0" height="4.2" fill="#008000"/>
<rect x="250.5" y="338.7" width="1550.0" height="2.1" fill="#ffa500"/>
<circle cx="1695.4" cy="446.8" r="7.55" fill="#ffff00" fill-opacity="0.27"/>
<circle cx="1695.4" cy="449.9" r="7.55" fill="#ffff00" fill-opacity="0.27"/>
<circle cx="1695.4" cy="453.1" r="7.55" fill="#ffff00" fill-opacity="0.27"/>
<circle cx="1695.4" cy="456.2" r="7.55" fill="#ffff00" fill-opacity="0.27"/>
<circle cx="1695.4" cy="459.4" r="7.55" fill="#ffff00" fill-opacity="0.27"/>
<circle cx="1695.4" cy="462.5" r="7.55" fill="#ffff00" fill-opacity="0.27"/>
<circle cx="1695.4" cy="465.6" r="7.55" fill="#ffff00" fill-opacity="0.27"/>
<circle cx="1695.4" cy="468.7" r="7.55" fill="#ffff00" fill-opacity="0.27"/>
</g>
<text transform="translate(774.7,840.5) rotate(-80)" font-size="17.5" textLength="33.8" lengthAdjust="spacingAndGlyphs">n=1</text>
<text transform="translate(913.5,813.0) rotate(-80)" font-size="17.5" textLength="33.8" lengthAdjust="spacingAndGlyphs">n=2</text>
<text transform="translate(1038.6,788.0) rotate(-80)" font-size="17.5" textLength="33.8" lengthAdjust="spacingAndGlyphs">n=3</text>
<text transform="translate(1152.6,762.0) rotate(-80)" font-size="17.5" textLength="33.8" lengthAdjust="spacingAndGlyphs">n=4</text>
<text transform="translate(1255.6,733.3) rotate(-80)" font-size="17.5" textLength="33.8" lengthAdjust="spacingAndGlyphs">n=5</text>
<text transform="translate(1348.6,705.1) rotate(-80)" font-size="17.5" textLength="33.8" lengthAdjust="spacingAndGlyphs">n=6</text>
<text transform="translate(1433.6,673.0) rotate(-80)" font-size="17.5" textLength="33.8" lengthAdjust="spacingAndGlyphs">n=7</text>
<text transform="translate(1510.6,635.1) rotate(-80)" font-size="17.5" textLength="33.8" lengthAdjust="spacingAndGlyphs">n=8</text>
<text transform="translate(1582.1,587.3) rotate(-80)" font-size="17.5" textLength="33.8" lengthAdjust="spacingAndGlyphs">n=9</text>
<text transform="translate(1647.7,519.0) rotate(-80)" font-size="17.5" textLength="44.4" lengthAdjust="spacingAndGlyphs">n=10</text>
<text transform="translate(1708.0,452.0) rotate(-80)" font-size="17.5" textLength="44.4" lengthAdjust="spacingAndGlyphs">n=11</text>
<rect x="250.5" y="144.5" width="1550.0" height="924.0" fill="none" stroke="#000" stroke-width="1.1"/>
<rect x="248.05" y="1068.5" width="5.9" height="10.3" fill="#000"/>
<rect x="285.05" y="1068.5" width="5.9" height="10.3" fill="#000"/>
<rect x="323.05" y="1068.5" width="5.9" height="16.2" fill="#000"/>
<rect x="361.05" y="1068.5" width="5.9" height="10.3" fill="#000"/>
<rect x="398.05" y="1068.5" width="5.9" height="10.3" fill="#000"/>
<rect x="436.05" y="1068.5" width="5.9" height="10.3" fill="#000"/>
<rect x="474.05" y="1068.5" width="5.9" height="10.3" fill="#000"/>
<rect x="511.05" y="1068.5" width="5.9" height="16.2" fill="#000"/>
<rect x="549.05" y="1068.5" width="5.9" height="10.3" fill="#000"/>
<rect x="586.05" y="1068.5" width="5.9" height="10.3" fill="#000"/>
<rect x="624.05" y="1068.5" width="5.9" height="10.3" fill="#000"/>
<rect x="662.05" y="1068.5" width="5.9" height="10.3" fill="#000"/>
<rect x="699.05" y="1068.5" width="5.9" height="16.2" fill="#000"/>
<rect x="737.05" y="1068.5" width="5.9" height="10.3" fill="#000"/>
<rect x="775.05" y="1068.5" width="5.9" height="10.3" fill="#000"/>
<rect x="812.05" y="1068.5" width="5.9" height="10.3" fill="#000"/>
<rect x="850.05" y="1068.5" width="5.9" height="10.3" fill="#000"/>
<rect x="887.05" y="1068.5" width="5.9" height="16.2" fill="#000"/>
<rect x="925.05" y="1068.5" width="5.9" height="10.3" fill="#000"/>
<rect x="963.05" y="1068.5" width="5.9" height="10.3" fill="#000"/>
<rect x="1000.05" y="1068.5" width="5.9" height="10.3" fill="#000"/>
<rect x="1038.05" y="1068.5" width="5.9" height="10.3" fill="#000"/>
<rect x="1076.05" y="1068.5" width="5.9" height="16.2" fill="#000"/>
<rect x="1113.05" y="1068.5" width="5.9" height="10.3" fill="#000"/>
<rect x="1151.05" y="1068.5" width="5.9" height="10.3" fill="#000"/>
<rect x="1189.05" y="1068.5" width="5.9" height="10.3" fill="#000"/>
<rect x="1226.05" y="1068.5" width="5.9" height="10.3" fill="#000"/>
<rect x="1264.05" y="1068.5" width="5.9" height="16.2" fill="#000"/>
<rect x="1301.05" y="1068.5" width="5.9" height="10.3" fill="#000"/>
<rect x="1339.05" y="1068.5" width="5.9" height="10.3" fill="#000"/>
<rect x="1377.05" y="1068.5" width="5.9" height="10.3" fill="#000"/>
<rect x="1414.05" y="1068.5" width="5.9" height="10.3" fill="#000"/>
<rect x="1452.05" y="1068.5" width="5.9" height="16.2" fill="#000"/>
<rect x="1490.05" y="1068.5" width="5.9" height="10.3" fill="#000"/>
<rect x="1527.05" y="1068.5" width="5.9" height="10.3" fill="#000"/>
<rect x="1565.05" y="1068.5" width="5.9" height="10.3" fill="#000"/>
<rect x="1602.05" y="1068.5" width="5.9" height="10.3" fill="#000"/>
<rect x="1640.05" y="1068.5" width="5.9" height="16.2" fill="#000"/>
<rect x="1678.05" y="1068.5" width="5.9" height="10.3" fill="#000"/>
<rect x="1715.05" y="1068.5" width="5.9" height="10.3" fill="#000"/>
<rect x="1753.05" y="1068.5" width="5.9" height="10.3" fill="#000"/>
<rect x="1791.05" y="1068.5" width="5.9" height="10.3" fill="#000"/>
<text x="326.0" y="1117.2" font-size="37.6" text-anchor="middle" textLength="147.5" lengthAdjust="spacingAndGlyphs">2046.25</text>
<text x="514.2" y="1117.2" font-size="37.6" text-anchor="middle" textLength="147.5" lengthAdjust="spacingAndGlyphs">2046.50</text>
<text x="702.3" y="1117.2" font-size="37.6" text-anchor="middle" textLength="147.5" lengthAdjust="spacingAndGlyphs">2046.75</text>
<text x="890.5" y="1117.2" font-size="37.6" text-anchor="middle" textLength="147.5" lengthAdjust="spacingAndGlyphs">2047.00</text>
<text x="1078.6" y="1117.2" font-size="37.6" text-anchor="middle" textLength="147.5" lengthAdjust="spacingAndGlyphs">2047.25</text>
<text x="1266.8" y="1117.2" font-size="37.6" text-anchor="middle" textLength="147.5" lengthAdjust="spacingAndGlyphs">2047.50</text>
<text x="1455.0" y="1117.2" font-size="37.6" text-anchor="middle" textLength="147.5" lengthAdjust="spacingAndGlyphs">2047.75</text>
<text x="1643.1" y="1117.2" font-size="37.6" text-anchor="middle" textLength="147.5" lengthAdjust="spacingAndGlyphs">2048.00</text>
<rect x="233.0" y="1049.10" width="17.5" height="5.8" fill="#000"/>
<rect x="239.2" y="1016.10" width="11.3" height="5.8" fill="#000"/>
<rect x="239.2" y="984.10" width="11.3" height="5.8" fill="#000"/>
<rect x="239.2" y="951.10" width="11.3" height="5.8" fill="#000"/>
<rect x="239.2" y="918.10" width="11.3" height="5.8" fill="#000"/>
<rect x="233.0" y="886.10" width="17.5" height="5.8" fill="#000"/>
<rect x="239.2" y="853.10" width="11.3" height="5.8" fill="#000"/>
<rect x="239.2" y="820.10" width="11.3" height="5.8" fill="#000"/>
<rect x="239.2" y="788.10" width="11.3" height="5.8" fill="#000"/>
<rect x="239.2" y="755.10" width="11.3" height="5.8" fill="#000"/>
<rect x="233.0" y="722.10" width="17.5" height="5.8" fill="#000"/>
<rect x="239.2" y="690.10" width="11.3" height="5.8" fill="#000"/>
<rect x="239.2" y="657.10" width="11.3" height="5.8" fill="#000"/>
<rect x="239.2" y="624.10" width="11.3" height="5.8" fill="#000"/>
<rect x="239.2" y="592.10" width="11.3" height="5.8" fill="#000"/>
<rect x="233.0" y="559.10" width="17.5" height="5.8" fill="#000"/>
<rect x="239.2" y="526.10" width="11.3" height="5.8" fill="#000"/>
<rect x="239.2" y="494.10" width="11.3" height="5.8" fill="#000"/>
<rect x="239.2" y="461.10" width="11.3" height="5.8" fill="#000"/>
<rect x="239.2" y="428.10" width="11.3" height="5.8" fill="#000"/>
<rect x="233.0" y="396.10" width="17.5" height="5.8" fill="#000"/>
<rect x="239.2" y="363.10" width="11.3" height="5.8" fill="#000"/>
<rect x="239.2" y="330.10" width="11.3" height="5.8" fill="#000"/>
<rect x="239.2" y="298.10" width="11.3" height="5.8" fill="#000"/>
<rect x="239.2" y="265.10" width="11.3" height="5.8" fill="#000"/>
<rect x="233.0" y="232.10" width="17.5" height="5.8" fill="#000"/>
<rect x="239.2" y="200.10" width="11.3" height="5.8" fill="#000"/>
<rect x="239.2" y="167.10" width="11.3" height="5.8" fill="#000"/>
<text x="227.9" y="1065.6" font-size="37.6" text-anchor="end" textLength="21.2" lengthAdjust="spacingAndGlyphs">0</text>
<text x="227.9" y="902.2" font-size="37.6" text-anchor="end" textLength="67.8" lengthAdjust="spacingAndGlyphs">100</text>
<text x="227.9" y="738.9" font-size="37.6" text-anchor="end" textLength="67.8" lengthAdjust="spacingAndGlyphs">200</text>
<text x="227.9" y="575.6" font-size="37.6" text-anchor="end" textLength="67.8" lengthAdjust="spacingAndGlyphs">300</text>
<text x="227.9" y="412.2" font-size="37.6" text-anchor="end" textLength="67.8" lengthAdjust="spacingAndGlyphs">400</text>
<text x="227.9" y="248.8" font-size="37.6" text-anchor="end" textLength="67.8" lengthAdjust="spacingAndGlyphs">500</text>
<text x="1024.2" y="1171.4" font-size="58" text-anchor="middle" textLength="270.6" lengthAdjust="spacingAndGlyphs">Age (Myr)</text>
<text transform="translate(141.0,607.5) rotate(-90)" font-size="58" text-anchor="middle" textLength="465" lengthAdjust="spacingAndGlyphs">O1 period (days)</text>
<rect x="263.7" y="157.2" width="534.8" height="218.3" rx="4.6" ry="4.6" fill="#fff" fill-opacity="0.8" stroke="#ccc" stroke-opacity="0.8" stroke-width="1.4"/>
<rect x="272" y="175.9" width="52" height="2.1" fill="#000"/>
<circle cx="298.4" cy="177" r="2.1" fill="#000"/>
<rect x="270.8" y="211.9" width="54.3" height="4.2" fill="#0000ff"/>
<rect x="270.8" y="248.7" width="54.3" height="4.2" fill="#008000"/>
<rect x="272" y="286" width="52" height="2.1" fill="#ffa500"/>
<circle cx="298.5" cy="340.3" r="7.4" fill="#ffff00" fill-opacity="0.3"/>
<text x="342.3" y="186.0" font-size="25.4" textLength="291.5" lengthAdjust="spacingAndGlyphs">m1.40_z0.0010_y0.251</text>
<text x="342.3" y="223.0" font-size="25.4" textLength="407.5" lengthAdjust="spacingAndGlyphs">peak detector horizontal bounds</text>
<text x="342.3" y="260.2" font-size="25.4" textLength="445.5" lengthAdjust="spacingAndGlyphs">min. P consistent with observations</text>
<text x="342.3" y="296.4" font-size="25.4" textLength="408.8" lengthAdjust="spacingAndGlyphs">max. P must fall within this span</text>
<text x="342.3" y="332.8" font-size="25.4" textLength="280.6" lengthAdjust="spacingAndGlyphs">intersection w/ P,L,T,R</text>
<text x="342.3" y="359.8" font-size="25.4" textLength="190.4" lengthAdjust="spacingAndGlyphs">loosely defined</text>
</svg>
</body></html>
